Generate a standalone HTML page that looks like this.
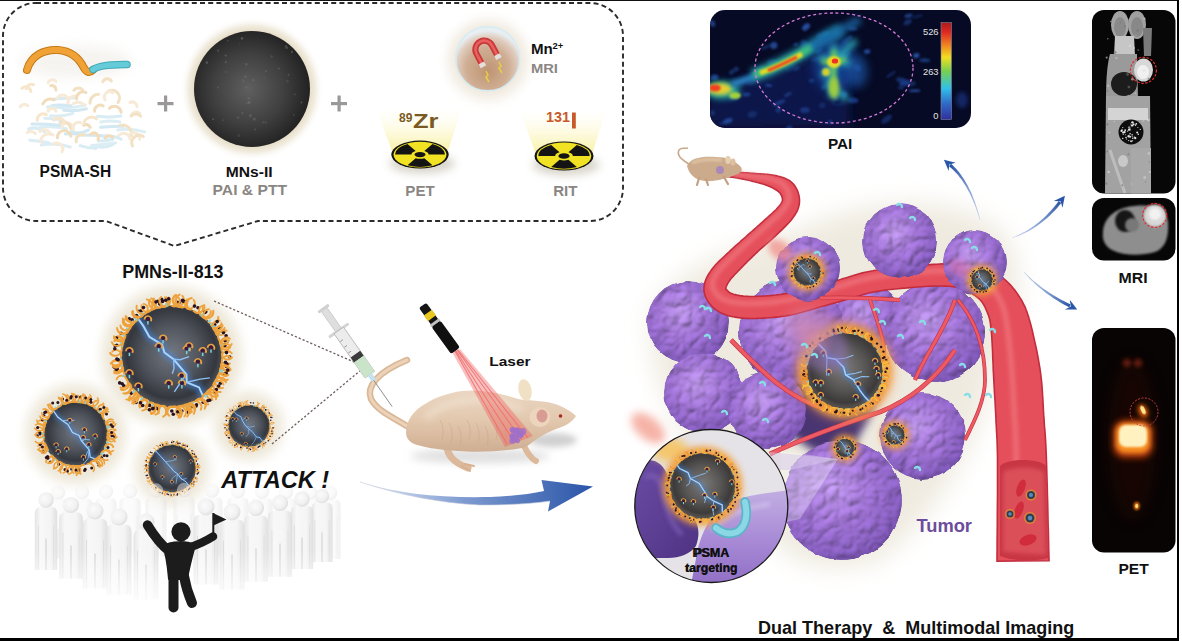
<!DOCTYPE html>
<html><head><meta charset="utf-8">
<style>
html,body{margin:0;padding:0;background:#fff;}
body{width:1182px;height:641px;overflow:hidden;position:relative;font-family:"Liberation Sans",sans-serif;}
svg{position:absolute;left:0;top:0;}
text{font-family:"Liberation Sans",sans-serif;font-weight:bold;}
</style></head>
<body>
<svg width="1182" height="641" viewBox="0 0 1182 641">
<defs>
  <filter id="b05" x="-50%" y="-50%" width="200%" height="200%"><feGaussianBlur stdDeviation="0.5"/></filter>
  <filter id="b1" x="-50%" y="-50%" width="200%" height="200%"><feGaussianBlur stdDeviation="1"/></filter>
  <filter id="b2" x="-50%" y="-50%" width="200%" height="200%"><feGaussianBlur stdDeviation="2"/></filter>
  <filter id="b3" x="-50%" y="-50%" width="200%" height="200%"><feGaussianBlur stdDeviation="3"/></filter>
  <filter id="b4" x="-50%" y="-50%" width="200%" height="200%"><feGaussianBlur stdDeviation="4"/></filter>
  <filter id="b6" x="-50%" y="-50%" width="200%" height="200%"><feGaussianBlur stdDeviation="6"/></filter>
  <filter id="b8" x="-50%" y="-50%" width="200%" height="200%"><feGaussianBlur stdDeviation="8"/></filter>
  <filter id="b12" x="-50%" y="-50%" width="200%" height="200%"><feGaussianBlur stdDeviation="12"/></filter>
  <radialGradient id="gSphere" cx="0.47" cy="0.5" r="0.55">
    <stop offset="0" stop-color="#5f5f5f"/><stop offset="0.55" stop-color="#404040"/><stop offset="1" stop-color="#1f1f1f"/>
  </radialGradient>
  <radialGradient id="gCore" cx="0.5" cy="0.47" r="0.5">
    <stop offset="0" stop-color="#747880"/><stop offset="0.55" stop-color="#50545c"/><stop offset="0.88" stop-color="#34373e"/><stop offset="1" stop-color="#4a4d54"/>
  </radialGradient>
  <radialGradient id="gCore2" cx="0.5" cy="0.47" r="0.5">
    <stop offset="0" stop-color="#7c7a78"/><stop offset="0.55" stop-color="#585654"/><stop offset="0.88" stop-color="#3c3a3a"/><stop offset="1" stop-color="#54504c"/>
  </radialGradient>
  <radialGradient id="gGlow" cx="0.5" cy="0.5" r="0.5">
    <stop offset="0.78" stop-color="#e2d8bf" stop-opacity="1"/><stop offset="0.88" stop-color="#ebe4d2" stop-opacity="0.7"/><stop offset="1" stop-color="#ffffff" stop-opacity="0"/>
  </radialGradient>
  <radialGradient id="gBubble" cx="0.5" cy="0.62" r="0.55" fx="0.5" fy="0.7">
    <stop offset="0" stop-color="#bf9472"/><stop offset="0.6" stop-color="#cfae94"/><stop offset="0.85" stop-color="#e0ccbe"/><stop offset="1" stop-color="#e8eef2"/>
  </radialGradient>
  <radialGradient id="gTum" cx="0.42" cy="0.38" r="0.68">
    <stop offset="0" stop-color="#b58ee2"/><stop offset="0.45" stop-color="#9a6ccf"/><stop offset="0.8" stop-color="#8358bc"/><stop offset="1" stop-color="#663e9e"/>
  </radialGradient>
  <linearGradient id="gBeam" x1="0" y1="1" x2="0" y2="0">
    <stop offset="0" stop-color="#f7ef9a" stop-opacity="1"/><stop offset="1" stop-color="#fffbe0" stop-opacity="0"/>
  </linearGradient>
  <linearGradient id="gArrow" x1="0" y1="0" x2="1" y2="0">
    <stop offset="0" stop-color="#e6ecf6"/><stop offset="0.45" stop-color="#7d9ad0"/><stop offset="1" stop-color="#2a55a8"/>
  </linearGradient>
  <linearGradient id="gCbar" x1="0" y1="0" x2="0" y2="1">
    <stop offset="0" stop-color="#a81c1c"/><stop offset="0.1" stop-color="#e02822"/><stop offset="0.25" stop-color="#f09020"/>
    <stop offset="0.36" stop-color="#f0e020"/><stop offset="0.5" stop-color="#78d050"/><stop offset="0.68" stop-color="#30c0e8"/>
    <stop offset="0.84" stop-color="#3068c8"/><stop offset="1" stop-color="#30309a"/>
  </linearGradient>
  <linearGradient id="gVes" x1="0" y1="0" x2="1" y2="0">
    <stop offset="0" stop-color="#d63848"/><stop offset="0.35" stop-color="#f0606a"/><stop offset="0.7" stop-color="#e8505c"/><stop offset="1" stop-color="#c82c3c"/>
  </linearGradient>
  <filter id="tumTex" x="-8%" y="-8%" width="116%" height="116%">
    <feTurbulence type="fractalNoise" baseFrequency="0.07" numOctaves="1" seed="2" result="dn"/>
    <feDisplacementMap in="SourceGraphic" in2="dn" scale="5" xChannelSelector="R" yChannelSelector="G" result="src"/>
    <feTurbulence type="turbulence" baseFrequency="0.075" numOctaves="2" seed="5" result="n0"/>
    <feGaussianBlur in="n0" stdDeviation="0.8" result="n"/>
    <feDiffuseLighting in="n" surfaceScale="2.6" diffuseConstant="1" lighting-color="#ffffff" result="l"><feDistantLight azimuth="235" elevation="48"/></feDiffuseLighting>
    <feComposite in="src" in2="l" operator="arithmetic" k1="1.18" k2="0.12" k3="0" k4="0.02" result="m"/>
    <feComposite in="m" in2="src" operator="in"/>
  </filter>
  <clipPath id="cPAI"><rect x="710" y="10" width="261" height="118" rx="15"/></clipPath>
  <clipPath id="cMRI1"><rect x="1092" y="10" width="83.5" height="183.5" rx="12"/></clipPath>
  <clipPath id="cMRI2"><rect x="1092" y="198" width="83.5" height="62.5" rx="12"/></clipPath>
  <clipPath id="cPET"><rect x="1092" y="328" width="83.5" height="224.5" rx="12"/></clipPath>
  <clipPath id="cCirc"><circle cx="711.3" cy="506" r="76.5"/></clipPath>
</defs>

<rect x="0" y="0" width="1177" height="1" fill="#111"/>
<rect x="1177" y="0" width="2" height="641" fill="#000"/>
<rect x="0" y="638" width="1179" height="3" fill="#000"/>
<path d="M36,3 H590 A33,33 0 0 1 623,36 V188 A33,33 0 0 1 590,221 H258 L174.5,246 L106,221 H36 A33,33 0 0 1 3,188 V36 A33,33 0 0 1 36,3 Z" fill="none" stroke="#2b2b2b" stroke-width="1.9" stroke-dasharray="5,3.2"/>
<ellipse cx="76" cy="62" rx="55" ry="16" fill="#efece6" filter="url(#b6)" opacity="0.6"/>
<path d="M80.0,135.1 Q93.4,135.3 106.8,136.0" stroke="#d2e8f2" stroke-width="3" stroke-linecap="round" fill="none"/>
<path d="M103.1,136.8 Q112.1,134.5 121.1,139.2" stroke="#d8ecf4" stroke-width="3" stroke-linecap="round" fill="none"/>
<path d="M63.7,110.3 Q75.1,111.7 86.4,108.8" stroke="#d2e8f2" stroke-width="3" stroke-linecap="round" fill="none"/>
<path d="M57.3,107.1 Q71.2,108.9 85.1,105.1" stroke="#dcedf4" stroke-width="3" stroke-linecap="round" fill="none"/>
<path d="M28.7,128.9 Q36.7,125.9 44.7,131.7" stroke="#d8ecf4" stroke-width="3" stroke-linecap="round" fill="none"/>
<path d="M96.0,146.0 Q104.3,148.8 112.7,144.7" stroke="#d8ecf4" stroke-width="3" stroke-linecap="round" fill="none"/>
<path d="M71.2,131.9 Q79.8,134.7 88.4,130.1" stroke="#d2e8f2" stroke-width="3" stroke-linecap="round" fill="none"/>
<path d="M54.6,99.1 Q64.9,98.1 75.3,97.7" stroke="#d8ecf4" stroke-width="3" stroke-linecap="round" fill="none"/>
<path d="M100.6,127.3 Q112.4,126.2 124.2,126.3" stroke="#d2e8f2" stroke-width="3" stroke-linecap="round" fill="none"/>
<path d="M100.8,122.0 Q110.3,120.1 119.8,121.9" stroke="#dcedf4" stroke-width="3" stroke-linecap="round" fill="none"/>
<path d="M41.2,145.0 Q55.7,142.1 70.3,147.0" stroke="#dcedf4" stroke-width="3" stroke-linecap="round" fill="none"/>
<path d="M97.5,116.3 Q109.1,117.6 120.8,116.0" stroke="#d8ecf4" stroke-width="3" stroke-linecap="round" fill="none"/>
<path d="M80.1,145.7 Q88.1,148.4 96.0,148.3" stroke="#d8ecf4" stroke-width="3" stroke-linecap="round" fill="none"/>
<path d="M50.5,115.7 Q61.7,117.2 72.9,113.4" stroke="#dcedf4" stroke-width="3" stroke-linecap="round" fill="none"/>
<path d="M98.5,141.0 Q105.8,141.1 113.1,139.2" stroke="#d8ecf4" stroke-width="3" stroke-linecap="round" fill="none"/>
<path d="M52.4,105.4 Q61.6,104.3 70.8,105.7" stroke="#d2e8f2" stroke-width="3" stroke-linecap="round" fill="none"/>
<path d="M47.6,106.9 Q55.2,105.7 62.8,108.2" stroke="#d8ecf4" stroke-width="3" stroke-linecap="round" fill="none"/>
<path d="M65.3,134.0 Q72.9,133.4 80.6,134.2" stroke="#d2e8f2" stroke-width="3" stroke-linecap="round" fill="none"/>
<path d="M39.2,127.7 Q52.8,125.6 66.4,128.6" stroke="#dcedf4" stroke-width="3" stroke-linecap="round" fill="none"/>
<path d="M117.8,129.9 Q131.2,127.7 144.6,131.9" stroke="#dcedf4" stroke-width="3" stroke-linecap="round" fill="none"/>
<path d="M91.6,145.5 Q103.6,145.1 115.6,143.1" stroke="#dcedf4" stroke-width="3" stroke-linecap="round" fill="none"/>
<path d="M29.8,140.2 Q39.2,141.0 48.5,142.8" stroke="#dcedf4" stroke-width="3" stroke-linecap="round" fill="none"/>
<path d="M31.9,124.1 Q46.6,124.0 61.3,125.5" stroke="#d2e8f2" stroke-width="3" stroke-linecap="round" fill="none"/>
<path d="M44.8,118.2 Q53.0,118.4 61.2,120.1" stroke="#dcedf4" stroke-width="3" stroke-linecap="round" fill="none"/>
<path d="M40.6,141.9 A8.3,8.3 0 0 1 53.0,134.9" stroke="#f7ead6" stroke-width="3" stroke-linecap="round" fill="none"/>
<path d="M27.3,132.5 A5.8,5.8 0 0 1 35.4,133.6" stroke="#f7ead6" stroke-width="3" stroke-linecap="round" fill="none"/>
<path d="M61.8,126.5 A5.4,5.4 0 0 1 71.9,126.3" stroke="#f7ead6" stroke-width="3" stroke-linecap="round" fill="none"/>
<path d="M130.0,102.4 A4.9,4.9 0 0 1 137.0,106.8" stroke="#f7ead6" stroke-width="3" stroke-linecap="round" fill="none"/>
<path d="M57.5,98.1 A5.4,5.4 0 0 1 67.3,98.1" stroke="#f7ead6" stroke-width="3" stroke-linecap="round" fill="none"/>
<path d="M60.0,122.5 A7.7,7.7 0 0 1 70.7,128.7" stroke="#f3e1c4" stroke-width="3" stroke-linecap="round" fill="none"/>
<path d="M120.0,125.4 A8.9,8.9 0 0 1 131.4,135.6" stroke="#f3e1c4" stroke-width="3" stroke-linecap="round" fill="none"/>
<path d="M42.8,103.9 A8.3,8.3 0 0 1 54.1,99.8" stroke="#f1dcbc" stroke-width="3" stroke-linecap="round" fill="none"/>
<path d="M39.8,131.5 A6.9,6.9 0 0 1 50.8,134.5" stroke="#f7ead6" stroke-width="3" stroke-linecap="round" fill="none"/>
<path d="M102.8,81.8 A4.8,4.8 0 0 1 111.4,81.0" stroke="#f3e1c4" stroke-width="3" stroke-linecap="round" fill="none"/>
<path d="M107.3,91.9 A7.6,7.6 0 0 1 118.0,102.5" stroke="#f3e1c4" stroke-width="3" stroke-linecap="round" fill="none"/>
<path d="M26.2,88.8 A5.6,5.6 0 0 1 33.6,84.7" stroke="#f6e6cc" stroke-width="3" stroke-linecap="round" fill="none"/>
<path d="M67.8,103.2 A7.3,7.3 0 0 1 76.4,96.1" stroke="#f7ead6" stroke-width="3" stroke-linecap="round" fill="none"/>
<path d="M20.1,106.8 A5.4,5.4 0 0 1 27.9,105.6" stroke="#f7ead6" stroke-width="3" stroke-linecap="round" fill="none"/>
<path d="M130.9,116.3 A5.5,5.5 0 0 1 139.8,113.3" stroke="#f7ead6" stroke-width="3" stroke-linecap="round" fill="none"/>
<path d="M130.2,134.0 A6.1,6.1 0 0 1 139.8,139.2" stroke="#f7ead6" stroke-width="3" stroke-linecap="round" fill="none"/>
<path d="M73.8,90.3 A5.9,5.9 0 0 1 82.7,90.0" stroke="#f3e1c4" stroke-width="3" stroke-linecap="round" fill="none"/>
<path d="M90.0,103.2 A8.5,8.5 0 0 1 98.6,94.3" stroke="#f3e1c4" stroke-width="3" stroke-linecap="round" fill="none"/>
<path d="M57.4,137.8 A6.8,6.8 0 0 1 70.9,136.3" stroke="#f1dcbc" stroke-width="3" stroke-linecap="round" fill="none"/>
<path d="M53.5,144.2 A5.9,5.9 0 0 1 62.0,151.9" stroke="#f7ead6" stroke-width="3" stroke-linecap="round" fill="none"/>
<path d="M105.2,99.9 A5.3,5.3 0 0 1 112.7,92.7" stroke="#f7ead6" stroke-width="3" stroke-linecap="round" fill="none"/>
<path d="M76.6,98.9 A6.4,6.4 0 0 1 85.9,92.5" stroke="#f1dcbc" stroke-width="3" stroke-linecap="round" fill="none"/>
<path d="M48.2,82.6 A4.7,4.7 0 0 1 56.0,81.3" stroke="#f7ead6" stroke-width="3" stroke-linecap="round" fill="none"/>
<path d="M48.0,111.3 A4.2,4.2 0 0 1 56.0,111.2" stroke="#f7ead6" stroke-width="3" stroke-linecap="round" fill="none"/>
<path d="M53.7,120.1 A6.4,6.4 0 0 1 64.6,122.7" stroke="#f6e6cc" stroke-width="3" stroke-linecap="round" fill="none"/>
<path d="M21.9,88.3 A5.4,5.4 0 0 1 30.9,91.4" stroke="#f6e6cc" stroke-width="3" stroke-linecap="round" fill="none"/>
<path d="M73.4,103.8 A7.7,7.7 0 0 1 84.3,105.4" stroke="#f7ead6" stroke-width="3" stroke-linecap="round" fill="none"/>
<path d="M83.6,125.3 A4.5,4.5 0 0 1 90.2,127.3" stroke="#f1dcbc" stroke-width="3" stroke-linecap="round" fill="none"/>
<path d="M109.5,108.2 A6.9,6.9 0 0 1 121.1,112.2" stroke="#f1dcbc" stroke-width="3" stroke-linecap="round" fill="none"/>
<path d="M118.7,135.5 A6.4,6.4 0 0 1 129.9,138.9" stroke="#f7ead6" stroke-width="3" stroke-linecap="round" fill="none"/>
<path d="M73.5,130.0 A5.5,5.5 0 0 1 80.7,122.7" stroke="#f7ead6" stroke-width="3" stroke-linecap="round" fill="none"/>
<path d="M94.6,111.2 A5.6,5.6 0 0 1 103.2,106.0" stroke="#f1dcbc" stroke-width="3" stroke-linecap="round" fill="none"/>
<path d="M131.9,115.5 A6.1,6.1 0 0 1 140.6,116.1" stroke="#f3e1c4" stroke-width="3" stroke-linecap="round" fill="none"/>
<path d="M50.7,85.6 A4.3,4.3 0 0 1 56.0,90.1" stroke="#f1dcbc" stroke-width="3" stroke-linecap="round" fill="none"/>
<path d="M132.5,145.9 A7.5,7.5 0 0 1 143.3,136.4" stroke="#f3e1c4" stroke-width="3" stroke-linecap="round" fill="none"/>
<path d="M90.7,134.4 A4.6,4.6 0 0 1 98.0,139.8" stroke="#f1dcbc" stroke-width="3" stroke-linecap="round" fill="none"/>
<path d="M37.2,120.3 A6.1,6.1 0 0 1 46.4,114.7" stroke="#f6e6cc" stroke-width="3" stroke-linecap="round" fill="none"/>
<path d="M83.9,123.6 A7.7,7.7 0 0 1 96.5,118.9" stroke="#f6e6cc" stroke-width="3" stroke-linecap="round" fill="none"/>
<path d="M105.4,138.0 A4.7,4.7 0 0 1 112.7,137.2" stroke="#f1dcbc" stroke-width="3" stroke-linecap="round" fill="none"/>
<path d="M76.3,141.9 A5.9,5.9 0 0 1 84.4,135.0" stroke="#f3e1c4" stroke-width="3" stroke-linecap="round" fill="none"/>
<path d="M27,70 C31,55 45,49 58,50 C72,51 80,60 84,68 C87,73 90,73 93,70" stroke="#c47a18" stroke-width="8" stroke-linecap="round" fill="none"/>
<path d="M27,70 C31,55 45,49 58,50 C72,51 80,60 84,68 C87,73 90,73 93,70" stroke="#f0a236" stroke-width="6" stroke-linecap="round" fill="none"/>
<path d="M93,69.5 C100,65 110,65 127,64.5" stroke="#3fa8b8" stroke-width="7.5" stroke-linecap="round" fill="none"/>
<path d="M93,69.5 C100,65 110,65 127,64.5" stroke="#66cbd8" stroke-width="5.5" stroke-linecap="round" fill="none"/>
<circle cx="252" cy="89" r="72" fill="url(#gGlow)"/>
<circle cx="252" cy="89" r="58" fill="url(#gSphere)"/>
<circle cx="255.1" cy="129.5" r="1.0" fill="#7a7a7a" opacity="0.38"/>
<circle cx="242.1" cy="79.0" r="0.6" fill="#7a7a7a" opacity="0.45"/>
<circle cx="250.4" cy="115.6" r="1.6" fill="#7a7a7a" opacity="0.34"/>
<circle cx="271.6" cy="56.5" r="1.2" fill="#7a7a7a" opacity="0.25"/>
<circle cx="218.1" cy="50.6" r="1.1" fill="#7a7a7a" opacity="0.42"/>
<circle cx="245.4" cy="76.7" r="1.4" fill="#7a7a7a" opacity="0.38"/>
<circle cx="248.9" cy="98.2" r="1.5" fill="#7a7a7a" opacity="0.34"/>
<circle cx="242.0" cy="38.4" r="1.3" fill="#7a7a7a" opacity="0.48"/>
<circle cx="213.1" cy="119.2" r="1.0" fill="#7a7a7a" opacity="0.48"/>
<circle cx="264.4" cy="77.2" r="0.7" fill="#7a7a7a" opacity="0.27"/>
<circle cx="287.5" cy="81.2" r="1.2" fill="#7a7a7a" opacity="0.29"/>
<circle cx="217.9" cy="87.4" r="1.0" fill="#7a7a7a" opacity="0.38"/>
<circle cx="206.9" cy="62.6" r="1.3" fill="#7a7a7a" opacity="0.48"/>
<circle cx="285.9" cy="46.0" r="1.3" fill="#7a7a7a" opacity="0.25"/>
<circle cx="286.6" cy="47.5" r="1.5" fill="#7a7a7a" opacity="0.37"/>
<circle cx="246.3" cy="64.4" r="1.4" fill="#7a7a7a" opacity="0.37"/>
<circle cx="249.0" cy="102.5" r="1.5" fill="#7a7a7a" opacity="0.50"/>
<circle cx="293.8" cy="115.0" r="1.0" fill="#7a7a7a" opacity="0.25"/>
<circle cx="238.9" cy="135.4" r="1.5" fill="#7a7a7a" opacity="0.21"/>
<circle cx="243.2" cy="81.3" r="1.3" fill="#7a7a7a" opacity="0.30"/>
<circle cx="291.9" cy="51.9" r="1.1" fill="#7a7a7a" opacity="0.50"/>
<circle cx="246.4" cy="103.2" r="1.2" fill="#7a7a7a" opacity="0.21"/>
<circle cx="263.4" cy="122.2" r="1.2" fill="#7a7a7a" opacity="0.25"/>
<circle cx="301.4" cy="102.5" r="0.9" fill="#7a7a7a" opacity="0.49"/>
<circle cx="278.9" cy="68.6" r="1.1" fill="#7a7a7a" opacity="0.36"/>
<circle cx="225.7" cy="55.6" r="1.2" fill="#7a7a7a" opacity="0.39"/>
<circle cx="288.5" cy="74.7" r="1.0" fill="#7a7a7a" opacity="0.42"/>
<circle cx="254.3" cy="119.1" r="1.6" fill="#7a7a7a" opacity="0.36"/>
<circle cx="246.4" cy="87.2" r="1.0" fill="#7a7a7a" opacity="0.37"/>
<circle cx="294.8" cy="94.4" r="1.2" fill="#7a7a7a" opacity="0.22"/>
<circle cx="225.8" cy="62.1" r="1.3" fill="#7a7a7a" opacity="0.31"/>
<circle cx="239.4" cy="43.5" r="0.6" fill="#7a7a7a" opacity="0.22"/>
<circle cx="227.8" cy="40.7" r="0.9" fill="#7a7a7a" opacity="0.34"/>
<circle cx="226.0" cy="71.9" r="1.0" fill="#7a7a7a" opacity="0.29"/>
<circle cx="223.1" cy="120.1" r="0.9" fill="#7a7a7a" opacity="0.31"/>
<circle cx="253.3" cy="80.1" r="1.2" fill="#7a7a7a" opacity="0.42"/>
<circle cx="242.4" cy="113.1" r="1.4" fill="#7a7a7a" opacity="0.27"/>
<circle cx="265.9" cy="122.5" r="1.3" fill="#7a7a7a" opacity="0.23"/>
<circle cx="238.1" cy="117.6" r="1.4" fill="#7a7a7a" opacity="0.33"/>
<circle cx="265.9" cy="71.2" r="0.9" fill="#7a7a7a" opacity="0.40"/>
<g fill="#9a9898"><rect x="157.5" y="102" width="16" height="3.2"/><rect x="164" y="95.5" width="3.2" height="16"/><rect x="331" y="102" width="16" height="3.2"/><rect x="337.5" y="95.5" width="3.2" height="16"/></g>
<circle cx="488" cy="60" r="40" fill="#ece4d6" filter="url(#b6)" opacity="0.8"/>
<circle cx="487.7" cy="58.8" r="32.5" fill="url(#gBubble)"/>
<circle cx="487.7" cy="58.8" r="32" fill="none" stroke="#d4ecf4" stroke-width="1.5"/>
<g transform="translate(485,51) rotate(-28) scale(0.88)"><path d="M-10,12 V-2 A10,10 0 0 1 10,-2 V12" fill="none" stroke="#c83838" stroke-width="7"/><path d="M-10,12 V-2 A10,10 0 0 1 10,-2 V12" fill="none" stroke="#e86060" stroke-width="3"/><rect x="-13.5" y="10" width="7" height="5" fill="#e4e0dc"/><rect x="6.5" y="10" width="7" height="5" fill="#e4e0dc"/></g>
<path d="M486,71 l2,4 l-2,2 l3,5" stroke="#e8d040" stroke-width="1.5" fill="none"/>
<path d="M499,62 l2,4 l-2,2 l3,5" stroke="#e8d040" stroke-width="1.5" fill="none"/>
<polygon points="376,108.6 462,108.6 446.7,154.6 393.3,154.6" fill="url(#gBeam)"/><ellipse cx="422" cy="163.6" rx="32.7" ry="9.799999999999999" fill="#c8c2b4" filter="url(#b4)" opacity="0.7"/><g transform="translate(420,154.6) scale(1,0.4878)"><circle r="28.7" fill="#141414"/><circle r="26.5" fill="#f2e224"/><path d="M-8.61,0.00 L-24.97,0.00 A24.968999999999998,24.968999999999998 0 0 1 -12.48,-21.62 L-4.31,-7.46 A8.61,8.61 0 0 0 -8.61,0.00Z" fill="#141414"/><path d="M4.31,-7.46 L12.48,-21.62 A24.968999999999998,24.968999999999998 0 0 1 24.97,-0.00 L8.61,-0.00 A8.61,8.61 0 0 0 4.31,-7.46Z" fill="#141414"/><path d="M4.31,7.46 L12.48,21.62 A24.968999999999998,24.968999999999998 0 0 1 -12.48,21.62 L-4.30,7.46 A8.61,8.61 0 0 0 4.31,7.46Z" fill="#141414"/><circle r="6.60" fill="#f2e224"/><circle r="5.45" fill="#141414"/></g>
<polygon points="520,110 606,110 591.5,156 536.5,156" fill="url(#gBeam)"/><ellipse cx="566" cy="165" rx="33.5" ry="10.149999999999999" fill="#c8c2b4" filter="url(#b4)" opacity="0.7"/><g transform="translate(564,156) scale(1,0.4915)"><circle r="29.5" fill="#141414"/><circle r="27.3" fill="#f2e224"/><path d="M-8.85,0.00 L-25.66,0.00 A25.665,25.665 0 0 1 -12.83,-22.23 L-4.43,-7.66 A8.85,8.85 0 0 0 -8.85,0.00Z" fill="#141414"/><path d="M4.43,-7.66 L12.83,-22.23 A25.665,25.665 0 0 1 25.66,-0.00 L8.85,-0.00 A8.85,8.85 0 0 0 4.43,-7.66Z" fill="#141414"/><path d="M4.43,7.66 L12.83,22.23 A25.665,25.665 0 0 1 -12.83,22.23 L-4.42,7.66 A8.85,8.85 0 0 0 4.43,7.66Z" fill="#141414"/><circle r="6.79" fill="#f2e224"/><circle r="5.61" fill="#141414"/></g>
<rect x="710" y="10" width="261" height="118" rx="15" fill="#070a24"/>
<g clip-path="url(#cPAI)">
<path d="M708,86 L760,76 L800,62 L830,48 L848,70 L850,128 L708,130Z" fill="#0b184a" filter="url(#b6)"/>
<ellipse cx="822.2" cy="105.6" rx="3.4" ry="3.0" fill="#163070" opacity="0.75" transform="rotate(-7 822.2 105.6)" filter="url(#b1)"/>
<ellipse cx="778.2" cy="110.2" rx="2.7" ry="2.5" fill="#2a58b0" opacity="0.47" transform="rotate(-0 778.2 110.2)" filter="url(#b1)"/>
<ellipse cx="752.3" cy="114.4" rx="4.8" ry="3.4" fill="#1c4488" opacity="0.51" transform="rotate(-13 752.3 114.4)" filter="url(#b1)"/>
<ellipse cx="727.6" cy="121.0" rx="5.2" ry="2.6" fill="#2a58b0" opacity="0.74" transform="rotate(-20 727.6 121.0)" filter="url(#b1)"/>
<ellipse cx="818.8" cy="51.0" rx="3.9" ry="1.3" fill="#2a58b0" opacity="0.78" transform="rotate(-22 818.8 51.0)" filter="url(#b1)"/>
<ellipse cx="916.3" cy="55.5" rx="3.2" ry="2.5" fill="#2a58b0" opacity="0.88" transform="rotate(-14 916.3 55.5)" filter="url(#b1)"/>
<ellipse cx="751.4" cy="82.1" rx="4.7" ry="3.3" fill="#1c4488" opacity="0.53" transform="rotate(-25 751.4 82.1)" filter="url(#b1)"/>
<ellipse cx="833.6" cy="102.8" rx="2.0" ry="2.9" fill="#163070" opacity="0.57" transform="rotate(-17 833.6 102.8)" filter="url(#b1)"/>
<ellipse cx="768.6" cy="85.4" rx="3.5" ry="1.4" fill="#21489c" opacity="0.89" transform="rotate(6 768.6 85.4)" filter="url(#b1)"/>
<ellipse cx="714.4" cy="77.4" rx="4.0" ry="2.9" fill="#21489c" opacity="0.88" transform="rotate(-10 714.4 77.4)" filter="url(#b1)"/>
<ellipse cx="891.0" cy="74.3" rx="6.1" ry="1.3" fill="#163070" opacity="0.86" transform="rotate(-35 891.0 74.3)" filter="url(#b1)"/>
<ellipse cx="846.8" cy="40.0" rx="6.8" ry="2.5" fill="#1c4488" opacity="0.80" transform="rotate(-38 846.8 40.0)" filter="url(#b1)"/>
<ellipse cx="900.9" cy="80.0" rx="4.8" ry="2.4" fill="#21489c" opacity="0.62" transform="rotate(8 900.9 80.0)" filter="url(#b1)"/>
<ellipse cx="789.1" cy="127.8" rx="3.5" ry="2.0" fill="#21489c" opacity="0.70" transform="rotate(-14 789.1 127.8)" filter="url(#b1)"/>
<ellipse cx="822.5" cy="34.3" rx="6.5" ry="2.5" fill="#1c4488" opacity="0.49" transform="rotate(-17 822.5 34.3)" filter="url(#b1)"/>
<ellipse cx="807.4" cy="46.1" rx="6.9" ry="3.1" fill="#21489c" opacity="0.63" transform="rotate(-2 807.4 46.1)" filter="url(#b1)"/>
<ellipse cx="904.8" cy="83.0" rx="5.9" ry="3.1" fill="#1a3c8c" opacity="0.89" transform="rotate(-17 904.8 83.0)" filter="url(#b1)"/>
<ellipse cx="886.6" cy="119.2" rx="6.3" ry="3.0" fill="#1a3c8c" opacity="0.61" transform="rotate(-37 886.6 119.2)" filter="url(#b1)"/>
<ellipse cx="825.9" cy="33.8" rx="3.3" ry="2.0" fill="#1c4488" opacity="0.87" transform="rotate(-11 825.9 33.8)" filter="url(#b1)"/>
<ellipse cx="924.7" cy="60.3" rx="5.8" ry="2.0" fill="#1c4488" opacity="0.78" transform="rotate(2 924.7 60.3)" filter="url(#b1)"/>
<ellipse cx="717.2" cy="96.8" rx="3.6" ry="1.5" fill="#163070" opacity="0.46" transform="rotate(2 717.2 96.8)" filter="url(#b1)"/>
<ellipse cx="857.2" cy="68.0" rx="3.1" ry="3.5" fill="#21489c" opacity="0.79" transform="rotate(-32 857.2 68.0)" filter="url(#b1)"/>
<ellipse cx="773.2" cy="62.6" rx="6.5" ry="3.0" fill="#1c4488" opacity="0.70" transform="rotate(5 773.2 62.6)" filter="url(#b1)"/>
<ellipse cx="852.6" cy="28.5" rx="4.7" ry="1.9" fill="#1c4488" opacity="0.80" transform="rotate(4 852.6 28.5)" filter="url(#b1)"/>
<ellipse cx="746.3" cy="94.5" rx="4.1" ry="1.9" fill="#21489c" opacity="0.78" transform="rotate(-2 746.3 94.5)" filter="url(#b1)"/>
<ellipse cx="736.3" cy="69.2" rx="2.4" ry="2.4" fill="#2a58b0" opacity="0.52" transform="rotate(-36 736.3 69.2)" filter="url(#b1)"/>
<ellipse cx="773.8" cy="45.5" rx="3.6" ry="3.4" fill="#2a58b0" opacity="0.77" transform="rotate(-25 773.8 45.5)" filter="url(#b1)"/>
<ellipse cx="900.9" cy="87.8" rx="3.2" ry="1.7" fill="#163070" opacity="0.83" transform="rotate(2 900.9 87.8)" filter="url(#b1)"/>
<ellipse cx="803.8" cy="43.3" rx="3.5" ry="3.4" fill="#1a3c8c" opacity="0.72" transform="rotate(4 803.8 43.3)" filter="url(#b1)"/>
<ellipse cx="712.6" cy="112.8" rx="2.3" ry="2.8" fill="#1c4488" opacity="0.65" transform="rotate(-19 712.6 112.8)" filter="url(#b1)"/>
<ellipse cx="765.8" cy="47.1" rx="5.8" ry="1.7" fill="#21489c" opacity="0.50" transform="rotate(-22 765.8 47.1)" filter="url(#b1)"/>
<ellipse cx="846.2" cy="56.0" rx="5.3" ry="2.0" fill="#2a58b0" opacity="0.65" transform="rotate(-34 846.2 56.0)" filter="url(#b1)"/>
<ellipse cx="835.6" cy="97.6" rx="2.7" ry="3.2" fill="#1a3c8c" opacity="0.78" transform="rotate(-29 835.6 97.6)" filter="url(#b1)"/>
<ellipse cx="796.4" cy="68.4" rx="3.6" ry="2.1" fill="#21489c" opacity="0.51" transform="rotate(-31 796.4 68.4)" filter="url(#b1)"/>
<ellipse cx="712.5" cy="23.4" rx="2.5" ry="3.5" fill="#2a58b0" opacity="0.65" transform="rotate(-27 712.5 23.4)" filter="url(#b1)"/>
<ellipse cx="824.2" cy="87.1" rx="3.3" ry="2.5" fill="#1c4488" opacity="0.79" transform="rotate(-38 824.2 87.1)" filter="url(#b1)"/>
<ellipse cx="825.3" cy="74.0" rx="5.5" ry="1.8" fill="#1a3c8c" opacity="0.71" transform="rotate(5 825.3 74.0)" filter="url(#b1)"/>
<ellipse cx="790.0" cy="67.5" rx="6.0" ry="3.5" fill="#163070" opacity="0.58" transform="rotate(-29 790.0 67.5)" filter="url(#b1)"/>
<ellipse cx="839.2" cy="104.3" rx="4.6" ry="1.5" fill="#163070" opacity="0.59" transform="rotate(-9 839.2 104.3)" filter="url(#b1)"/>
<ellipse cx="733.5" cy="98.2" rx="5.2" ry="2.5" fill="#21489c" opacity="0.62" transform="rotate(-6 733.5 98.2)" filter="url(#b1)"/>
<ellipse cx="828.8" cy="62.7" rx="2.0" ry="2.3" fill="#2a58b0" opacity="0.84" transform="rotate(-13 828.8 62.7)" filter="url(#b1)"/>
<ellipse cx="779.5" cy="65.3" rx="6.4" ry="1.4" fill="#1a3c8c" opacity="0.72" transform="rotate(-25 779.5 65.3)" filter="url(#b1)"/>
<ellipse cx="853.2" cy="100.4" rx="5.4" ry="2.8" fill="#1a3c8c" opacity="0.83" transform="rotate(2 853.2 100.4)" filter="url(#b1)"/>
<ellipse cx="914.8" cy="90.7" rx="6.0" ry="1.4" fill="#2a58b0" opacity="0.78" transform="rotate(0 914.8 90.7)" filter="url(#b1)"/>
<ellipse cx="815.2" cy="59.6" rx="4.9" ry="2.5" fill="#163070" opacity="0.77" transform="rotate(-10 815.2 59.6)" filter="url(#b1)"/>
<ellipse cx="911.6" cy="84.0" rx="4.3" ry="2.2" fill="#1c4488" opacity="0.58" transform="rotate(-18 911.6 84.0)" filter="url(#b1)"/>
<ellipse cx="721.3" cy="123.4" rx="2.0" ry="1.3" fill="#21489c" opacity="0.53" transform="rotate(-4 721.3 123.4)" filter="url(#b1)"/>
<ellipse cx="830.3" cy="122.0" rx="2.1" ry="2.4" fill="#1a3c8c" opacity="0.78" transform="rotate(-5 830.3 122.0)" filter="url(#b1)"/>
<ellipse cx="779.1" cy="102.8" rx="6.9" ry="2.0" fill="#21489c" opacity="0.70" transform="rotate(-24 779.1 102.8)" filter="url(#b1)"/>
<ellipse cx="806.0" cy="26.9" rx="4.5" ry="2.9" fill="#2a58b0" opacity="0.86" transform="rotate(-40 806.0 26.9)" filter="url(#b1)"/>
<ellipse cx="795.8" cy="44.5" rx="2.7" ry="1.2" fill="#21489c" opacity="0.87" transform="rotate(-17 795.8 44.5)" filter="url(#b1)"/>
<ellipse cx="787.8" cy="94.5" rx="4.3" ry="1.6" fill="#2a58b0" opacity="0.52" transform="rotate(-28 787.8 94.5)" filter="url(#b1)"/>
<ellipse cx="732.0" cy="72.0" rx="3.3" ry="2.2" fill="#1c4488" opacity="0.65" transform="rotate(-40 732.0 72.0)" filter="url(#b1)"/>
<ellipse cx="820.6" cy="36.7" rx="3.8" ry="2.8" fill="#1a3c8c" opacity="0.49" transform="rotate(-2 820.6 36.7)" filter="url(#b1)"/>
<ellipse cx="758.9" cy="70.7" rx="6.2" ry="2.5" fill="#21489c" opacity="0.70" transform="rotate(-40 758.9 70.7)" filter="url(#b1)"/>
<ellipse cx="908.5" cy="15.8" rx="4.1" ry="2.0" fill="#2a58b0" opacity="0.67" transform="rotate(-11 908.5 15.8)" filter="url(#b1)"/>
<ellipse cx="844.3" cy="45.0" rx="6.0" ry="2.7" fill="#1c4488" opacity="0.48" transform="rotate(-26 844.3 45.0)" filter="url(#b1)"/>
<ellipse cx="867.1" cy="51.5" rx="3.2" ry="2.3" fill="#2a58b0" opacity="0.81" transform="rotate(-8 867.1 51.5)" filter="url(#b1)"/>
<ellipse cx="844.4" cy="93.9" rx="2.8" ry="2.6" fill="#21489c" opacity="0.85" transform="rotate(7 844.4 93.9)" filter="url(#b1)"/>
<ellipse cx="809.9" cy="48.0" rx="5.5" ry="3.0" fill="#1a3c8c" opacity="0.77" transform="rotate(-33 809.9 48.0)" filter="url(#b1)"/>
<ellipse cx="917.6" cy="16.3" rx="5.9" ry="1.4" fill="#163070" opacity="0.69" transform="rotate(-15 917.6 16.3)" filter="url(#b1)"/>
<ellipse cx="907.7" cy="22.1" rx="4.5" ry="2.6" fill="#21489c" opacity="0.56" transform="rotate(-33 907.7 22.1)" filter="url(#b1)"/>
<ellipse cx="804.9" cy="110.1" rx="5.0" ry="3.0" fill="#21489c" opacity="0.61" transform="rotate(-1 804.9 110.1)" filter="url(#b1)"/>
<ellipse cx="811.6" cy="80.6" rx="2.9" ry="2.2" fill="#1c4488" opacity="0.73" transform="rotate(8 811.6 80.6)" filter="url(#b1)"/>
<ellipse cx="722" cy="90" rx="18" ry="9" fill="#20a8a0" filter="url(#b3)"/>
<ellipse cx="720" cy="89" rx="12" ry="6" fill="#e0d030" filter="url(#b2)"/>
<ellipse cx="715" cy="88" rx="6" ry="3.5" fill="#f04020" filter="url(#b1)"/>
<ellipse cx="735" cy="95.5" rx="6" ry="3.5" fill="#a0d040" filter="url(#b1)"/>
<path d="M732,84 C740,82 748,79 756,76" stroke="#2a80c0" stroke-width="7" fill="none" filter="url(#b2)"/>
<path d="M752,76 C770,70 790,60 812,47 C822,40 832,34 842,30" stroke="#2090b0" stroke-width="14" fill="none" opacity="0.8" filter="url(#b3)"/>
<path d="M754,75 C770,70 788,62 812,47" stroke="#40c080" stroke-width="8" fill="none" filter="url(#b2)"/>
<path d="M760,73 C772,69 786,63 802,54" stroke="#e0d828" stroke-width="5" fill="none" filter="url(#b1)"/>
<path d="M768,70.5 C777,67 787,62 797,57" stroke="#ee3820" stroke-width="3" fill="none" filter="url(#b1)"/>
<path d="M812,47 C825,38 840,30 860,20" stroke="#1a70b0" stroke-width="8" fill="none" opacity="0.8" filter="url(#b3)"/>
<ellipse cx="836" cy="66" rx="22" ry="26" fill="#1848a0" opacity="0.75" filter="url(#b6)"/>
<path d="M834,44 L832,98 M818,58 L852,64 M822,76 L846,54 M826,82 L848,100 M836,60 L856,40" stroke="#2aa8b8" stroke-width="6" fill="none" filter="url(#b3)"/>
<path d="M834,50 L833,92 M822,62 L846,60" stroke="#70c850" stroke-width="4.5" fill="none" filter="url(#b2)"/>
<ellipse cx="834" cy="62" rx="7" ry="6" fill="#e8d828" filter="url(#b1)"/>
<ellipse cx="835" cy="61" rx="3.2" ry="2.6" fill="#f03020" filter="url(#b05)"/>
<ellipse cx="834" cy="88" rx="5" ry="11" fill="#a0cc40" filter="url(#b2)"/>
<ellipse cx="826" cy="72" rx="4" ry="4" fill="#d0d030" filter="url(#b1)"/>
<ellipse cx="858" cy="72" rx="10" ry="16" fill="#1a58a8" opacity="0.6" filter="url(#b4)"/>
<ellipse cx="962" cy="100" rx="6" ry="8" fill="#1a3a90" opacity="0.6" filter="url(#b2)"/>
</g>
<ellipse cx="834" cy="68" rx="79" ry="55" fill="none" stroke="#d27ad8" stroke-width="1.3" stroke-dasharray="3,2.6"/>
<rect x="941" y="22.5" width="10.5" height="97" fill="url(#gCbar)" stroke="#8080a0" stroke-width="0.6"/>
<g font-size="9.3" fill="#e4e4e4" font-weight="normal" text-anchor="end" style="font-weight:normal"><text x="938.5" y="34.5" style="font-weight:normal">526</text><text x="938.5" y="74.6" style="font-weight:normal">263</text><text x="938.5" y="119.3" style="font-weight:normal">0</text></g>
<rect x="1092" y="10" width="83.5" height="183.5" rx="12" fill="#070707"/>
<g clip-path="url(#cMRI1)">
<g filter="url(#b05)">
<ellipse cx="1120" cy="25" rx="9" ry="14" fill="#a4a4a4"/><ellipse cx="1137" cy="25" rx="9" ry="14" fill="#a0a0a0"/>
<ellipse cx="1120" cy="27" rx="6" ry="10" fill="#8a8a8a"/><ellipse cx="1137" cy="27" rx="6" ry="10" fill="#888"/>
<path d="M1115,36 L1134,36 L1135,56 L1114,56Z" fill="#c6c6c6"/>
<path d="M1110,54 L1137,54 L1138,100 L1106,100 C1106,80 1107,65 1110,54Z" fill="#9a9a9a"/>
<ellipse cx="1124" cy="84" rx="13" ry="12" fill="#1c1c1c"/>
<path d="M1143,28 L1152,28 L1151,56 L1144,56Z" fill="#7a7a7a"/>
<ellipse cx="1143.5" cy="70" rx="9.5" ry="11.5" fill="#d8d8d8"/>
<ellipse cx="1143" cy="72" rx="6" ry="7" fill="#f0f0f0"/>
<path d="M1106,96 L1150,96 L1151,193 L1105,193 Z" fill="#a2a2a2"/>
<rect x="1108" y="108" width="40" height="12" fill="#d4d4d4"/>
<ellipse cx="1131" cy="132" rx="12.5" ry="12.5" fill="#0e0e0e"/>
<rect x="1131" y="148" width="20" height="46" fill="#a8a8a8"/>
<ellipse cx="1123" cy="161" rx="5" ry="6" fill="#c8c8c8"/>
<path d="M1110,150 C1115,165 1120,180 1125,193" stroke="#bdbdbd" stroke-width="3" fill="none"/>
</g>
<circle cx="1130.3" cy="129.8" r="0.6" fill="#e4e4e4"/>
<circle cx="1131.1" cy="140.9" r="0.6" fill="#e4e4e4"/>
<circle cx="1132.1" cy="134.9" r="0.5" fill="#e4e4e4"/>
<circle cx="1128.6" cy="136.8" r="0.8" fill="#e4e4e4"/>
<circle cx="1135.5" cy="125.3" r="0.7" fill="#e4e4e4"/>
<circle cx="1123.2" cy="132.6" r="1.1" fill="#e4e4e4"/>
<circle cx="1132.8" cy="138.3" r="0.8" fill="#e4e4e4"/>
<circle cx="1135.9" cy="124.1" r="0.7" fill="#e4e4e4"/>
<circle cx="1134.5" cy="137.2" r="0.8" fill="#e4e4e4"/>
<circle cx="1122.8" cy="127.6" r="0.6" fill="#e4e4e4"/>
<circle cx="1126.6" cy="139.0" r="0.6" fill="#e4e4e4"/>
<circle cx="1122.1" cy="130.0" r="0.8" fill="#e4e4e4"/>
<circle cx="1121.5" cy="130.9" r="1.1" fill="#e4e4e4"/>
<circle cx="1123.2" cy="134.5" r="0.6" fill="#e4e4e4"/>
<circle cx="1132.6" cy="140.8" r="0.6" fill="#e4e4e4"/>
<circle cx="1131.8" cy="122.4" r="0.6" fill="#e4e4e4"/>
<circle cx="1130.9" cy="141.3" r="0.8" fill="#e4e4e4"/>
<circle cx="1129.0" cy="135.4" r="0.6" fill="#e4e4e4"/>
<circle cx="1132.6" cy="125.6" r="0.9" fill="#e4e4e4"/>
<circle cx="1132.1" cy="134.7" r="0.6" fill="#e4e4e4"/>
<circle cx="1125.7" cy="134.8" r="0.5" fill="#e4e4e4"/>
<circle cx="1128.3" cy="136.2" r="0.9" fill="#e4e4e4"/>
<circle cx="1136.5" cy="123.8" r="0.7" fill="#e4e4e4"/>
<circle cx="1138.3" cy="134.3" r="0.8" fill="#e4e4e4"/>
<circle cx="1132.5" cy="122.4" r="1.1" fill="#e4e4e4"/>
<circle cx="1127.6" cy="131.1" r="0.6" fill="#e4e4e4"/>
<circle cx="1129.9" cy="128.8" r="0.6" fill="#e4e4e4"/>
<circle cx="1133.6" cy="124.2" r="1.0" fill="#e4e4e4"/>
<circle cx="1137.2" cy="132.4" r="1.0" fill="#e4e4e4"/>
<circle cx="1126.0" cy="137.5" r="0.8" fill="#e4e4e4"/>
<circle cx="1129.0" cy="129.8" r="1.1" fill="#e4e4e4"/>
<circle cx="1128.4" cy="136.0" r="0.6" fill="#e4e4e4"/>
<circle cx="1137.9" cy="127.4" r="0.5" fill="#e4e4e4"/>
<circle cx="1133.1" cy="122.2" r="0.5" fill="#e4e4e4"/>
<circle cx="1125.2" cy="130.2" r="0.9" fill="#e4e4e4"/>
<circle cx="1140.3" cy="129.4" r="0.6" fill="#e4e4e4"/>
<circle cx="1132.2" cy="124.9" r="0.6" fill="#e4e4e4"/>
<circle cx="1132.1" cy="136.6" r="0.5" fill="#e4e4e4"/>
<circle cx="1130.0" cy="136.8" r="1.0" fill="#e4e4e4"/>
<circle cx="1128.7" cy="140.6" r="0.6" fill="#e4e4e4"/>
<circle cx="1135.3" cy="138.2" r="1.1" fill="#e4e4e4"/>
<circle cx="1130.9" cy="124.1" r="0.5" fill="#e4e4e4"/>
<circle cx="1131.6" cy="125.6" r="0.9" fill="#e4e4e4"/>
<circle cx="1122.7" cy="138.4" r="0.7" fill="#e4e4e4"/>
<circle cx="1130.1" cy="133.7" r="0.8" fill="#e4e4e4"/>
<circle cx="1124.5" cy="132.1" r="1.2" fill="#e4e4e4"/>
<circle cx="1131.7" cy="141.8" r="0.5" fill="#e4e4e4"/>
<circle cx="1149.7" cy="172.0" r="1.1" fill="#e0e0e0" opacity="0.6"/>
<circle cx="1129.2" cy="127.5" r="1.3" fill="#e0e0e0" opacity="0.6"/>
<circle cx="1131.3" cy="184.0" r="0.7" fill="#d0d0d0" opacity="0.6"/>
<circle cx="1137.7" cy="30.6" r="1.2" fill="#707070" opacity="0.6"/>
<circle cx="1108.7" cy="172.0" r="1.3" fill="#e0e0e0" opacity="0.6"/>
<circle cx="1132.5" cy="79.2" r="1.4" fill="#d0d0d0" opacity="0.6"/>
<circle cx="1122.3" cy="185.3" r="1.1" fill="#707070" opacity="0.6"/>
<circle cx="1144.5" cy="18.5" r="1.1" fill="#e0e0e0" opacity="0.6"/>
<circle cx="1108.1" cy="85.8" r="1.1" fill="#d0d0d0" opacity="0.6"/>
<circle cx="1114.3" cy="121.5" r="0.8" fill="#d0d0d0" opacity="0.6"/>
<circle cx="1107.3" cy="124.4" r="1.1" fill="#707070" opacity="0.6"/>
<circle cx="1107.1" cy="151.6" r="0.9" fill="#707070" opacity="0.6"/>
<circle cx="1106.4" cy="183.7" r="1.1" fill="#707070" opacity="0.6"/>
<circle cx="1149.4" cy="161.9" r="0.7" fill="#707070" opacity="0.6"/>
<circle cx="1135.5" cy="93.3" r="0.7" fill="#d0d0d0" opacity="0.6"/>
<circle cx="1110.8" cy="21.5" r="0.7" fill="#e0e0e0" opacity="0.6"/>
<circle cx="1149.0" cy="79.0" r="1.3" fill="#707070" opacity="0.6"/>
<circle cx="1133.6" cy="48.1" r="1.4" fill="#d0d0d0" opacity="0.6"/>
<circle cx="1116.4" cy="58.1" r="1.1" fill="#d0d0d0" opacity="0.6"/>
<circle cx="1106.7" cy="57.6" r="1.1" fill="#d0d0d0" opacity="0.6"/>
<circle cx="1128.9" cy="87.1" r="1.4" fill="#707070" opacity="0.6"/>
<circle cx="1143.5" cy="120.9" r="0.8" fill="#d0d0d0" opacity="0.6"/>
<circle cx="1136.0" cy="35.8" r="0.6" fill="#d0d0d0" opacity="0.6"/>
<circle cx="1148.9" cy="153.5" r="1.4" fill="#d0d0d0" opacity="0.6"/>
<circle cx="1144.6" cy="177.6" r="1.5" fill="#d0d0d0" opacity="0.6"/>
<circle cx="1107.3" cy="91.1" r="1.0" fill="#707070" opacity="0.6"/>
<circle cx="1127.6" cy="74.4" r="1.4" fill="#707070" opacity="0.6"/>
<circle cx="1124.9" cy="26.1" r="0.9" fill="#707070" opacity="0.6"/>
<circle cx="1132.9" cy="114.3" r="1.0" fill="#d0d0d0" opacity="0.6"/>
<circle cx="1120.5" cy="22.6" r="0.7" fill="#707070" opacity="0.6"/>
<circle cx="1129.9" cy="45.9" r="1.2" fill="#e0e0e0" opacity="0.6"/>
<circle cx="1145.5" cy="181.9" r="0.7" fill="#707070" opacity="0.6"/>
<circle cx="1148.3" cy="119.9" r="1.4" fill="#e0e0e0" opacity="0.6"/>
<circle cx="1138.3" cy="50.0" r="1.1" fill="#707070" opacity="0.6"/>
<circle cx="1109.3" cy="132.6" r="1.0" fill="#d0d0d0" opacity="0.6"/>
<circle cx="1144.1" cy="70.3" r="1.4" fill="#e0e0e0" opacity="0.6"/>
<circle cx="1128.1" cy="95.4" r="0.6" fill="#e0e0e0" opacity="0.6"/>
<circle cx="1115.0" cy="52.3" r="1.5" fill="#707070" opacity="0.6"/>
<circle cx="1107.8" cy="38.8" r="0.7" fill="#d0d0d0" opacity="0.6"/>
<circle cx="1128.4" cy="154.2" r="1.0" fill="#707070" opacity="0.6"/>
</g>
<circle cx="1143.4" cy="70.3" r="13" fill="none" stroke="#e03030" stroke-width="1.2" stroke-dasharray="2.5,1.5"/>
<rect x="1092" y="198" width="83.5" height="62.5" rx="12" fill="#070707"/>
<g clip-path="url(#cMRI2)">
<path d="M1103,232 C1104,216 1118,207 1135,206 C1150,204 1166,208 1168,222 C1169,236 1166,248 1155,252 C1140,256 1125,256 1112,250 C1105,246 1102,240 1103,232Z" fill="#8e8e8e" filter="url(#b1)"/>
<ellipse cx="1125" cy="221" rx="10" ry="11" fill="#181818" filter="url(#b1)"/>
<ellipse cx="1132" cy="225" rx="7" ry="7" fill="#787878" filter="url(#b1)"/>
<circle cx="1155" cy="215.5" r="11" fill="#d8d8d8" filter="url(#b1)"/>
<circle cx="1155" cy="214" r="6" fill="#f2f2f2" filter="url(#b1)"/>
</g>
<circle cx="1154.7" cy="215.5" r="12" fill="none" stroke="#e03030" stroke-width="1.2" stroke-dasharray="2.5,1.5"/>
<rect x="1092" y="328" width="83.5" height="224.5" rx="12" fill="#080404"/>
<g clip-path="url(#cPET)">
<ellipse cx="1132" cy="440" rx="24" ry="80" fill="#3a0c04" opacity="0.3" filter="url(#b8)"/>
<ellipse cx="1127" cy="363" rx="4" ry="4" fill="#6a1c0c" filter="url(#b2)"/>
<ellipse cx="1138" cy="363" rx="4" ry="4" fill="#6a1c0c" filter="url(#b2)"/>
<rect x="1113" y="420" width="40" height="38" rx="12" fill="#b03808" filter="url(#b3)"/>
<rect x="1116" y="423" width="34" height="30" rx="9" fill="#f89020" filter="url(#b2)"/>
<rect x="1119" y="425" width="28" height="22" rx="7" fill="#fff2c0" filter="url(#b1)"/>
<ellipse cx="1143" cy="411" rx="4.5" ry="7" fill="#e06010" filter="url(#b2)" transform="rotate(-25 1143 411)"/>
<ellipse cx="1143" cy="410" rx="2" ry="4.5" fill="#ffe890" filter="url(#b05)" transform="rotate(-25 1143 410)"/>
<ellipse cx="1136.7" cy="506" rx="3" ry="4" fill="#e07010" filter="url(#b1)"/>
<ellipse cx="1136.7" cy="506" rx="1.5" ry="2" fill="#ffe080"/>
</g>
<circle cx="1144" cy="412" r="14" fill="none" stroke="#c84040" stroke-width="1" stroke-dasharray="2,1.5"/>
<clipPath id="pc1"><circle cx="75.7" cy="434" r="32.5"/></clipPath><circle cx="75.7" cy="434" r="50" fill="#ece6d6" filter="url(#b6)" opacity="0.95"/><circle cx="75.7" cy="434" r="32.5" fill="url(#gCore)"/><g clip-path="url(#pc1)"><path d="M52.3,409.1 L57.7,417.0 L62.2,420.5 L67.9,424.5 L72.5,432.5 L79.0,435.4 L81.5,441.0 L89.2,449.8 L90.2,457.0 L100.1,460.9" stroke="#3f86e0" stroke-width="5.2" fill="none" opacity="0.5" filter="url(#b2)"/><path d="M52.3,409.1 L57.7,417.0 L62.2,420.5 L67.9,424.5 L72.5,432.5 L79.0,435.4 L81.5,441.0 L89.2,449.8 L90.2,457.0 L100.1,460.9" stroke="#a8d4ff" stroke-width="1.3" fill="none"/><path d="M81.5,441.0 L84.5,439.4 L90.0,439.9" stroke="#8cc0f4" stroke-width="0.9" fill="none"/><path d="M62.2,420.5 L69.0,420.4 L74.6,420.3" stroke="#8cc0f4" stroke-width="0.9" fill="none"/><path d="M89.2,449.8 L88.0,458.7 L82.9,464.8" stroke="#8cc0f4" stroke-width="0.9" fill="none"/><path d="M89.2,449.8 L87.5,451.9 L85.3,457.2" stroke="#8cc0f4" stroke-width="0.9" fill="none"/></g><path d="M86.6,445.0 a2.2,2.2 0 1 1 4.1,1.1" stroke="#e8a040" stroke-width="1.2" fill="none"/><circle cx="88.8" cy="444.5" r="1.4" fill="#3c1a40"/><path d="M88.8,445.9 v2.2" stroke="#7cd4e0" stroke-width="0.9"/><path d="M81.0,437.7 a2.2,2.2 0 1 1 4.1,1.1" stroke="#e8a040" stroke-width="1.2" fill="none"/><circle cx="83.1" cy="437.3" r="1.4" fill="#3c1a40"/><path d="M83.1,438.7 v2.2" stroke="#7cd4e0" stroke-width="0.9"/><path d="M67.6,420.7 a2.2,2.2 0 1 1 4.1,1.1" stroke="#e8a040" stroke-width="1.2" fill="none"/><circle cx="69.8" cy="420.3" r="1.4" fill="#3c1a40"/><path d="M69.8,421.7 v2.2" stroke="#7cd4e0" stroke-width="0.9"/><path d="M82.2,430.1 a2.2,2.2 0 1 1 4.1,1.1" stroke="#e8a040" stroke-width="1.2" fill="none"/><circle cx="84.4" cy="429.7" r="1.4" fill="#3c1a40"/><path d="M84.4,431.1 v2.2" stroke="#7cd4e0" stroke-width="0.9"/><path d="M56.0,451.9 a2.2,2.2 0 1 1 4.1,1.1" stroke="#e8a040" stroke-width="1.2" fill="none"/><circle cx="58.1" cy="451.5" r="1.4" fill="#3c1a40"/><path d="M58.1,452.8 v2.2" stroke="#7cd4e0" stroke-width="0.9"/><path d="M53.9,445.2 a2.2,2.2 0 1 1 4.1,1.1" stroke="#e8a040" stroke-width="1.2" fill="none"/><circle cx="56.1" cy="444.8" r="1.4" fill="#3c1a40"/><path d="M56.1,446.2 v2.2" stroke="#7cd4e0" stroke-width="0.9"/><path d="M81.2,457.4 a2.2,2.2 0 1 1 4.1,1.1" stroke="#e8a040" stroke-width="1.2" fill="none"/><circle cx="83.4" cy="457.0" r="1.4" fill="#3c1a40"/><path d="M83.4,458.3 v2.2" stroke="#7cd4e0" stroke-width="0.9"/><path d="M64.5,449.2 a2.2,2.2 0 1 1 4.1,1.1" stroke="#e8a040" stroke-width="1.2" fill="none"/><circle cx="66.7" cy="448.8" r="1.4" fill="#3c1a40"/><path d="M66.7,450.1 v2.2" stroke="#7cd4e0" stroke-width="0.9"/><path d="M92.9,436.3 a2.2,2.2 0 1 1 4.1,1.1" stroke="#e8a040" stroke-width="1.2" fill="none"/><circle cx="95.0" cy="435.8" r="1.4" fill="#3c1a40"/><path d="M95.0,437.2 v2.2" stroke="#7cd4e0" stroke-width="0.9"/><path d="M107.7,436.7 A4.1,4.1 0 0 1 115.3,434.5" stroke="#eea23c" stroke-width="1.6" fill="none" stroke-linecap="round"/><circle cx="113.7" cy="435.7" r="1.5" fill="#2a1220"/><path d="M107.7,436.0 A5.2,5.2 0 0 1 115.8,430.2" stroke="#eea23c" stroke-width="1.6" fill="none" stroke-linecap="round"/><circle cx="111.9" cy="435.8" r="1.5" fill="#2a1220"/><path d="M107.7,435.5 A4.0,4.0 0 0 0 113.4,440.8" stroke="#eea23c" stroke-width="1.6" fill="none" stroke-linecap="round"/><circle cx="114.5" cy="436.3" r="1.5" fill="#2a1220"/><path d="M107.5,438.2 A4.4,4.4 0 0 1 115.7,436.3" stroke="#eea23c" stroke-width="1.6" fill="none" stroke-linecap="round"/><path d="M106.7,442.1 A4.3,4.3 0 0 1 115.0,441.8" stroke="#eea23c" stroke-width="1.6" fill="none" stroke-linecap="round"/><path d="M106.2,441.9 l2.9,0.8" stroke="#7cd4e0" stroke-width="1.3"/><path d="M105.9,444.8 A4.9,4.9 0 0 0 113.3,450.6" stroke="#eea23c" stroke-width="1.6" fill="none" stroke-linecap="round"/><path d="M105.4,444.6 l2.8,1.0" stroke="#7cd4e0" stroke-width="1.3"/><path d="M105.0,447.1 A4.3,4.3 0 0 1 113.3,447.3" stroke="#eea23c" stroke-width="1.6" fill="none" stroke-linecap="round"/><path d="M104.6,447.9 A4.6,4.6 0 0 1 113.3,446.9" stroke="#eea23c" stroke-width="1.6" fill="none" stroke-linecap="round"/><circle cx="108.0" cy="447.4" r="1.5" fill="#2a1220"/><path d="M104.1,447.7 l2.7,1.3" stroke="#7cd4e0" stroke-width="1.3"/><path d="M102.3,451.9 A5.1,5.1 0 0 0 107.9,459.9" stroke="#eea23c" stroke-width="1.6" fill="none" stroke-linecap="round"/><circle cx="107.0" cy="455.7" r="1.5" fill="#2a1220"/><path d="M101.8,451.6 l2.5,1.7" stroke="#7cd4e0" stroke-width="1.3"/><path d="M102.2,452.1 A4.7,4.7 0 0 1 110.9,454.7" stroke="#eea23c" stroke-width="1.6" fill="none" stroke-linecap="round"/><path d="M101.2,453.5 A4.3,4.3 0 0 1 109.4,453.4" stroke="#eea23c" stroke-width="1.6" fill="none" stroke-linecap="round"/><circle cx="104.2" cy="455.6" r="1.5" fill="#2a1220"/><path d="M100.7,453.2 l2.4,1.8" stroke="#7cd4e0" stroke-width="1.3"/><path d="M99.2,455.8 A5.5,5.5 0 0 0 102.6,465.8" stroke="#eea23c" stroke-width="1.6" fill="none" stroke-linecap="round"/><circle cx="101.6" cy="457.8" r="1.5" fill="#2a1220"/><path d="M94.8,459.8 A5.4,5.4 0 0 1 104.3,464.0" stroke="#eea23c" stroke-width="1.6" fill="none" stroke-linecap="round"/><circle cx="97.9" cy="462.6" r="1.5" fill="#2a1220"/><path d="M94.4,459.3 l1.8,2.4" stroke="#7cd4e0" stroke-width="1.3"/><path d="M93.5,460.6 A5.1,5.1 0 0 1 102.1,465.4" stroke="#eea23c" stroke-width="1.6" fill="none" stroke-linecap="round"/><circle cx="98.9" cy="465.2" r="1.5" fill="#2a1220"/><path d="M90.8,462.3 A5.4,5.4 0 0 1 100.0,467.1" stroke="#eea23c" stroke-width="1.6" fill="none" stroke-linecap="round"/><circle cx="91.7" cy="468.0" r="1.5" fill="#2a1220"/><path d="M90.5,462.5 A4.9,4.9 0 0 1 98.9,466.6" stroke="#eea23c" stroke-width="1.6" fill="none" stroke-linecap="round"/><path d="M87.3,463.9 A5.0,5.0 0 0 1 93.3,471.4" stroke="#eea23c" stroke-width="1.6" fill="none" stroke-linecap="round"/><path d="M84.2,464.9 A5.1,5.1 0 0 0 80.4,473.9" stroke="#eea23c" stroke-width="1.6" fill="none" stroke-linecap="round"/><circle cx="85.2" cy="469.3" r="1.5" fill="#2a1220"/><path d="M83.2,465.2 A4.7,4.7 0 0 0 80.7,473.9" stroke="#eea23c" stroke-width="1.6" fill="none" stroke-linecap="round"/><circle cx="84.6" cy="470.5" r="1.5" fill="#2a1220"/><path d="M78.3,466.0 A4.5,4.5 0 0 0 73.6,473.3" stroke="#eea23c" stroke-width="1.6" fill="none" stroke-linecap="round"/><circle cx="78.7" cy="471.1" r="1.5" fill="#2a1220"/><path d="M79.7,465.8 A4.4,4.4 0 0 0 76.8,473.7" stroke="#eea23c" stroke-width="1.6" fill="none" stroke-linecap="round"/><circle cx="79.5" cy="469.5" r="1.5" fill="#2a1220"/><path d="M74.7,466.1 A4.6,4.6 0 0 1 79.7,473.2" stroke="#eea23c" stroke-width="1.6" fill="none" stroke-linecap="round"/><circle cx="76.1" cy="470.0" r="1.5" fill="#2a1220"/><path d="M71.8,465.8 A5.4,5.4 0 0 1 76.3,475.3" stroke="#eea23c" stroke-width="1.6" fill="none" stroke-linecap="round"/><circle cx="71.6" cy="469.1" r="1.5" fill="#2a1220"/><path d="M71.8,465.3 l-0.4,3.0" stroke="#7cd4e0" stroke-width="1.3"/><path d="M73.4,466.0 A4.8,4.8 0 0 0 69.0,474.1" stroke="#eea23c" stroke-width="1.6" fill="none" stroke-linecap="round"/><path d="M67.1,464.9 A5.3,5.3 0 0 0 60.8,472.8" stroke="#eea23c" stroke-width="1.6" fill="none" stroke-linecap="round"/><circle cx="65.0" cy="469.6" r="1.5" fill="#2a1220"/><path d="M67.2,464.3 l-0.8,2.9" stroke="#7cd4e0" stroke-width="1.3"/><path d="M67.8,465.1 A4.6,4.6 0 0 1 70.4,473.6" stroke="#eea23c" stroke-width="1.6" fill="none" stroke-linecap="round"/><circle cx="67.4" cy="471.0" r="1.5" fill="#2a1220"/><path d="M62.9,463.4 A5.0,5.0 0 0 1 63.3,472.9" stroke="#eea23c" stroke-width="1.6" fill="none" stroke-linecap="round"/><path d="M59.9,461.9 A4.7,4.7 0 0 1 58.3,470.8" stroke="#eea23c" stroke-width="1.6" fill="none" stroke-linecap="round"/><circle cx="58.7" cy="464.2" r="1.5" fill="#2a1220"/><path d="M62.2,463.1 A4.8,4.8 0 0 0 54.2,467.8" stroke="#eea23c" stroke-width="1.6" fill="none" stroke-linecap="round"/><path d="M55.7,459.1 A5.2,5.2 0 0 1 53.4,468.8" stroke="#eea23c" stroke-width="1.6" fill="none" stroke-linecap="round"/><path d="M56.1,458.6 l-1.9,2.3" stroke="#7cd4e0" stroke-width="1.3"/><path d="M54.2,457.8 A4.7,4.7 0 0 0 46.4,462.3" stroke="#eea23c" stroke-width="1.6" fill="none" stroke-linecap="round"/><path d="M55.1,458.6 A5.0,5.0 0 0 0 46.3,462.4" stroke="#eea23c" stroke-width="1.6" fill="none" stroke-linecap="round"/><circle cx="50.4" cy="462.0" r="1.5" fill="#2a1220"/><path d="M51.9,455.5 A4.6,4.6 0 0 1 47.9,463.3" stroke="#eea23c" stroke-width="1.6" fill="none" stroke-linecap="round"/><circle cx="47.6" cy="456.5" r="1.5" fill="#2a1220"/><path d="M52.2,455.9 A4.1,4.1 0 0 1 49.1,463.1" stroke="#eea23c" stroke-width="1.6" fill="none" stroke-linecap="round"/><circle cx="47.9" cy="458.3" r="1.5" fill="#2a1220"/><path d="M51.6,455.2 A4.0,4.0 0 0 1 48.6,462.4" stroke="#eea23c" stroke-width="1.6" fill="none" stroke-linecap="round"/><circle cx="46.3" cy="457.4" r="1.5" fill="#2a1220"/><path d="M46.9,448.1 A4.7,4.7 0 0 0 38.0,446.1" stroke="#eea23c" stroke-width="1.6" fill="none" stroke-linecap="round"/><path d="M47.4,447.8 l-2.7,1.3" stroke="#7cd4e0" stroke-width="1.3"/><path d="M48.1,450.4 A4.8,4.8 0 0 0 38.8,449.6" stroke="#eea23c" stroke-width="1.6" fill="none" stroke-linecap="round"/><circle cx="43.2" cy="451.2" r="1.5" fill="#2a1220"/><path d="M48.6,450.1 l-2.6,1.5" stroke="#7cd4e0" stroke-width="1.3"/><path d="M45.8,445.7 A4.2,4.2 0 0 1 40.0,451.3" stroke="#eea23c" stroke-width="1.6" fill="none" stroke-linecap="round"/><circle cx="42.4" cy="447.0" r="1.5" fill="#2a1220"/><path d="M46.3,446.8 A4.0,4.0 0 0 1 41.7,453.0" stroke="#eea23c" stroke-width="1.6" fill="none" stroke-linecap="round"/><path d="M44.9,442.8 A5.0,5.0 0 0 1 37.8,449.5" stroke="#eea23c" stroke-width="1.6" fill="none" stroke-linecap="round"/><circle cx="40.3" cy="444.5" r="1.5" fill="#2a1220"/><path d="M43.8,437.2 A4.7,4.7 0 0 0 35.0,434.8" stroke="#eea23c" stroke-width="1.6" fill="none" stroke-linecap="round"/><circle cx="37.3" cy="435.8" r="1.5" fill="#2a1220"/><path d="M43.8,437.4 A4.9,4.9 0 0 1 35.3,441.5" stroke="#eea23c" stroke-width="1.6" fill="none" stroke-linecap="round"/><path d="M44.4,437.3 l-3.0,0.3" stroke="#7cd4e0" stroke-width="1.3"/><path d="M43.6,433.4 A4.2,4.2 0 0 1 35.8,435.5" stroke="#eea23c" stroke-width="1.6" fill="none" stroke-linecap="round"/><circle cx="39.9" cy="432.4" r="1.5" fill="#2a1220"/><path d="M44.2,433.4 l-3.0,-0.1" stroke="#7cd4e0" stroke-width="1.3"/><path d="M43.6,432.8 A4.2,4.2 0 0 0 37.1,428.2" stroke="#eea23c" stroke-width="1.6" fill="none" stroke-linecap="round"/><circle cx="40.0" cy="434.0" r="1.5" fill="#2a1220"/><path d="M43.8,430.9 A5.3,5.3 0 0 0 35.7,424.9" stroke="#eea23c" stroke-width="1.6" fill="none" stroke-linecap="round"/><path d="M44.7,425.8 A5.3,5.3 0 0 1 34.8,428.2" stroke="#eea23c" stroke-width="1.6" fill="none" stroke-linecap="round"/><path d="M44.3,427.5 A4.5,4.5 0 0 0 38.7,420.9" stroke="#eea23c" stroke-width="1.6" fill="none" stroke-linecap="round"/><circle cx="37.7" cy="427.4" r="1.5" fill="#2a1220"/><path d="M46.3,421.2 A4.2,4.2 0 0 1 38.5,423.1" stroke="#eea23c" stroke-width="1.6" fill="none" stroke-linecap="round"/><circle cx="42.3" cy="419.8" r="1.5" fill="#2a1220"/><path d="M46.4,421.1 A4.9,4.9 0 0 1 36.9,420.4" stroke="#eea23c" stroke-width="1.6" fill="none" stroke-linecap="round"/><path d="M46.9,421.3 l-2.7,-1.2" stroke="#7cd4e0" stroke-width="1.3"/><path d="M47.5,418.8 A5.5,5.5 0 0 0 43.2,409.1" stroke="#eea23c" stroke-width="1.6" fill="none" stroke-linecap="round"/><circle cx="43.9" cy="415.6" r="1.5" fill="#2a1220"/><path d="M49.1,416.1 A4.7,4.7 0 0 1 40.0,416.3" stroke="#eea23c" stroke-width="1.6" fill="none" stroke-linecap="round"/><circle cx="44.6" cy="412.5" r="1.5" fill="#2a1220"/><path d="M49.7,415.2 A4.3,4.3 0 0 1 41.8,412.9" stroke="#eea23c" stroke-width="1.6" fill="none" stroke-linecap="round"/><path d="M53.1,411.3 A4.2,4.2 0 0 1 45.3,409.1" stroke="#eea23c" stroke-width="1.6" fill="none" stroke-linecap="round"/><path d="M53.5,411.7 l-2.1,-2.1" stroke="#7cd4e0" stroke-width="1.3"/><path d="M51.1,413.4 A4.8,4.8 0 0 0 47.4,405.0" stroke="#eea23c" stroke-width="1.6" fill="none" stroke-linecap="round"/><circle cx="45.8" cy="411.9" r="1.5" fill="#2a1220"/><path d="M56.2,408.5 A4.5,4.5 0 0 1 48.5,404.5" stroke="#eea23c" stroke-width="1.6" fill="none" stroke-linecap="round"/><circle cx="52.7" cy="403.1" r="1.5" fill="#2a1220"/><path d="M56.6,409.0 l-1.8,-2.4" stroke="#7cd4e0" stroke-width="1.3"/><path d="M57.9,407.3 A5.2,5.2 0 0 0 58.5,397.3" stroke="#eea23c" stroke-width="1.6" fill="none" stroke-linecap="round"/><path d="M59.0,406.6 A4.3,4.3 0 0 0 58.7,398.4" stroke="#eea23c" stroke-width="1.6" fill="none" stroke-linecap="round"/><circle cx="57.9" cy="402.6" r="1.5" fill="#2a1220"/><path d="M59.3,407.1 l-1.5,-2.5" stroke="#7cd4e0" stroke-width="1.3"/><path d="M58.2,407.1 A4.6,4.6 0 0 1 50.0,403.8" stroke="#eea23c" stroke-width="1.6" fill="none" stroke-linecap="round"/><path d="M63.6,404.3 A4.6,4.6 0 0 0 65.5,395.6" stroke="#eea23c" stroke-width="1.6" fill="none" stroke-linecap="round"/><path d="M63.8,404.8 l-1.1,-2.8" stroke="#7cd4e0" stroke-width="1.3"/><path d="M63.7,404.2 A5.4,5.4 0 0 0 62.9,394.0" stroke="#eea23c" stroke-width="1.6" fill="none" stroke-linecap="round"/><path d="M64.2,404.1 A5.0,5.0 0 0 0 67.1,394.9" stroke="#eea23c" stroke-width="1.6" fill="none" stroke-linecap="round"/><circle cx="62.6" cy="399.0" r="1.5" fill="#2a1220"/><path d="M68.5,402.7 A5.1,5.1 0 0 0 71.6,393.5" stroke="#eea23c" stroke-width="1.6" fill="none" stroke-linecap="round"/><path d="M68.6,402.7 A4.4,4.4 0 0 1 62.5,396.9" stroke="#eea23c" stroke-width="1.6" fill="none" stroke-linecap="round"/><circle cx="66.7" cy="400.3" r="1.5" fill="#2a1220"/><path d="M71.4,402.2 A4.5,4.5 0 0 0 73.5,393.8" stroke="#eea23c" stroke-width="1.6" fill="none" stroke-linecap="round"/><circle cx="70.9" cy="397.9" r="1.5" fill="#2a1220"/><path d="M73.7,402.0 A4.1,4.1 0 0 0 77.9,395.3" stroke="#eea23c" stroke-width="1.6" fill="none" stroke-linecap="round"/><circle cx="71.3" cy="396.4" r="1.5" fill="#2a1220"/><path d="M76.5,401.9 A5.3,5.3 0 0 0 83.1,394.2" stroke="#eea23c" stroke-width="1.6" fill="none" stroke-linecap="round"/><circle cx="76.3" cy="396.8" r="1.5" fill="#2a1220"/><path d="M79.6,402.2 A4.5,4.5 0 0 0 84.9,395.2" stroke="#eea23c" stroke-width="1.6" fill="none" stroke-linecap="round"/><circle cx="80.6" cy="396.9" r="1.5" fill="#2a1220"/><path d="M79.6,402.7 l0.4,-3.0" stroke="#7cd4e0" stroke-width="1.3"/><path d="M84.7,403.2 A5.2,5.2 0 0 0 89.9,394.8" stroke="#eea23c" stroke-width="1.6" fill="none" stroke-linecap="round"/><circle cx="85.7" cy="398.1" r="1.5" fill="#2a1220"/><path d="M82.8,402.7 A4.1,4.1 0 0 0 88.5,397.4" stroke="#eea23c" stroke-width="1.6" fill="none" stroke-linecap="round"/><path d="M85.3,403.4 A4.7,4.7 0 0 1 83.9,394.4" stroke="#eea23c" stroke-width="1.6" fill="none" stroke-linecap="round"/><path d="M85.1,403.9 l0.9,-2.8" stroke="#7cd4e0" stroke-width="1.3"/><path d="M90.1,405.4 A5.5,5.5 0 0 0 97.6,398.0" stroke="#eea23c" stroke-width="1.6" fill="none" stroke-linecap="round"/><circle cx="90.8" cy="399.5" r="1.5" fill="#2a1220"/><path d="M89.9,405.3 A4.2,4.2 0 0 1 90.3,397.1" stroke="#eea23c" stroke-width="1.6" fill="none" stroke-linecap="round"/><circle cx="91.0" cy="402.3" r="1.5" fill="#2a1220"/><path d="M94.8,408.2 A5.1,5.1 0 0 0 103.4,403.4" stroke="#eea23c" stroke-width="1.6" fill="none" stroke-linecap="round"/><path d="M94.5,408.7 l1.8,-2.4" stroke="#7cd4e0" stroke-width="1.3"/><path d="M94.9,408.3 A4.2,4.2 0 0 1 97.1,400.6" stroke="#eea23c" stroke-width="1.6" fill="none" stroke-linecap="round"/><path d="M98.3,411.3 A4.9,4.9 0 0 0 107.0,407.5" stroke="#eea23c" stroke-width="1.6" fill="none" stroke-linecap="round"/><path d="M98.0,411.0 A4.3,4.3 0 0 0 106.1,409.2" stroke="#eea23c" stroke-width="1.6" fill="none" stroke-linecap="round"/><circle cx="104.0" cy="407.5" r="1.5" fill="#2a1220"/><path d="M99.0,412.0 A4.4,4.4 0 0 1 103.4,404.8" stroke="#eea23c" stroke-width="1.6" fill="none" stroke-linecap="round"/><circle cx="100.2" cy="409.3" r="1.5" fill="#2a1220"/><path d="M98.6,412.4 l2.2,-2.0" stroke="#7cd4e0" stroke-width="1.3"/><path d="M103.2,417.5 A5.0,5.0 0 0 1 108.0,409.3" stroke="#eea23c" stroke-width="1.6" fill="none" stroke-linecap="round"/><circle cx="106.5" cy="414.1" r="1.5" fill="#2a1220"/><path d="M104.3,419.5 A4.7,4.7 0 0 1 108.5,411.6" stroke="#eea23c" stroke-width="1.6" fill="none" stroke-linecap="round"/><path d="M105.4,421.8 A4.4,4.4 0 0 0 113.8,422.3" stroke="#eea23c" stroke-width="1.6" fill="none" stroke-linecap="round"/><path d="M106.0,423.3 A5.2,5.2 0 0 0 115.8,423.8" stroke="#eea23c" stroke-width="1.6" fill="none" stroke-linecap="round"/><path d="M105.4,423.5 l2.8,-1.0" stroke="#7cd4e0" stroke-width="1.3"/><path d="M106.7,425.6 A4.5,4.5 0 0 1 113.1,419.9" stroke="#eea23c" stroke-width="1.6" fill="none" stroke-linecap="round"/><circle cx="111.0" cy="424.7" r="1.5" fill="#2a1220"/><path d="M106.9,426.7 A4.3,4.3 0 0 1 114.1,422.6" stroke="#eea23c" stroke-width="1.6" fill="none" stroke-linecap="round"/><path d="M106.4,426.8 l2.9,-0.7" stroke="#7cd4e0" stroke-width="1.3"/><path d="M107.2,428.0 A4.2,4.2 0 0 0 115.1,429.6" stroke="#eea23c" stroke-width="1.6" fill="none" stroke-linecap="round"/><circle cx="112.6" cy="426.4" r="1.5" fill="#2a1220"/><path d="M106.7,428.1 l2.9,-0.6" stroke="#7cd4e0" stroke-width="1.3"/><path d="M107.8,433.0 A5.2,5.2 0 0 0 116.9,437.1" stroke="#eea23c" stroke-width="1.6" fill="none" stroke-linecap="round"/><circle cx="111.6" cy="432.4" r="1.5" fill="#2a1220"/>
<clipPath id="pc2"><circle cx="172" cy="468.5" r="24"/></clipPath><circle cx="172" cy="468.5" r="37" fill="#ece6d6" filter="url(#b6)" opacity="0.95"/><circle cx="172" cy="468.5" r="24" fill="url(#gCore)"/><g clip-path="url(#pc2)"><path d="M154.9,450.0 L159.2,454.9 L160.9,456.5 L165.5,461.8 L170.9,467.6 L173.8,471.2 L177.7,473.9 L180.6,478.1 L186.1,481.9 L189.4,486.2" stroke="#3f86e0" stroke-width="3.8" fill="none" opacity="0.5" filter="url(#b2)"/><path d="M154.9,450.0 L159.2,454.9 L160.9,456.5 L165.5,461.8 L170.9,467.6 L173.8,471.2 L177.7,473.9 L180.6,478.1 L186.1,481.9 L189.4,486.2" stroke="#a8d4ff" stroke-width="1.0" fill="none"/><path d="M180.6,478.1 L181.9,479.8 L186.7,478.2" stroke="#8cc0f4" stroke-width="0.7" fill="none"/><path d="M177.7,473.9 L172.4,478.1 L170.3,482.9" stroke="#8cc0f4" stroke-width="0.7" fill="none"/><path d="M165.5,461.8 L172.8,460.6 L177.0,459.1" stroke="#8cc0f4" stroke-width="0.7" fill="none"/><path d="M177.7,473.9 L176.7,479.2 L176.0,483.7" stroke="#8cc0f4" stroke-width="0.7" fill="none"/></g><path d="M153.5,464.3 a1.6,1.6 0 1 1 3.0,0.8" stroke="#e8a040" stroke-width="0.9" fill="none"/><circle cx="155.1" cy="464.0" r="1.0" fill="#3c1a40"/><path d="M155.1,465.0 v1.6" stroke="#7cd4e0" stroke-width="0.7"/><path d="M179.6,474.0 a1.6,1.6 0 1 1 3.0,0.8" stroke="#e8a040" stroke-width="0.9" fill="none"/><circle cx="181.2" cy="473.7" r="1.0" fill="#3c1a40"/><path d="M181.2,474.7 v1.6" stroke="#7cd4e0" stroke-width="0.7"/><path d="M173.2,457.2 a1.6,1.6 0 1 1 3.0,0.8" stroke="#e8a040" stroke-width="0.9" fill="none"/><circle cx="174.8" cy="456.9" r="1.0" fill="#3c1a40"/><path d="M174.8,457.9 v1.6" stroke="#7cd4e0" stroke-width="0.7"/><path d="M189.1,461.5 a1.6,1.6 0 1 1 3.0,0.8" stroke="#e8a040" stroke-width="0.9" fill="none"/><circle cx="190.7" cy="461.2" r="1.0" fill="#3c1a40"/><path d="M190.7,462.2 v1.6" stroke="#7cd4e0" stroke-width="0.7"/><path d="M160.8,477.2 a1.6,1.6 0 1 1 3.0,0.8" stroke="#e8a040" stroke-width="0.9" fill="none"/><circle cx="162.4" cy="476.9" r="1.0" fill="#3c1a40"/><path d="M162.4,477.9 v1.6" stroke="#7cd4e0" stroke-width="0.7"/><path d="M170.2,482.0 a1.6,1.6 0 1 1 3.0,0.8" stroke="#e8a040" stroke-width="0.9" fill="none"/><circle cx="171.8" cy="481.7" r="1.0" fill="#3c1a40"/><path d="M171.8,482.7 v1.6" stroke="#7cd4e0" stroke-width="0.7"/><path d="M195.8,467.9 A2.5,2.5 0 0 1 200.3,466.5" stroke="#eea23c" stroke-width="0.9" fill="none" stroke-linecap="round"/><circle cx="198.0" cy="467.0" r="0.8" fill="#2a1220"/><path d="M195.8,470.0 A2.0,2.0 0 0 1 199.1,468.0" stroke="#eea23c" stroke-width="0.9" fill="none" stroke-linecap="round"/><circle cx="197.5" cy="469.9" r="0.8" fill="#2a1220"/><path d="M195.4,472.9 A2.1,2.1 0 0 1 199.3,471.7" stroke="#eea23c" stroke-width="0.9" fill="none" stroke-linecap="round"/><circle cx="197.3" cy="473.9" r="0.8" fill="#2a1220"/><path d="M195.3,473.2 A2.3,2.3 0 0 1 199.5,472.1" stroke="#eea23c" stroke-width="0.9" fill="none" stroke-linecap="round"/><circle cx="198.2" cy="472.9" r="0.8" fill="#2a1220"/><path d="M193.7,478.3 A2.5,2.5 0 0 0 197.1,481.6" stroke="#eea23c" stroke-width="0.9" fill="none" stroke-linecap="round"/><circle cx="195.7" cy="477.9" r="0.8" fill="#2a1220"/><path d="M193.7,478.4 A2.1,2.1 0 0 1 197.7,479.0" stroke="#eea23c" stroke-width="0.9" fill="none" stroke-linecap="round"/><path d="M192.5,480.5 A2.2,2.2 0 0 1 196.8,480.2" stroke="#eea23c" stroke-width="0.9" fill="none" stroke-linecap="round"/><circle cx="193.9" cy="482.0" r="0.8" fill="#2a1220"/><path d="M191.2,482.6 A2.5,2.5 0 0 0 193.7,486.7" stroke="#eea23c" stroke-width="0.9" fill="none" stroke-linecap="round"/><circle cx="193.6" cy="484.5" r="0.8" fill="#2a1220"/><path d="M190.0,484.0 A2.3,2.3 0 0 1 194.3,484.6" stroke="#eea23c" stroke-width="0.9" fill="none" stroke-linecap="round"/><circle cx="191.8" cy="483.7" r="0.8" fill="#2a1220"/><path d="M190.1,484.0 A2.2,2.2 0 0 1 194.1,485.4" stroke="#eea23c" stroke-width="0.9" fill="none" stroke-linecap="round"/><path d="M187.5,486.6 A2.2,2.2 0 0 0 188.0,490.7" stroke="#eea23c" stroke-width="0.9" fill="none" stroke-linecap="round"/><circle cx="188.7" cy="489.5" r="0.8" fill="#2a1220"/><path d="M187.0,487.0 A2.2,2.2 0 0 0 187.5,491.1" stroke="#eea23c" stroke-width="0.9" fill="none" stroke-linecap="round"/><circle cx="189.4" cy="488.3" r="0.8" fill="#2a1220"/><path d="M186.5,486.4 l0.9,1.1" stroke="#7cd4e0" stroke-width="0.7"/><path d="M186.6,487.3 A2.3,2.3 0 0 1 190.8,488.4" stroke="#eea23c" stroke-width="0.9" fill="none" stroke-linecap="round"/><path d="M184.7,488.6 A2.1,2.1 0 0 0 185.5,492.5" stroke="#eea23c" stroke-width="0.9" fill="none" stroke-linecap="round"/><path d="M181.3,490.4 A2.3,2.3 0 0 1 184.3,493.7" stroke="#eea23c" stroke-width="0.9" fill="none" stroke-linecap="round"/><path d="M181.3,490.4 A2.4,2.4 0 0 0 181.2,495.0" stroke="#eea23c" stroke-width="0.9" fill="none" stroke-linecap="round"/><circle cx="182.3" cy="491.5" r="0.8" fill="#2a1220"/><path d="M176.2,491.9 A1.9,1.9 0 0 0 175.3,495.5" stroke="#eea23c" stroke-width="0.9" fill="none" stroke-linecap="round"/><circle cx="177.6" cy="493.8" r="0.8" fill="#2a1220"/><path d="M176.2,491.9 A1.9,1.9 0 0 1 179.0,494.5" stroke="#eea23c" stroke-width="0.9" fill="none" stroke-linecap="round"/><circle cx="177.2" cy="494.9" r="0.8" fill="#2a1220"/><path d="M172.6,492.3 A2.5,2.5 0 0 0 171.0,496.9" stroke="#eea23c" stroke-width="0.9" fill="none" stroke-linecap="round"/><circle cx="173.7" cy="494.8" r="0.8" fill="#2a1220"/><path d="M171.0,492.3 A2.4,2.4 0 0 1 172.9,496.6" stroke="#eea23c" stroke-width="0.9" fill="none" stroke-linecap="round"/><circle cx="171.2" cy="495.0" r="0.8" fill="#2a1220"/><path d="M168.1,492.0 A2.6,2.6 0 0 0 164.9,495.7" stroke="#eea23c" stroke-width="0.9" fill="none" stroke-linecap="round"/><circle cx="168.2" cy="494.6" r="0.8" fill="#2a1220"/><path d="M168.4,492.0 A2.3,2.3 0 0 0 165.1,495.1" stroke="#eea23c" stroke-width="0.9" fill="none" stroke-linecap="round"/><circle cx="167.1" cy="494.0" r="0.8" fill="#2a1220"/><path d="M168.5,491.2 l-0.2,1.4" stroke="#7cd4e0" stroke-width="0.7"/><path d="M165.6,491.4 A2.1,2.1 0 0 0 162.5,494.0" stroke="#eea23c" stroke-width="0.9" fill="none" stroke-linecap="round"/><path d="M164.2,491.0 A2.1,2.1 0 0 0 161.8,494.1" stroke="#eea23c" stroke-width="0.9" fill="none" stroke-linecap="round"/><circle cx="162.5" cy="493.0" r="0.8" fill="#2a1220"/><path d="M162.2,490.2 A2.4,2.4 0 0 0 158.7,493.3" stroke="#eea23c" stroke-width="0.9" fill="none" stroke-linecap="round"/><circle cx="160.0" cy="492.6" r="0.8" fill="#2a1220"/><path d="M162.5,489.5 l-0.6,1.3" stroke="#7cd4e0" stroke-width="0.7"/><path d="M158.9,488.4 A2.1,2.1 0 0 0 155.8,490.9" stroke="#eea23c" stroke-width="0.9" fill="none" stroke-linecap="round"/><path d="M157.8,487.6 A2.5,2.5 0 0 0 153.1,488.8" stroke="#eea23c" stroke-width="0.9" fill="none" stroke-linecap="round"/><path d="M157.5,487.4 A2.5,2.5 0 0 1 157.2,492.2" stroke="#eea23c" stroke-width="0.9" fill="none" stroke-linecap="round"/><circle cx="156.0" cy="487.8" r="0.8" fill="#2a1220"/><path d="M158.0,486.8 l-0.9,1.1" stroke="#7cd4e0" stroke-width="0.7"/><path d="M156.4,486.5 A2.6,2.6 0 0 0 151.5,487.4" stroke="#eea23c" stroke-width="0.9" fill="none" stroke-linecap="round"/><path d="M155.6,485.7 A2.2,2.2 0 0 1 154.1,489.7" stroke="#eea23c" stroke-width="0.9" fill="none" stroke-linecap="round"/><circle cx="155.7" cy="487.7" r="0.8" fill="#2a1220"/><path d="M156.1,485.1 l-1.0,1.0" stroke="#7cd4e0" stroke-width="0.7"/><path d="M153.0,482.9 A2.2,2.2 0 0 0 148.8,483.4" stroke="#eea23c" stroke-width="0.9" fill="none" stroke-linecap="round"/><path d="M151.9,481.2 A2.1,2.1 0 0 1 150.2,484.8" stroke="#eea23c" stroke-width="0.9" fill="none" stroke-linecap="round"/><path d="M150.0,477.5 A2.4,2.4 0 0 1 147.8,481.5" stroke="#eea23c" stroke-width="0.9" fill="none" stroke-linecap="round"/><circle cx="148.0" cy="478.0" r="0.8" fill="#2a1220"/><path d="M149.3,475.7 A2.0,2.0 0 0 1 146.4,478.3" stroke="#eea23c" stroke-width="0.9" fill="none" stroke-linecap="round"/><circle cx="146.3" cy="475.6" r="0.8" fill="#2a1220"/><path d="M150.0,477.5 A2.3,2.3 0 0 1 147.2,481.0" stroke="#eea23c" stroke-width="0.9" fill="none" stroke-linecap="round"/><path d="M148.8,473.6 A2.3,2.3 0 0 0 144.5,472.6" stroke="#eea23c" stroke-width="0.9" fill="none" stroke-linecap="round"/><circle cx="147.4" cy="475.2" r="0.8" fill="#2a1220"/><path d="M148.2,469.3 A2.0,2.0 0 0 0 144.6,468.3" stroke="#eea23c" stroke-width="0.9" fill="none" stroke-linecap="round"/><circle cx="146.8" cy="470.1" r="0.8" fill="#2a1220"/><path d="M149.0,469.3 l-1.4,0.0" stroke="#7cd4e0" stroke-width="0.7"/><path d="M148.4,471.3 A2.5,2.5 0 0 0 144.1,469.2" stroke="#eea23c" stroke-width="0.9" fill="none" stroke-linecap="round"/><path d="M148.2,468.1 A2.5,2.5 0 0 0 143.8,466.0" stroke="#eea23c" stroke-width="0.9" fill="none" stroke-linecap="round"/><path d="M148.2,467.6 A2.3,2.3 0 0 0 144.2,465.6" stroke="#eea23c" stroke-width="0.9" fill="none" stroke-linecap="round"/><circle cx="146.0" cy="466.1" r="0.8" fill="#2a1220"/><path d="M148.5,464.7 A2.0,2.0 0 0 0 146.0,461.9" stroke="#eea23c" stroke-width="0.9" fill="none" stroke-linecap="round"/><circle cx="146.3" cy="464.8" r="0.8" fill="#2a1220"/><path d="M149.3,464.8 l-1.4,-0.2" stroke="#7cd4e0" stroke-width="0.7"/><path d="M149.4,461.1 A2.1,2.1 0 0 0 146.4,458.3" stroke="#eea23c" stroke-width="0.9" fill="none" stroke-linecap="round"/><circle cx="146.2" cy="460.6" r="0.8" fill="#2a1220"/><path d="M149.8,459.9 A2.5,2.5 0 0 1 145.0,460.7" stroke="#eea23c" stroke-width="0.9" fill="none" stroke-linecap="round"/><path d="M150.9,457.4 A2.1,2.1 0 0 1 146.9,457.0" stroke="#eea23c" stroke-width="0.9" fill="none" stroke-linecap="round"/><path d="M151.7,456.1 A2.3,2.3 0 0 1 147.4,456.4" stroke="#eea23c" stroke-width="0.9" fill="none" stroke-linecap="round"/><path d="M152.4,456.5 l-1.2,-0.7" stroke="#7cd4e0" stroke-width="0.7"/><path d="M152.7,454.6 A2.0,2.0 0 0 1 148.9,454.3" stroke="#eea23c" stroke-width="0.9" fill="none" stroke-linecap="round"/><circle cx="151.9" cy="452.7" r="0.8" fill="#2a1220"/><path d="M153.4,455.0 l-1.1,-0.8" stroke="#7cd4e0" stroke-width="0.7"/><path d="M153.1,454.1 A2.3,2.3 0 0 1 148.7,453.6" stroke="#eea23c" stroke-width="0.9" fill="none" stroke-linecap="round"/><circle cx="150.5" cy="452.3" r="0.8" fill="#2a1220"/><path d="M155.0,451.9 A2.1,2.1 0 0 0 153.6,448.1" stroke="#eea23c" stroke-width="0.9" fill="none" stroke-linecap="round"/><path d="M155.6,452.4 l-1.0,-1.0" stroke="#7cd4e0" stroke-width="0.7"/><path d="M157.2,449.9 A2.4,2.4 0 0 0 156.3,445.4" stroke="#eea23c" stroke-width="0.9" fill="none" stroke-linecap="round"/><path d="M157.9,449.4 A1.9,1.9 0 0 0 156.7,445.8" stroke="#eea23c" stroke-width="0.9" fill="none" stroke-linecap="round"/><path d="M158.3,450.0 l-0.8,-1.1" stroke="#7cd4e0" stroke-width="0.7"/><path d="M160.8,447.5 A2.0,2.0 0 0 0 161.4,443.7" stroke="#eea23c" stroke-width="0.9" fill="none" stroke-linecap="round"/><path d="M161.1,447.4 A2.5,2.5 0 0 0 160.9,442.6" stroke="#eea23c" stroke-width="0.9" fill="none" stroke-linecap="round"/><circle cx="160.2" cy="445.4" r="0.8" fill="#2a1220"/><path d="M161.4,448.1 l-0.6,-1.2" stroke="#7cd4e0" stroke-width="0.7"/><path d="M162.4,446.7 A2.1,2.1 0 0 0 162.7,442.7" stroke="#eea23c" stroke-width="0.9" fill="none" stroke-linecap="round"/><circle cx="162.7" cy="444.9" r="0.8" fill="#2a1220"/><path d="M165.7,445.5 A2.3,2.3 0 0 0 167.4,441.5" stroke="#eea23c" stroke-width="0.9" fill="none" stroke-linecap="round"/><circle cx="166.5" cy="443.7" r="0.8" fill="#2a1220"/><path d="M167.8,445.1 A2.3,2.3 0 0 1 165.5,441.4" stroke="#eea23c" stroke-width="0.9" fill="none" stroke-linecap="round"/><path d="M167.9,445.9 l-0.2,-1.4" stroke="#7cd4e0" stroke-width="0.7"/><path d="M170.1,444.8 A2.3,2.3 0 0 1 167.0,441.6" stroke="#eea23c" stroke-width="0.9" fill="none" stroke-linecap="round"/><path d="M170.1,445.6 l-0.1,-1.4" stroke="#7cd4e0" stroke-width="0.7"/><path d="M170.6,444.7 A2.5,2.5 0 0 0 172.3,440.3" stroke="#eea23c" stroke-width="0.9" fill="none" stroke-linecap="round"/><circle cx="171.7" cy="442.4" r="0.8" fill="#2a1220"/><path d="M174.9,444.9 A2.5,2.5 0 0 0 177.6,441.0" stroke="#eea23c" stroke-width="0.9" fill="none" stroke-linecap="round"/><circle cx="173.7" cy="441.8" r="0.8" fill="#2a1220"/><path d="M175.6,445.0 A2.0,2.0 0 0 0 178.5,442.4" stroke="#eea23c" stroke-width="0.9" fill="none" stroke-linecap="round"/><circle cx="176.8" cy="442.3" r="0.8" fill="#2a1220"/><path d="M178.7,445.7 A2.3,2.3 0 0 1 177.1,441.4" stroke="#eea23c" stroke-width="0.9" fill="none" stroke-linecap="round"/><circle cx="178.0" cy="443.6" r="0.8" fill="#2a1220"/><path d="M178.5,446.4 l0.4,-1.3" stroke="#7cd4e0" stroke-width="0.7"/><path d="M177.3,445.3 A2.0,2.0 0 0 1 177.0,441.5" stroke="#eea23c" stroke-width="0.9" fill="none" stroke-linecap="round"/><path d="M179.7,446.0 A2.0,2.0 0 0 0 183.1,443.9" stroke="#eea23c" stroke-width="0.9" fill="none" stroke-linecap="round"/><circle cx="179.9" cy="443.4" r="0.8" fill="#2a1220"/><path d="M183.9,447.9 A2.4,2.4 0 0 1 183.4,443.2" stroke="#eea23c" stroke-width="0.9" fill="none" stroke-linecap="round"/><circle cx="185.0" cy="445.4" r="0.8" fill="#2a1220"/><path d="M183.5,448.6 l0.7,-1.2" stroke="#7cd4e0" stroke-width="0.7"/><path d="M182.8,447.3 A1.9,1.9 0 0 0 185.7,444.9" stroke="#eea23c" stroke-width="0.9" fill="none" stroke-linecap="round"/><circle cx="183.2" cy="445.2" r="0.8" fill="#2a1220"/><path d="M186.5,449.7 A2.5,2.5 0 0 1 187.8,445.0" stroke="#eea23c" stroke-width="0.9" fill="none" stroke-linecap="round"/><circle cx="187.3" cy="446.4" r="0.8" fill="#2a1220"/><path d="M189.4,452.3 A1.9,1.9 0 0 1 190.0,448.6" stroke="#eea23c" stroke-width="0.9" fill="none" stroke-linecap="round"/><path d="M190.1,453.1 A2.4,2.4 0 0 0 194.8,453.0" stroke="#eea23c" stroke-width="0.9" fill="none" stroke-linecap="round"/><circle cx="192.0" cy="450.7" r="0.8" fill="#2a1220"/><path d="M189.5,453.6 l1.1,-0.9" stroke="#7cd4e0" stroke-width="0.7"/><path d="M191.9,455.5 A2.2,2.2 0 0 0 196.2,455.4" stroke="#eea23c" stroke-width="0.9" fill="none" stroke-linecap="round"/><circle cx="192.6" cy="453.5" r="0.8" fill="#2a1220"/><path d="M191.3,455.9 l1.2,-0.8" stroke="#7cd4e0" stroke-width="0.7"/><path d="M191.8,455.2 A2.4,2.4 0 0 1 193.9,451.2" stroke="#eea23c" stroke-width="0.9" fill="none" stroke-linecap="round"/><circle cx="194.4" cy="454.3" r="0.8" fill="#2a1220"/><path d="M193.6,458.5 A2.0,2.0 0 0 1 195.8,455.4" stroke="#eea23c" stroke-width="0.9" fill="none" stroke-linecap="round"/><circle cx="195.0" cy="456.7" r="0.8" fill="#2a1220"/><path d="M192.9,458.8 l1.3,-0.6" stroke="#7cd4e0" stroke-width="0.7"/><path d="M193.6,458.4 A1.9,1.9 0 0 1 196.1,455.8" stroke="#eea23c" stroke-width="0.9" fill="none" stroke-linecap="round"/><circle cx="196.3" cy="457.0" r="0.8" fill="#2a1220"/><path d="M192.8,458.8 l1.3,-0.6" stroke="#7cd4e0" stroke-width="0.7"/><path d="M194.7,461.4 A2.5,2.5 0 0 1 198.5,458.5" stroke="#eea23c" stroke-width="0.9" fill="none" stroke-linecap="round"/><circle cx="196.3" cy="461.1" r="0.8" fill="#2a1220"/><path d="M193.9,461.6 l1.3,-0.4" stroke="#7cd4e0" stroke-width="0.7"/><path d="M195.3,463.5 A2.4,2.4 0 0 0 199.6,465.0" stroke="#eea23c" stroke-width="0.9" fill="none" stroke-linecap="round"/><circle cx="197.6" cy="464.1" r="0.8" fill="#2a1220"/><path d="M195.1,462.9 A2.2,2.2 0 0 1 197.8,459.6" stroke="#eea23c" stroke-width="0.9" fill="none" stroke-linecap="round"/><path d="M195.6,465.2 A2.6,2.6 0 0 0 200.0,467.5" stroke="#eea23c" stroke-width="0.9" fill="none" stroke-linecap="round"/>
<clipPath id="pc3"><circle cx="249" cy="426" r="21"/></clipPath><circle cx="249" cy="426" r="34.5" fill="#ece6d6" filter="url(#b6)" opacity="0.95"/><circle cx="249" cy="426" r="21" fill="url(#gCore)"/><g clip-path="url(#pc3)"><path d="M233.1,410.7 L237.1,414.9 L241.0,416.8 L242.2,420.3 L245.5,425.8 L248.6,428.7 L252.2,431.5 L256.3,436.9 L260.2,437.7 L262.4,441.7" stroke="#3f86e0" stroke-width="3.4" fill="none" opacity="0.5" filter="url(#b2)"/><path d="M233.1,410.7 L237.1,414.9 L241.0,416.8 L242.2,420.3 L245.5,425.8 L248.6,428.7 L252.2,431.5 L256.3,436.9 L260.2,437.7 L262.4,441.7" stroke="#a8d4ff" stroke-width="0.8" fill="none"/><path d="M245.5,425.8 L249.3,427.3 L255.0,426.0" stroke="#8cc0f4" stroke-width="0.6" fill="none"/><path d="M248.6,428.7 L248.8,433.4 L245.9,437.1" stroke="#8cc0f4" stroke-width="0.6" fill="none"/><path d="M256.3,436.9 L254.2,441.7 L251.7,444.5" stroke="#8cc0f4" stroke-width="0.6" fill="none"/><path d="M242.2,420.3 L244.2,418.6 L248.7,418.2" stroke="#8cc0f4" stroke-width="0.6" fill="none"/></g><path d="M240.2,433.8 a1.6,1.6 0 1 1 3.0,0.8" stroke="#e8a040" stroke-width="0.9" fill="none"/><circle cx="241.8" cy="433.5" r="1.0" fill="#3c1a40"/><path d="M241.8,434.5 v1.6" stroke="#7cd4e0" stroke-width="0.7"/><path d="M244.1,443.8 a1.6,1.6 0 1 1 3.0,0.8" stroke="#e8a040" stroke-width="0.9" fill="none"/><circle cx="245.7" cy="443.5" r="1.0" fill="#3c1a40"/><path d="M245.7,444.5 v1.6" stroke="#7cd4e0" stroke-width="0.7"/><path d="M234.8,419.6 a1.6,1.6 0 1 1 3.0,0.8" stroke="#e8a040" stroke-width="0.9" fill="none"/><circle cx="236.4" cy="419.3" r="1.0" fill="#3c1a40"/><path d="M236.4,420.3 v1.6" stroke="#7cd4e0" stroke-width="0.7"/><path d="M231.1,419.2 a1.6,1.6 0 1 1 3.0,0.8" stroke="#e8a040" stroke-width="0.9" fill="none"/><circle cx="232.7" cy="418.9" r="1.0" fill="#3c1a40"/><path d="M232.7,419.9 v1.6" stroke="#7cd4e0" stroke-width="0.7"/><path d="M245.0,418.6 a1.6,1.6 0 1 1 3.0,0.8" stroke="#e8a040" stroke-width="0.9" fill="none"/><circle cx="246.6" cy="418.3" r="1.0" fill="#3c1a40"/><path d="M246.6,419.3 v1.6" stroke="#7cd4e0" stroke-width="0.7"/><path d="M269.8,425.7 A2.7,2.7 0 0 0 274.5,427.8" stroke="#eea23c" stroke-width="0.9" fill="none" stroke-linecap="round"/><path d="M269.0,425.7 l1.6,-0.0" stroke="#7cd4e0" stroke-width="0.7"/><path d="M269.8,426.5 A2.2,2.2 0 0 0 273.4,428.8" stroke="#eea23c" stroke-width="0.9" fill="none" stroke-linecap="round"/><circle cx="273.0" cy="427.7" r="0.8" fill="#2a1220"/><path d="M269.6,428.8 A2.6,2.6 0 0 0 273.7,431.7" stroke="#eea23c" stroke-width="0.9" fill="none" stroke-linecap="round"/><path d="M269.2,430.9 A2.6,2.6 0 0 0 273.4,433.7" stroke="#eea23c" stroke-width="0.9" fill="none" stroke-linecap="round"/><circle cx="271.9" cy="431.1" r="0.8" fill="#2a1220"/><path d="M268.5,433.2 A2.8,2.8 0 0 0 272.5,436.6" stroke="#eea23c" stroke-width="0.9" fill="none" stroke-linecap="round"/><circle cx="272.0" cy="433.5" r="0.8" fill="#2a1220"/><path d="M267.2,436.0 A2.8,2.8 0 0 1 272.5,435.0" stroke="#eea23c" stroke-width="0.9" fill="none" stroke-linecap="round"/><path d="M267.2,436.1 A2.4,2.4 0 0 0 270.3,439.4" stroke="#eea23c" stroke-width="0.9" fill="none" stroke-linecap="round"/><circle cx="270.1" cy="436.3" r="0.8" fill="#2a1220"/><path d="M265.5,438.6 A2.4,2.4 0 0 1 269.8,440.3" stroke="#eea23c" stroke-width="0.9" fill="none" stroke-linecap="round"/><circle cx="268.3" cy="440.7" r="0.8" fill="#2a1220"/><path d="M263.4,441.0 A2.4,2.4 0 0 0 264.1,445.6" stroke="#eea23c" stroke-width="0.9" fill="none" stroke-linecap="round"/><path d="M262.8,440.4 l1.1,1.1" stroke="#7cd4e0" stroke-width="0.7"/><path d="M263.5,440.9 A2.8,2.8 0 0 0 264.6,446.2" stroke="#eea23c" stroke-width="0.9" fill="none" stroke-linecap="round"/><circle cx="265.6" cy="442.5" r="0.8" fill="#2a1220"/><path d="M262.9,440.3 l1.1,1.1" stroke="#7cd4e0" stroke-width="0.7"/><path d="M261.5,442.6 A2.5,2.5 0 0 1 265.9,444.3" stroke="#eea23c" stroke-width="0.9" fill="none" stroke-linecap="round"/><circle cx="263.9" cy="443.7" r="0.8" fill="#2a1220"/><path d="M261.1,442.0 l0.9,1.3" stroke="#7cd4e0" stroke-width="0.7"/><path d="M257.5,444.9 A2.5,2.5 0 0 0 257.9,449.7" stroke="#eea23c" stroke-width="0.9" fill="none" stroke-linecap="round"/><circle cx="258.9" cy="446.6" r="0.8" fill="#2a1220"/><path d="M258.7,444.4 A2.8,2.8 0 0 1 262.5,448.1" stroke="#eea23c" stroke-width="0.9" fill="none" stroke-linecap="round"/><circle cx="259.9" cy="446.1" r="0.8" fill="#2a1220"/><path d="M258.3,443.7 l0.7,1.4" stroke="#7cd4e0" stroke-width="0.7"/><path d="M256.9,445.2 A2.6,2.6 0 0 0 256.4,450.2" stroke="#eea23c" stroke-width="0.9" fill="none" stroke-linecap="round"/><circle cx="258.1" cy="447.2" r="0.8" fill="#2a1220"/><path d="M256.6,444.5 l0.6,1.5" stroke="#7cd4e0" stroke-width="0.7"/><path d="M251.6,446.6 A2.8,2.8 0 0 1 254.3,451.3" stroke="#eea23c" stroke-width="0.9" fill="none" stroke-linecap="round"/><circle cx="253.1" cy="448.0" r="0.8" fill="#2a1220"/><path d="M251.5,445.8 l0.2,1.6" stroke="#7cd4e0" stroke-width="0.7"/><path d="M250.0,446.8 A2.9,2.9 0 0 1 251.9,451.9" stroke="#eea23c" stroke-width="0.9" fill="none" stroke-linecap="round"/><circle cx="249.2" cy="448.7" r="0.8" fill="#2a1220"/><path d="M249.9,446.0 l0.1,1.6" stroke="#7cd4e0" stroke-width="0.7"/><path d="M250.6,446.7 A2.9,2.9 0 0 1 253.5,451.4" stroke="#eea23c" stroke-width="0.9" fill="none" stroke-linecap="round"/><circle cx="250.5" cy="449.4" r="0.8" fill="#2a1220"/><path d="M245.9,446.5 A2.9,2.9 0 0 1 247.9,451.7" stroke="#eea23c" stroke-width="0.9" fill="none" stroke-linecap="round"/><path d="M245.9,446.5 A2.3,2.3 0 0 1 248.2,450.4" stroke="#eea23c" stroke-width="0.9" fill="none" stroke-linecap="round"/><circle cx="247.0" cy="448.1" r="0.8" fill="#2a1220"/><path d="M245.1,446.4 A2.9,2.9 0 0 0 241.0,450.2" stroke="#eea23c" stroke-width="0.9" fill="none" stroke-linecap="round"/><path d="M241.2,445.2 A2.1,2.1 0 0 0 237.6,447.3" stroke="#eea23c" stroke-width="0.9" fill="none" stroke-linecap="round"/><circle cx="240.6" cy="447.5" r="0.8" fill="#2a1220"/><path d="M241.1,445.2 A2.1,2.1 0 0 1 241.4,449.3" stroke="#eea23c" stroke-width="0.9" fill="none" stroke-linecap="round"/><circle cx="240.8" cy="447.2" r="0.8" fill="#2a1220"/><path d="M238.9,444.2 A2.9,2.9 0 0 0 234.4,447.5" stroke="#eea23c" stroke-width="0.9" fill="none" stroke-linecap="round"/><path d="M237.2,443.1 A2.9,2.9 0 0 0 232.2,445.5" stroke="#eea23c" stroke-width="0.9" fill="none" stroke-linecap="round"/><circle cx="234.9" cy="445.3" r="0.8" fill="#2a1220"/><path d="M236.3,442.5 A2.5,2.5 0 0 1 235.5,447.2" stroke="#eea23c" stroke-width="0.9" fill="none" stroke-linecap="round"/><circle cx="236.3" cy="444.1" r="0.8" fill="#2a1220"/><path d="M236.8,441.9 l-1.0,1.2" stroke="#7cd4e0" stroke-width="0.7"/><path d="M232.4,438.5 A2.7,2.7 0 0 1 229.6,442.9" stroke="#eea23c" stroke-width="0.9" fill="none" stroke-linecap="round"/><path d="M231.1,436.6 A2.7,2.7 0 0 1 229.0,441.3" stroke="#eea23c" stroke-width="0.9" fill="none" stroke-linecap="round"/><circle cx="228.6" cy="437.7" r="0.8" fill="#2a1220"/><path d="M231.2,436.8 A2.1,2.1 0 0 0 227.2,437.5" stroke="#eea23c" stroke-width="0.9" fill="none" stroke-linecap="round"/><circle cx="229.5" cy="437.9" r="0.8" fill="#2a1220"/><path d="M229.5,433.3 A2.6,2.6 0 0 0 224.6,432.3" stroke="#eea23c" stroke-width="0.9" fill="none" stroke-linecap="round"/><circle cx="226.5" cy="435.2" r="0.8" fill="#2a1220"/><path d="M230.2,434.8 A2.9,2.9 0 0 0 224.8,433.5" stroke="#eea23c" stroke-width="0.9" fill="none" stroke-linecap="round"/><path d="M228.7,430.2 A2.6,2.6 0 0 1 225.0,433.7" stroke="#eea23c" stroke-width="0.9" fill="none" stroke-linecap="round"/><circle cx="226.9" cy="430.0" r="0.8" fill="#2a1220"/><path d="M228.8,430.8 A2.5,2.5 0 0 1 225.3,434.2" stroke="#eea23c" stroke-width="0.9" fill="none" stroke-linecap="round"/><path d="M228.3,427.5 A2.5,2.5 0 0 0 224.1,425.0" stroke="#eea23c" stroke-width="0.9" fill="none" stroke-linecap="round"/><circle cx="225.0" cy="427.7" r="0.8" fill="#2a1220"/><path d="M229.1,427.4 l-1.6,0.1" stroke="#7cd4e0" stroke-width="0.7"/><path d="M228.2,425.5 A2.7,2.7 0 0 1 224.1,428.5" stroke="#eea23c" stroke-width="0.9" fill="none" stroke-linecap="round"/><circle cx="226.7" cy="425.5" r="0.8" fill="#2a1220"/><path d="M228.7,421.7 A2.5,2.5 0 0 1 224.5,423.9" stroke="#eea23c" stroke-width="0.9" fill="none" stroke-linecap="round"/><circle cx="226.3" cy="420.5" r="0.8" fill="#2a1220"/><path d="M229.4,421.9 l-1.5,-0.3" stroke="#7cd4e0" stroke-width="0.7"/><path d="M228.6,422.2 A2.9,2.9 0 0 1 223.2,423.9" stroke="#eea23c" stroke-width="0.9" fill="none" stroke-linecap="round"/><path d="M229.3,419.4 A2.6,2.6 0 0 0 225.1,416.6" stroke="#eea23c" stroke-width="0.9" fill="none" stroke-linecap="round"/><path d="M230.4,416.7 A2.6,2.6 0 0 1 225.4,416.9" stroke="#eea23c" stroke-width="0.9" fill="none" stroke-linecap="round"/><circle cx="226.8" cy="415.9" r="0.8" fill="#2a1220"/><path d="M231.1,417.0 l-1.4,-0.7" stroke="#7cd4e0" stroke-width="0.7"/><path d="M230.2,417.1 A2.8,2.8 0 0 0 227.1,412.7" stroke="#eea23c" stroke-width="0.9" fill="none" stroke-linecap="round"/><path d="M232.7,413.1 A2.2,2.2 0 0 0 231.6,409.0" stroke="#eea23c" stroke-width="0.9" fill="none" stroke-linecap="round"/><circle cx="230.6" cy="411.4" r="0.8" fill="#2a1220"/><path d="M234.3,411.4 A2.7,2.7 0 0 1 229.6,408.9" stroke="#eea23c" stroke-width="0.9" fill="none" stroke-linecap="round"/><circle cx="232.4" cy="410.4" r="0.8" fill="#2a1220"/><path d="M235.5,410.2 A2.3,2.3 0 0 0 235.3,405.7" stroke="#eea23c" stroke-width="0.9" fill="none" stroke-linecap="round"/><path d="M236.0,410.8 l-1.0,-1.2" stroke="#7cd4e0" stroke-width="0.7"/><path d="M236.9,409.1 A2.2,2.2 0 0 1 233.6,406.5" stroke="#eea23c" stroke-width="0.9" fill="none" stroke-linecap="round"/><path d="M237.3,409.7 l-0.9,-1.3" stroke="#7cd4e0" stroke-width="0.7"/><path d="M239.8,407.4 A2.5,2.5 0 0 0 239.1,402.6" stroke="#eea23c" stroke-width="0.9" fill="none" stroke-linecap="round"/><circle cx="240.2" cy="405.6" r="0.8" fill="#2a1220"/><path d="M238.5,408.1 A2.4,2.4 0 0 0 237.7,403.6" stroke="#eea23c" stroke-width="0.9" fill="none" stroke-linecap="round"/><circle cx="238.7" cy="406.4" r="0.8" fill="#2a1220"/><path d="M238.9,408.8 l-0.8,-1.4" stroke="#7cd4e0" stroke-width="0.7"/><path d="M240.1,407.2 A2.5,2.5 0 0 0 240.2,402.5" stroke="#eea23c" stroke-width="0.9" fill="none" stroke-linecap="round"/><circle cx="239.6" cy="406.0" r="0.8" fill="#2a1220"/><path d="M240.4,407.9 l-0.7,-1.4" stroke="#7cd4e0" stroke-width="0.7"/><path d="M242.2,406.4 A2.4,2.4 0 0 0 241.9,401.8" stroke="#eea23c" stroke-width="0.9" fill="none" stroke-linecap="round"/><path d="M243.9,405.9 A2.6,2.6 0 0 1 240.4,402.2" stroke="#eea23c" stroke-width="0.9" fill="none" stroke-linecap="round"/><path d="M247.9,405.3 A2.6,2.6 0 0 1 245.4,401.0" stroke="#eea23c" stroke-width="0.9" fill="none" stroke-linecap="round"/><path d="M249.0,405.2 A2.4,2.4 0 0 1 247.0,401.0" stroke="#eea23c" stroke-width="0.9" fill="none" stroke-linecap="round"/><path d="M249.8,405.2 A2.8,2.8 0 0 1 247.7,400.3" stroke="#eea23c" stroke-width="0.9" fill="none" stroke-linecap="round"/><circle cx="250.7" cy="402.7" r="0.8" fill="#2a1220"/><path d="M253.6,405.7 A2.8,2.8 0 0 0 257.6,402.0" stroke="#eea23c" stroke-width="0.9" fill="none" stroke-linecap="round"/><circle cx="253.4" cy="403.0" r="0.8" fill="#2a1220"/><path d="M253.5,406.5 l0.4,-1.5" stroke="#7cd4e0" stroke-width="0.7"/><path d="M255.2,406.2 A2.5,2.5 0 0 0 258.1,402.5" stroke="#eea23c" stroke-width="0.9" fill="none" stroke-linecap="round"/><path d="M254.9,406.9 l0.5,-1.5" stroke="#7cd4e0" stroke-width="0.7"/><path d="M258.8,407.7 A2.2,2.2 0 0 0 262.7,405.8" stroke="#eea23c" stroke-width="0.9" fill="none" stroke-linecap="round"/><path d="M259.3,408.0 A2.3,2.3 0 0 1 259.7,403.6" stroke="#eea23c" stroke-width="0.9" fill="none" stroke-linecap="round"/><path d="M259.0,408.7 l0.8,-1.4" stroke="#7cd4e0" stroke-width="0.7"/><path d="M262.1,409.8 A2.7,2.7 0 0 1 264.1,405.1" stroke="#eea23c" stroke-width="0.9" fill="none" stroke-linecap="round"/><circle cx="264.2" cy="407.7" r="0.8" fill="#2a1220"/><path d="M263.5,411.2 A2.5,2.5 0 0 1 264.2,406.4" stroke="#eea23c" stroke-width="0.9" fill="none" stroke-linecap="round"/><circle cx="265.5" cy="409.7" r="0.8" fill="#2a1220"/><path d="M263.0,411.7 l1.1,-1.1" stroke="#7cd4e0" stroke-width="0.7"/><path d="M264.0,411.6 A2.8,2.8 0 0 1 266.6,407.0" stroke="#eea23c" stroke-width="0.9" fill="none" stroke-linecap="round"/><path d="M263.4,412.1 l1.1,-1.1" stroke="#7cd4e0" stroke-width="0.7"/><path d="M264.1,411.8 A2.6,2.6 0 0 0 269.0,410.9" stroke="#eea23c" stroke-width="0.9" fill="none" stroke-linecap="round"/><circle cx="265.8" cy="409.9" r="0.8" fill="#2a1220"/><path d="M263.6,412.3 l1.1,-1.1" stroke="#7cd4e0" stroke-width="0.7"/><path d="M265.9,413.9 A2.2,2.2 0 0 0 270.1,413.3" stroke="#eea23c" stroke-width="0.9" fill="none" stroke-linecap="round"/><circle cx="269.2" cy="413.1" r="0.8" fill="#2a1220"/><path d="M265.2,414.3 l1.3,-0.9" stroke="#7cd4e0" stroke-width="0.7"/><path d="M266.5,414.8 A2.9,2.9 0 0 1 268.8,409.7" stroke="#eea23c" stroke-width="0.9" fill="none" stroke-linecap="round"/><path d="M268.4,418.6 A2.7,2.7 0 0 1 272.6,415.3" stroke="#eea23c" stroke-width="0.9" fill="none" stroke-linecap="round"/><circle cx="270.8" cy="417.3" r="0.8" fill="#2a1220"/><path d="M268.5,418.8 A2.4,2.4 0 0 1 271.3,415.1" stroke="#eea23c" stroke-width="0.9" fill="none" stroke-linecap="round"/><circle cx="271.8" cy="417.5" r="0.8" fill="#2a1220"/><path d="M269.2,421.3 A2.6,2.6 0 0 0 274.1,422.8" stroke="#eea23c" stroke-width="0.9" fill="none" stroke-linecap="round"/><circle cx="270.7" cy="420.3" r="0.8" fill="#2a1220"/><path d="M269.8,425.2 A2.5,2.5 0 0 1 273.9,422.8" stroke="#eea23c" stroke-width="0.9" fill="none" stroke-linecap="round"/>
<clipPath id="pc4"><circle cx="171.6" cy="356.4" r="51"/></clipPath><circle cx="171.6" cy="356.4" r="70" fill="#ece6d6" filter="url(#b6)" opacity="0.95"/><circle cx="171.6" cy="356.4" r="51" fill="url(#gCore)"/><g clip-path="url(#pc4)"><path d="M136.2,316.2 L143.3,325.9 L149.3,336.8 L162.1,344.6 L164.4,352.5 L173.6,359.3 L186.4,374.4 L186.8,382.3 L199.1,387.4 L204.3,398.8" stroke="#3f86e0" stroke-width="8.2" fill="none" opacity="0.5" filter="url(#b2)"/><path d="M136.2,316.2 L143.3,325.9 L149.3,336.8 L162.1,344.6 L164.4,352.5 L173.6,359.3 L186.4,374.4 L186.8,382.3 L199.1,387.4 L204.3,398.8" stroke="#a8d4ff" stroke-width="2.0" fill="none"/><path d="M173.6,359.3 L174.0,368.4 L172.3,373.7" stroke="#8cc0f4" stroke-width="1.4" fill="none"/><path d="M173.6,359.3 L180.1,359.7 L189.1,356.7" stroke="#8cc0f4" stroke-width="1.4" fill="none"/><path d="M186.4,374.4 L180.2,383.0 L174.3,391.8" stroke="#8cc0f4" stroke-width="1.4" fill="none"/><path d="M186.8,382.3 L200.2,379.1 L209.9,377.9" stroke="#8cc0f4" stroke-width="1.4" fill="none"/></g><path d="M194.5,362.3 a3.4,3.4 0 1 1 6.4,1.7" stroke="#e8a040" stroke-width="1.9" fill="none"/><circle cx="197.9" cy="361.7" r="2.1" fill="#3c1a40"/><path d="M197.9,363.8 v3.4" stroke="#7cd4e0" stroke-width="1.5"/><path d="M155.3,346.8 a3.4,3.4 0 1 1 6.4,1.7" stroke="#e8a040" stroke-width="1.9" fill="none"/><circle cx="158.7" cy="346.2" r="2.1" fill="#3c1a40"/><path d="M158.7,348.3 v3.4" stroke="#7cd4e0" stroke-width="1.5"/><path d="M183.3,349.3 a3.4,3.4 0 1 1 6.4,1.7" stroke="#e8a040" stroke-width="1.9" fill="none"/><circle cx="186.7" cy="348.6" r="2.1" fill="#3c1a40"/><path d="M186.7,350.8 v3.4" stroke="#7cd4e0" stroke-width="1.5"/><path d="M135.0,386.5 a3.4,3.4 0 1 1 6.4,1.7" stroke="#e8a040" stroke-width="1.9" fill="none"/><circle cx="138.4" cy="385.9" r="2.1" fill="#3c1a40"/><path d="M138.4,388.0 v3.4" stroke="#7cd4e0" stroke-width="1.5"/><path d="M185.7,346.4 a3.4,3.4 0 1 1 6.4,1.7" stroke="#e8a040" stroke-width="1.9" fill="none"/><circle cx="189.1" cy="345.7" r="2.1" fill="#3c1a40"/><path d="M189.1,347.8 v3.4" stroke="#7cd4e0" stroke-width="1.5"/><path d="M207.6,347.9 a3.4,3.4 0 1 1 6.4,1.7" stroke="#e8a040" stroke-width="1.9" fill="none"/><circle cx="211.0" cy="347.3" r="2.1" fill="#3c1a40"/><path d="M211.0,349.4 v3.4" stroke="#7cd4e0" stroke-width="1.5"/><path d="M126.0,373.3 a3.4,3.4 0 1 1 6.4,1.7" stroke="#e8a040" stroke-width="1.9" fill="none"/><circle cx="129.4" cy="372.6" r="2.1" fill="#3c1a40"/><path d="M129.4,374.8 v3.4" stroke="#7cd4e0" stroke-width="1.5"/><path d="M178.5,383.6 a3.4,3.4 0 1 1 6.4,1.7" stroke="#e8a040" stroke-width="1.9" fill="none"/><circle cx="181.9" cy="382.9" r="2.1" fill="#3c1a40"/><path d="M181.9,385.1 v3.4" stroke="#7cd4e0" stroke-width="1.5"/><path d="M199.3,351.2 a3.4,3.4 0 1 1 6.4,1.7" stroke="#e8a040" stroke-width="1.9" fill="none"/><circle cx="202.7" cy="350.6" r="2.1" fill="#3c1a40"/><path d="M202.7,352.7 v3.4" stroke="#7cd4e0" stroke-width="1.5"/><path d="M159.7,338.7 a3.4,3.4 0 1 1 6.4,1.7" stroke="#e8a040" stroke-width="1.9" fill="none"/><circle cx="163.1" cy="338.0" r="2.1" fill="#3c1a40"/><path d="M163.1,340.2 v3.4" stroke="#7cd4e0" stroke-width="1.5"/><path d="M126.0,351.2 a3.4,3.4 0 1 1 6.4,1.7" stroke="#e8a040" stroke-width="1.9" fill="none"/><circle cx="129.4" cy="350.6" r="2.1" fill="#3c1a40"/><path d="M129.4,352.7 v3.4" stroke="#7cd4e0" stroke-width="1.5"/><path d="M165.3,383.7 a3.4,3.4 0 1 1 6.4,1.7" stroke="#e8a040" stroke-width="1.9" fill="none"/><circle cx="168.7" cy="383.1" r="2.1" fill="#3c1a40"/><path d="M168.7,385.2 v3.4" stroke="#7cd4e0" stroke-width="1.5"/><path d="M144.5,319.5 a3.4,3.4 0 1 1 6.4,1.7" stroke="#e8a040" stroke-width="1.9" fill="none"/><circle cx="147.9" cy="318.9" r="2.1" fill="#3c1a40"/><path d="M147.9,321.0 v3.4" stroke="#7cd4e0" stroke-width="1.5"/><path d="M178.2,376.4 a3.4,3.4 0 1 1 6.4,1.7" stroke="#e8a040" stroke-width="1.9" fill="none"/><circle cx="181.6" cy="375.7" r="2.1" fill="#3c1a40"/><path d="M181.6,377.9 v3.4" stroke="#7cd4e0" stroke-width="1.5"/><path d="M222.0,359.2 A4.7,4.7 0 0 0 229.9,363.5" stroke="#eea23c" stroke-width="1.9" fill="none" stroke-linecap="round"/><path d="M222.1,357.0 A5.4,5.4 0 0 1 231.8,353.2" stroke="#eea23c" stroke-width="1.9" fill="none" stroke-linecap="round"/><circle cx="229.7" cy="357.0" r="1.8" fill="#2a1220"/><path d="M221.6,363.5 A5.8,5.8 0 0 0 230.6,370.1" stroke="#eea23c" stroke-width="1.9" fill="none" stroke-linecap="round"/><circle cx="227.0" cy="364.0" r="1.8" fill="#2a1220"/><path d="M221.7,362.7 A5.6,5.6 0 0 0 230.4,369.0" stroke="#eea23c" stroke-width="1.9" fill="none" stroke-linecap="round"/><circle cx="226.4" cy="366.5" r="1.8" fill="#2a1220"/><path d="M221.9,361.2 A4.8,4.8 0 0 1 230.5,358.0" stroke="#eea23c" stroke-width="1.9" fill="none" stroke-linecap="round"/><circle cx="225.5" cy="362.3" r="1.8" fill="#2a1220"/><path d="M219.9,371.1 A5.5,5.5 0 0 1 230.3,369.4" stroke="#eea23c" stroke-width="1.9" fill="none" stroke-linecap="round"/><circle cx="224.4" cy="374.1" r="1.8" fill="#2a1220"/><path d="M219.5,372.4 A5.6,5.6 0 0 0 227.6,379.6" stroke="#eea23c" stroke-width="1.9" fill="none" stroke-linecap="round"/><circle cx="226.2" cy="373.4" r="1.8" fill="#2a1220"/><path d="M219.0,372.3 l3.3,1.1" stroke="#7cd4e0" stroke-width="1.5"/><path d="M220.3,369.9 A4.9,4.9 0 0 0 228.3,374.7" stroke="#eea23c" stroke-width="1.9" fill="none" stroke-linecap="round"/><circle cx="227.7" cy="370.1" r="1.8" fill="#2a1220"/><path d="M219.8,369.7 l3.4,0.9" stroke="#7cd4e0" stroke-width="1.5"/><path d="M219.9,371.1 A5.2,5.2 0 0 1 229.1,367.3" stroke="#eea23c" stroke-width="1.9" fill="none" stroke-linecap="round"/><path d="M219.4,371.0 l3.3,1.0" stroke="#7cd4e0" stroke-width="1.5"/><path d="M217.2,378.1 A5.0,5.0 0 0 1 226.5,375.7" stroke="#eea23c" stroke-width="1.9" fill="none" stroke-linecap="round"/><circle cx="220.4" cy="383.2" r="1.8" fill="#2a1220"/><path d="M217.4,377.6 A6.0,6.0 0 0 0 223.0,387.9" stroke="#eea23c" stroke-width="1.9" fill="none" stroke-linecap="round"/><path d="M215.7,381.0 A5.3,5.3 0 0 1 225.9,382.4" stroke="#eea23c" stroke-width="1.9" fill="none" stroke-linecap="round"/><path d="M215.7,381.0 A6.3,6.3 0 0 0 220.6,392.0" stroke="#eea23c" stroke-width="1.9" fill="none" stroke-linecap="round"/><path d="M215.3,380.8 l3.1,1.7" stroke="#7cd4e0" stroke-width="1.5"/><path d="M213.3,384.9 A5.3,5.3 0 0 1 223.5,384.6" stroke="#eea23c" stroke-width="1.9" fill="none" stroke-linecap="round"/><circle cx="218.7" cy="386.0" r="1.8" fill="#2a1220"/><path d="M211.7,387.2 A5.6,5.6 0 0 0 216.2,396.9" stroke="#eea23c" stroke-width="1.9" fill="none" stroke-linecap="round"/><circle cx="216.4" cy="389.5" r="1.8" fill="#2a1220"/><path d="M210.1,389.1 A5.7,5.7 0 0 0 212.6,399.9" stroke="#eea23c" stroke-width="1.9" fill="none" stroke-linecap="round"/><circle cx="215.0" cy="392.1" r="1.8" fill="#2a1220"/><path d="M205.4,393.9 A6.5,6.5 0 0 1 217.7,395.9" stroke="#eea23c" stroke-width="1.9" fill="none" stroke-linecap="round"/><path d="M205.0,393.6 l2.3,2.6" stroke="#7cd4e0" stroke-width="1.5"/><path d="M204.1,395.1 A5.3,5.3 0 0 0 208.3,404.3" stroke="#eea23c" stroke-width="1.9" fill="none" stroke-linecap="round"/><circle cx="207.8" cy="400.7" r="1.8" fill="#2a1220"/><path d="M203.7,394.7 l2.3,2.7" stroke="#7cd4e0" stroke-width="1.5"/><path d="M207.2,392.2 A5.7,5.7 0 0 1 217.3,396.4" stroke="#eea23c" stroke-width="1.9" fill="none" stroke-linecap="round"/><path d="M206.9,391.8 l2.5,2.5" stroke="#7cd4e0" stroke-width="1.5"/><path d="M202.5,396.3 A5.0,5.0 0 0 1 211.9,398.6" stroke="#eea23c" stroke-width="1.9" fill="none" stroke-linecap="round"/><circle cx="203.2" cy="402.3" r="1.8" fill="#2a1220"/><path d="M205.0,394.3 A6.3,6.3 0 0 1 216.0,399.4" stroke="#eea23c" stroke-width="1.9" fill="none" stroke-linecap="round"/><circle cx="209.7" cy="400.3" r="1.8" fill="#2a1220"/><path d="M196.3,400.4 A5.7,5.7 0 0 1 205.9,405.8" stroke="#eea23c" stroke-width="1.9" fill="none" stroke-linecap="round"/><circle cx="196.1" cy="406.0" r="1.8" fill="#2a1220"/><path d="M196.0,400.6 A6.1,6.1 0 0 1 204.6,408.7" stroke="#eea23c" stroke-width="1.9" fill="none" stroke-linecap="round"/><circle cx="196.5" cy="404.7" r="1.8" fill="#2a1220"/><path d="M192.3,402.4 A5.7,5.7 0 0 1 200.7,409.7" stroke="#eea23c" stroke-width="1.9" fill="none" stroke-linecap="round"/><circle cx="191.7" cy="406.8" r="1.8" fill="#2a1220"/><path d="M192.0,402.6 A5.0,5.0 0 0 0 189.3,411.9" stroke="#eea23c" stroke-width="1.9" fill="none" stroke-linecap="round"/><path d="M192.2,402.5 A4.9,4.9 0 0 0 192.1,411.8" stroke="#eea23c" stroke-width="1.9" fill="none" stroke-linecap="round"/><path d="M192.0,402.0 l1.4,3.2" stroke="#7cd4e0" stroke-width="1.5"/><path d="M185.1,405.1 A6.5,6.5 0 0 1 193.8,413.9" stroke="#eea23c" stroke-width="1.9" fill="none" stroke-linecap="round"/><path d="M187.5,404.3 A5.0,5.0 0 0 1 194.7,410.7" stroke="#eea23c" stroke-width="1.9" fill="none" stroke-linecap="round"/><path d="M187.3,403.9 l1.1,3.3" stroke="#7cd4e0" stroke-width="1.5"/><path d="M183.2,405.5 A5.3,5.3 0 0 1 190.4,412.9" stroke="#eea23c" stroke-width="1.9" fill="none" stroke-linecap="round"/><circle cx="188.1" cy="412.3" r="1.8" fill="#2a1220"/><path d="M182.4,405.7 A5.6,5.6 0 0 0 178.4,415.7" stroke="#eea23c" stroke-width="1.9" fill="none" stroke-linecap="round"/><circle cx="180.7" cy="413.2" r="1.8" fill="#2a1220"/><path d="M181.0,406.0 A6.3,6.3 0 0 1 187.1,416.5" stroke="#eea23c" stroke-width="1.9" fill="none" stroke-linecap="round"/><circle cx="181.9" cy="411.0" r="1.8" fill="#2a1220"/><path d="M178.0,406.5 A6.2,6.2 0 0 1 184.4,416.5" stroke="#eea23c" stroke-width="1.9" fill="none" stroke-linecap="round"/><circle cx="177.8" cy="411.7" r="1.8" fill="#2a1220"/><path d="M174.2,406.8 A6.3,6.3 0 0 1 179.7,417.7" stroke="#eea23c" stroke-width="1.9" fill="none" stroke-linecap="round"/><path d="M171.9,406.9 A6.4,6.4 0 0 1 178.4,417.4" stroke="#eea23c" stroke-width="1.9" fill="none" stroke-linecap="round"/><circle cx="171.8" cy="411.0" r="1.8" fill="#2a1220"/><path d="M173.9,406.8 A5.2,5.2 0 0 0 169.3,415.8" stroke="#eea23c" stroke-width="1.9" fill="none" stroke-linecap="round"/><circle cx="173.3" cy="414.3" r="1.8" fill="#2a1220"/><path d="M172.2,406.9 A4.7,4.7 0 0 0 167.1,414.4" stroke="#eea23c" stroke-width="1.9" fill="none" stroke-linecap="round"/><path d="M160.9,405.8 A5.8,5.8 0 0 1 163.2,416.7" stroke="#eea23c" stroke-width="1.9" fill="none" stroke-linecap="round"/><path d="M161.0,405.3 l-0.7,3.4" stroke="#7cd4e0" stroke-width="1.5"/><path d="M165.6,406.5 A5.0,5.0 0 0 0 158.7,413.3" stroke="#eea23c" stroke-width="1.9" fill="none" stroke-linecap="round"/><path d="M159.9,405.5 A6.1,6.1 0 0 0 151.0,413.0" stroke="#eea23c" stroke-width="1.9" fill="none" stroke-linecap="round"/><circle cx="157.0" cy="408.5" r="1.8" fill="#2a1220"/><path d="M155.5,404.3 A5.4,5.4 0 0 1 155.4,414.6" stroke="#eea23c" stroke-width="1.9" fill="none" stroke-linecap="round"/><circle cx="152.8" cy="408.8" r="1.8" fill="#2a1220"/><path d="M152.0,402.9 A5.4,5.4 0 0 1 150.8,413.2" stroke="#eea23c" stroke-width="1.9" fill="none" stroke-linecap="round"/><circle cx="153.0" cy="408.4" r="1.8" fill="#2a1220"/><path d="M153.6,403.6 A4.9,4.9 0 0 0 146.1,409.4" stroke="#eea23c" stroke-width="1.9" fill="none" stroke-linecap="round"/><circle cx="155.4" cy="407.9" r="1.8" fill="#2a1220"/><path d="M153.8,403.1 l-1.2,3.3" stroke="#7cd4e0" stroke-width="1.5"/><path d="M147.6,400.8 A4.9,4.9 0 0 0 140.8,407.2" stroke="#eea23c" stroke-width="1.9" fill="none" stroke-linecap="round"/><circle cx="142.7" cy="405.5" r="1.8" fill="#2a1220"/><path d="M148.5,401.3 A4.9,4.9 0 0 0 139.9,405.4" stroke="#eea23c" stroke-width="1.9" fill="none" stroke-linecap="round"/><circle cx="149.5" cy="405.4" r="1.8" fill="#2a1220"/><path d="M148.7,400.8 l-1.6,3.1" stroke="#7cd4e0" stroke-width="1.5"/><path d="M151.4,402.7 A5.9,5.9 0 0 1 151.3,414.1" stroke="#eea23c" stroke-width="1.9" fill="none" stroke-linecap="round"/><circle cx="149.3" cy="409.7" r="1.8" fill="#2a1220"/><path d="M148.4,401.2 A5.5,5.5 0 0 0 139.8,407.5" stroke="#eea23c" stroke-width="1.9" fill="none" stroke-linecap="round"/><path d="M148.6,400.8 l-1.6,3.1" stroke="#7cd4e0" stroke-width="1.5"/><path d="M143.8,398.6 A6.3,6.3 0 0 1 142.3,410.6" stroke="#eea23c" stroke-width="1.9" fill="none" stroke-linecap="round"/><path d="M142.4,397.6 A5.6,5.6 0 0 0 133.7,403.8" stroke="#eea23c" stroke-width="1.9" fill="none" stroke-linecap="round"/><circle cx="140.5" cy="402.8" r="1.8" fill="#2a1220"/><path d="M142.7,397.2 l-2.0,2.9" stroke="#7cd4e0" stroke-width="1.5"/><path d="M139.0,395.0 A5.8,5.8 0 0 0 129.4,400.8" stroke="#eea23c" stroke-width="1.9" fill="none" stroke-linecap="round"/><circle cx="136.1" cy="402.5" r="1.8" fill="#2a1220"/><path d="M136.1,392.3 A6.1,6.1 0 0 1 132.1,403.3" stroke="#eea23c" stroke-width="1.9" fill="none" stroke-linecap="round"/><path d="M134.1,390.3 A4.7,4.7 0 0 1 129.4,397.9" stroke="#eea23c" stroke-width="1.9" fill="none" stroke-linecap="round"/><circle cx="131.2" cy="393.1" r="1.8" fill="#2a1220"/><path d="M133.0,388.9 A6.4,6.4 0 0 1 126.4,399.4" stroke="#eea23c" stroke-width="1.9" fill="none" stroke-linecap="round"/><path d="M134.6,390.8 A5.4,5.4 0 0 1 132.3,400.9" stroke="#eea23c" stroke-width="1.9" fill="none" stroke-linecap="round"/><path d="M135.0,390.5 l-2.6,2.4" stroke="#7cd4e0" stroke-width="1.5"/><path d="M128.5,382.7 A6.2,6.2 0 0 1 123.3,393.4" stroke="#eea23c" stroke-width="1.9" fill="none" stroke-linecap="round"/><circle cx="123.8" cy="385.7" r="1.8" fill="#2a1220"/><path d="M128.8,383.1 A5.7,5.7 0 0 1 125.3,393.5" stroke="#eea23c" stroke-width="1.9" fill="none" stroke-linecap="round"/><path d="M127.9,381.7 A5.4,5.4 0 0 1 120.8,389.3" stroke="#eea23c" stroke-width="1.9" fill="none" stroke-linecap="round"/><circle cx="119.7" cy="382.9" r="1.8" fill="#2a1220"/><path d="M126.4,379.0 A5.1,5.1 0 0 0 116.7,379.3" stroke="#eea23c" stroke-width="1.9" fill="none" stroke-linecap="round"/><circle cx="122.2" cy="383.7" r="1.8" fill="#2a1220"/><path d="M126.8,379.6 A5.2,5.2 0 0 1 120.4,387.4" stroke="#eea23c" stroke-width="1.9" fill="none" stroke-linecap="round"/><path d="M124.8,375.3 A5.5,5.5 0 0 0 114.4,373.3" stroke="#eea23c" stroke-width="1.9" fill="none" stroke-linecap="round"/><path d="M125.2,375.1 l-3.2,1.3" stroke="#7cd4e0" stroke-width="1.5"/><path d="M123.2,370.7 A4.9,4.9 0 0 0 114.5,366.9" stroke="#eea23c" stroke-width="1.9" fill="none" stroke-linecap="round"/><circle cx="115.9" cy="370.5" r="1.8" fill="#2a1220"/><path d="M122.3,367.2 A6.3,6.3 0 0 0 110.7,363.7" stroke="#eea23c" stroke-width="1.9" fill="none" stroke-linecap="round"/><circle cx="114.4" cy="367.2" r="1.8" fill="#2a1220"/><path d="M122.1,366.3 A5.5,5.5 0 0 0 112.6,361.6" stroke="#eea23c" stroke-width="1.9" fill="none" stroke-linecap="round"/><circle cx="116.4" cy="367.5" r="1.8" fill="#2a1220"/><path d="M122.1,366.4 A5.1,5.1 0 0 1 114.4,372.4" stroke="#eea23c" stroke-width="1.9" fill="none" stroke-linecap="round"/><circle cx="117.2" cy="368.8" r="1.8" fill="#2a1220"/><path d="M121.3,360.6 A5.3,5.3 0 0 1 112.6,366.1" stroke="#eea23c" stroke-width="1.9" fill="none" stroke-linecap="round"/><path d="M121.9,365.5 A5.0,5.0 0 0 1 114.1,371.0" stroke="#eea23c" stroke-width="1.9" fill="none" stroke-linecap="round"/><path d="M122.4,365.4 l-3.4,0.6" stroke="#7cd4e0" stroke-width="1.5"/><path d="M121.2,359.3 A5.4,5.4 0 0 1 111.3,362.9" stroke="#eea23c" stroke-width="1.9" fill="none" stroke-linecap="round"/><path d="M121.7,359.3 l-3.5,0.2" stroke="#7cd4e0" stroke-width="1.5"/><path d="M121.3,360.7 A4.8,4.8 0 0 1 113.5,365.4" stroke="#eea23c" stroke-width="1.9" fill="none" stroke-linecap="round"/><circle cx="118.1" cy="359.8" r="1.8" fill="#2a1220"/><path d="M121.1,356.7 A5.3,5.3 0 0 0 112.3,351.5" stroke="#eea23c" stroke-width="1.9" fill="none" stroke-linecap="round"/><circle cx="116.9" cy="359.1" r="1.8" fill="#2a1220"/><path d="M121.7,348.9 A6.4,6.4 0 0 1 110.0,352.9" stroke="#eea23c" stroke-width="1.9" fill="none" stroke-linecap="round"/><circle cx="114.8" cy="348.8" r="1.8" fill="#2a1220"/><path d="M121.9,347.7 A5.2,5.2 0 0 0 114.2,341.2" stroke="#eea23c" stroke-width="1.9" fill="none" stroke-linecap="round"/><circle cx="116.8" cy="345.3" r="1.8" fill="#2a1220"/><path d="M122.2,345.8 A5.0,5.0 0 0 0 114.5,340.2" stroke="#eea23c" stroke-width="1.9" fill="none" stroke-linecap="round"/><circle cx="115.3" cy="345.8" r="1.8" fill="#2a1220"/><path d="M122.7,345.9 l-3.4,-0.7" stroke="#7cd4e0" stroke-width="1.5"/><path d="M122.8,343.5 A4.8,4.8 0 0 0 116.6,336.7" stroke="#eea23c" stroke-width="1.9" fill="none" stroke-linecap="round"/><path d="M123.3,343.6 l-3.4,-0.9" stroke="#7cd4e0" stroke-width="1.5"/><path d="M122.8,343.6 A5.1,5.1 0 0 0 114.4,338.3" stroke="#eea23c" stroke-width="1.9" fill="none" stroke-linecap="round"/><path d="M123.7,340.4 A6.3,6.3 0 0 1 111.8,342.3" stroke="#eea23c" stroke-width="1.9" fill="none" stroke-linecap="round"/><circle cx="116.5" cy="338.1" r="1.8" fill="#2a1220"/><path d="M125.1,336.6 A5.9,5.9 0 0 1 113.9,336.2" stroke="#eea23c" stroke-width="1.9" fill="none" stroke-linecap="round"/><circle cx="121.1" cy="333.4" r="1.8" fill="#2a1220"/><path d="M125.6,336.8 l-3.2,-1.4" stroke="#7cd4e0" stroke-width="1.5"/><path d="M124.8,337.4 A5.0,5.0 0 0 1 115.2,338.0" stroke="#eea23c" stroke-width="1.9" fill="none" stroke-linecap="round"/><path d="M125.5,335.8 A6.2,6.2 0 0 1 113.9,337.8" stroke="#eea23c" stroke-width="1.9" fill="none" stroke-linecap="round"/><path d="M128.4,330.3 A6.0,6.0 0 0 1 117.1,328.0" stroke="#eea23c" stroke-width="1.9" fill="none" stroke-linecap="round"/><path d="M128.9,329.4 A5.9,5.9 0 0 1 117.5,329.9" stroke="#eea23c" stroke-width="1.9" fill="none" stroke-linecap="round"/><path d="M128.7,329.7 A5.7,5.7 0 0 0 124.8,319.4" stroke="#eea23c" stroke-width="1.9" fill="none" stroke-linecap="round"/><path d="M129.1,330.0 l-3.0,-1.8" stroke="#7cd4e0" stroke-width="1.5"/><path d="M132.9,323.9 A5.5,5.5 0 0 1 122.7,321.1" stroke="#eea23c" stroke-width="1.9" fill="none" stroke-linecap="round"/><circle cx="129.3" cy="318.9" r="1.8" fill="#2a1220"/><path d="M133.3,324.3 l-2.7,-2.2" stroke="#7cd4e0" stroke-width="1.5"/><path d="M130.1,327.6 A5.2,5.2 0 0 1 120.4,325.4" stroke="#eea23c" stroke-width="1.9" fill="none" stroke-linecap="round"/><path d="M134.3,322.4 A6.3,6.3 0 0 1 122.8,318.5" stroke="#eea23c" stroke-width="1.9" fill="none" stroke-linecap="round"/><path d="M138.0,318.7 A6.1,6.1 0 0 1 126.5,316.7" stroke="#eea23c" stroke-width="1.9" fill="none" stroke-linecap="round"/><circle cx="135.1" cy="316.5" r="1.8" fill="#2a1220"/><path d="M134.0,322.7 A5.5,5.5 0 0 1 123.8,319.6" stroke="#eea23c" stroke-width="1.9" fill="none" stroke-linecap="round"/><circle cx="132.1" cy="319.7" r="1.8" fill="#2a1220"/><path d="M134.4,323.0 l-2.6,-2.3" stroke="#7cd4e0" stroke-width="1.5"/><path d="M136.6,320.0 A6.0,6.0 0 0 1 125.7,316.0" stroke="#eea23c" stroke-width="1.9" fill="none" stroke-linecap="round"/><circle cx="136.6" cy="315.6" r="1.8" fill="#2a1220"/><path d="M136.9,320.4 l-2.4,-2.5" stroke="#7cd4e0" stroke-width="1.5"/><path d="M144.3,313.9 A5.2,5.2 0 0 0 143.6,303.9" stroke="#eea23c" stroke-width="1.9" fill="none" stroke-linecap="round"/><path d="M141.3,316.0 A5.3,5.3 0 0 1 132.2,311.5" stroke="#eea23c" stroke-width="1.9" fill="none" stroke-linecap="round"/><circle cx="141.4" cy="310.7" r="1.8" fill="#2a1220"/><path d="M141.6,316.4 l-2.1,-2.8" stroke="#7cd4e0" stroke-width="1.5"/><path d="M143.7,314.3 A5.8,5.8 0 0 1 133.0,310.9" stroke="#eea23c" stroke-width="1.9" fill="none" stroke-linecap="round"/><circle cx="139.0" cy="311.3" r="1.8" fill="#2a1220"/><path d="M144.0,314.7 l-1.9,-2.9" stroke="#7cd4e0" stroke-width="1.5"/><path d="M150.9,310.3 A5.5,5.5 0 0 1 141.7,305.1" stroke="#eea23c" stroke-width="1.9" fill="none" stroke-linecap="round"/><path d="M148.5,311.5 A6.3,6.3 0 0 0 146.8,299.5" stroke="#eea23c" stroke-width="1.9" fill="none" stroke-linecap="round"/><path d="M147.2,312.2 A6.4,6.4 0 0 1 136.8,305.7" stroke="#eea23c" stroke-width="1.9" fill="none" stroke-linecap="round"/><circle cx="143.5" cy="307.5" r="1.8" fill="#2a1220"/><path d="M152.3,309.8 A5.9,5.9 0 0 0 151.1,298.5" stroke="#eea23c" stroke-width="1.9" fill="none" stroke-linecap="round"/><path d="M157.2,308.0 A5.7,5.7 0 0 1 149.8,300.0" stroke="#eea23c" stroke-width="1.9" fill="none" stroke-linecap="round"/><circle cx="155.8" cy="302.0" r="1.8" fill="#2a1220"/><path d="M157.3,308.5 l-1.0,-3.4" stroke="#7cd4e0" stroke-width="1.5"/><path d="M161.4,306.9 A5.3,5.3 0 0 0 164.9,297.4" stroke="#eea23c" stroke-width="1.9" fill="none" stroke-linecap="round"/><circle cx="159.7" cy="303.9" r="1.8" fill="#2a1220"/><path d="M163.6,306.5 A5.4,5.4 0 0 0 168.6,297.5" stroke="#eea23c" stroke-width="1.9" fill="none" stroke-linecap="round"/><path d="M162.4,306.7 A6.2,6.2 0 0 1 153.9,298.5" stroke="#eea23c" stroke-width="1.9" fill="none" stroke-linecap="round"/><circle cx="162.6" cy="301.4" r="1.8" fill="#2a1220"/><path d="M162.5,307.2 l-0.6,-3.4" stroke="#7cd4e0" stroke-width="1.5"/><path d="M161.2,307.0 A5.5,5.5 0 0 1 153.4,300.0" stroke="#eea23c" stroke-width="1.9" fill="none" stroke-linecap="round"/><circle cx="157.7" cy="301.2" r="1.8" fill="#2a1220"/><path d="M162.5,306.7 A5.3,5.3 0 0 0 166.1,297.2" stroke="#eea23c" stroke-width="1.9" fill="none" stroke-linecap="round"/><circle cx="161.7" cy="299.2" r="1.8" fill="#2a1220"/><path d="M166.4,306.2 A5.5,5.5 0 0 1 161.2,296.9" stroke="#eea23c" stroke-width="1.9" fill="none" stroke-linecap="round"/><circle cx="165.7" cy="300.2" r="1.8" fill="#2a1220"/><path d="M166.5,306.7 l-0.4,-3.5" stroke="#7cd4e0" stroke-width="1.5"/><path d="M175.8,306.1 A6.4,6.4 0 0 0 182.4,295.8" stroke="#eea23c" stroke-width="1.9" fill="none" stroke-linecap="round"/><circle cx="177.0" cy="302.4" r="1.8" fill="#2a1220"/><path d="M179.3,306.5 A5.2,5.2 0 0 0 186.7,299.7" stroke="#eea23c" stroke-width="1.9" fill="none" stroke-linecap="round"/><circle cx="179.1" cy="302.6" r="1.8" fill="#2a1220"/><path d="M172.0,305.9 A5.4,5.4 0 0 0 178.7,297.9" stroke="#eea23c" stroke-width="1.9" fill="none" stroke-linecap="round"/><circle cx="168.7" cy="298.7" r="1.8" fill="#2a1220"/><path d="M182.8,307.1 A6.1,6.1 0 0 1 177.5,296.7" stroke="#eea23c" stroke-width="1.9" fill="none" stroke-linecap="round"/><circle cx="184.7" cy="301.5" r="1.8" fill="#2a1220"/><path d="M179.1,306.5 A6.2,6.2 0 0 1 175.9,294.9" stroke="#eea23c" stroke-width="1.9" fill="none" stroke-linecap="round"/><circle cx="183.0" cy="301.2" r="1.8" fill="#2a1220"/><path d="M179.2,306.5 A6.0,6.0 0 0 1 176.5,295.2" stroke="#eea23c" stroke-width="1.9" fill="none" stroke-linecap="round"/><circle cx="182.5" cy="300.3" r="1.8" fill="#2a1220"/><path d="M181.4,306.9 A6.5,6.5 0 0 1 179.7,294.6" stroke="#eea23c" stroke-width="1.9" fill="none" stroke-linecap="round"/><path d="M187.1,308.3 A5.6,5.6 0 0 0 193.6,299.7" stroke="#eea23c" stroke-width="1.9" fill="none" stroke-linecap="round"/><path d="M189.7,309.3 A5.2,5.2 0 0 1 188.7,299.2" stroke="#eea23c" stroke-width="1.9" fill="none" stroke-linecap="round"/><path d="M194.9,311.6 A4.8,4.8 0 0 0 202.9,307.2" stroke="#eea23c" stroke-width="1.9" fill="none" stroke-linecap="round"/><circle cx="194.5" cy="306.1" r="1.8" fill="#2a1220"/><path d="M190.9,309.7 A6.1,6.1 0 0 1 191.8,298.0" stroke="#eea23c" stroke-width="1.9" fill="none" stroke-linecap="round"/><path d="M193.4,310.9 A6.4,6.4 0 0 0 204.3,305.2" stroke="#eea23c" stroke-width="1.9" fill="none" stroke-linecap="round"/><circle cx="198.0" cy="307.8" r="1.8" fill="#2a1220"/><path d="M202.5,316.4 A6.4,6.4 0 0 0 213.3,310.8" stroke="#eea23c" stroke-width="1.9" fill="none" stroke-linecap="round"/><circle cx="205.8" cy="311.8" r="1.8" fill="#2a1220"/><path d="M200.2,314.8 A5.9,5.9 0 0 0 210.8,310.9" stroke="#eea23c" stroke-width="1.9" fill="none" stroke-linecap="round"/><circle cx="204.8" cy="312.4" r="1.8" fill="#2a1220"/><path d="M201.7,315.8 A5.6,5.6 0 0 1 204.1,305.4" stroke="#eea23c" stroke-width="1.9" fill="none" stroke-linecap="round"/><path d="M201.4,316.2 l2.1,-2.8" stroke="#7cd4e0" stroke-width="1.5"/><path d="M201.4,315.6 A6.0,6.0 0 0 0 212.5,312.4" stroke="#eea23c" stroke-width="1.9" fill="none" stroke-linecap="round"/><path d="M201.1,316.0 l2.1,-2.8" stroke="#7cd4e0" stroke-width="1.5"/><path d="M208.4,321.8 A5.7,5.7 0 0 0 218.2,316.9" stroke="#eea23c" stroke-width="1.9" fill="none" stroke-linecap="round"/><path d="M208.1,322.2 l2.6,-2.4" stroke="#7cd4e0" stroke-width="1.5"/><path d="M206.4,319.8 A5.7,5.7 0 0 1 208.9,309.2" stroke="#eea23c" stroke-width="1.9" fill="none" stroke-linecap="round"/><path d="M211.0,324.8 A5.5,5.5 0 0 0 221.4,323.3" stroke="#eea23c" stroke-width="1.9" fill="none" stroke-linecap="round"/><circle cx="214.7" cy="324.7" r="1.8" fill="#2a1220"/><path d="M210.6,325.1 l2.7,-2.2" stroke="#7cd4e0" stroke-width="1.5"/><path d="M214.2,329.2 A5.3,5.3 0 0 1 219.8,320.7" stroke="#eea23c" stroke-width="1.9" fill="none" stroke-linecap="round"/><path d="M215.6,331.5 A4.9,4.9 0 0 0 224.9,332.0" stroke="#eea23c" stroke-width="1.9" fill="none" stroke-linecap="round"/><circle cx="219.3" cy="328.1" r="1.8" fill="#2a1220"/><path d="M212.8,327.2 A6.2,6.2 0 0 0 224.6,327.9" stroke="#eea23c" stroke-width="1.9" fill="none" stroke-linecap="round"/><circle cx="217.2" cy="321.6" r="1.8" fill="#2a1220"/><path d="M212.4,327.5 l2.9,-2.0" stroke="#7cd4e0" stroke-width="1.5"/><path d="M213.2,327.8 A5.0,5.0 0 0 0 222.4,325.0" stroke="#eea23c" stroke-width="1.9" fill="none" stroke-linecap="round"/><path d="M217.3,334.9 A4.8,4.8 0 0 1 221.3,326.5" stroke="#eea23c" stroke-width="1.9" fill="none" stroke-linecap="round"/><circle cx="223.4" cy="332.5" r="1.8" fill="#2a1220"/><path d="M217.6,335.5 A5.7,5.7 0 0 1 222.3,325.7" stroke="#eea23c" stroke-width="1.9" fill="none" stroke-linecap="round"/><path d="M217.1,335.7 l3.2,-1.4" stroke="#7cd4e0" stroke-width="1.5"/><path d="M219.6,340.6 A6.3,6.3 0 0 1 226.7,330.7" stroke="#eea23c" stroke-width="1.9" fill="none" stroke-linecap="round"/><path d="M220.7,344.5 A5.2,5.2 0 0 0 230.3,347.3" stroke="#eea23c" stroke-width="1.9" fill="none" stroke-linecap="round"/><circle cx="225.1" cy="340.8" r="1.8" fill="#2a1220"/><path d="M219.6,340.6 A4.8,4.8 0 0 0 228.7,340.9" stroke="#eea23c" stroke-width="1.9" fill="none" stroke-linecap="round"/><circle cx="226.1" cy="335.8" r="1.8" fill="#2a1220"/><path d="M219.7,341.1 A6.4,6.4 0 0 0 231.7,344.1" stroke="#eea23c" stroke-width="1.9" fill="none" stroke-linecap="round"/><path d="M221.0,346.0 A6.0,6.0 0 0 1 229.9,338.7" stroke="#eea23c" stroke-width="1.9" fill="none" stroke-linecap="round"/><circle cx="224.8" cy="345.4" r="1.8" fill="#2a1220"/><path d="M221.0,345.7 A4.9,4.9 0 0 1 228.7,340.5" stroke="#eea23c" stroke-width="1.9" fill="none" stroke-linecap="round"/><path d="M220.5,345.8 l3.4,-0.7" stroke="#7cd4e0" stroke-width="1.5"/><path d="M221.8,350.8 A4.9,4.9 0 0 1 228.9,344.8" stroke="#eea23c" stroke-width="1.9" fill="none" stroke-linecap="round"/><circle cx="226.5" cy="352.6" r="1.8" fill="#2a1220"/><path d="M222.0,353.2 A5.7,5.7 0 0 0 232.1,357.4" stroke="#eea23c" stroke-width="1.9" fill="none" stroke-linecap="round"/>
<path d="M214,301 L354,362" stroke="#6c5c5c" stroke-width="1.3" stroke-dasharray="2.2,2" fill="none"/>
<path d="M272,444 L361,370" stroke="#6c5c5c" stroke-width="1.3" stroke-dasharray="2.2,2" fill="none"/>
<linearGradient id="gFig" x1="0" y1="0" x2="1" y2="0"><stop offset="0" stop-color="#e4e4e4"/><stop offset="0.25" stop-color="#f8f8f8"/><stop offset="0.7" stop-color="#f4f4f4"/><stop offset="1" stop-color="#dedede"/></linearGradient>
<radialGradient id="gHead" cx="0.4" cy="0.4" r="0.6"><stop offset="0" stop-color="#fbfbfb"/><stop offset="0.7" stop-color="#f0f0f0"/><stop offset="1" stop-color="#dedede"/></radialGradient>
<g filter="url(#b05)">
<g opacity="0.45"><path d="M173.4,502.5 Q173.4,496.5 179.3,496.5 H188.7 Q194.6,496.5 194.6,502.5 V556.0 H173.4Z" fill="url(#gFig)"/><path d="M176.8,514.4 V556.0 M191.2,514.4 V556.0" stroke="#dcdcdc" stroke-width="0.8"/><path d="M184.0,526.3 V556.0" stroke="#d0d0d0" stroke-width="1.1"/><circle cx="184" cy="490.04" r="7.2" fill="url(#gHead)"/></g>
<g opacity="0.45"><path d="M145.4,503.0 Q145.4,497.0 151.3,497.0 H160.7 Q166.6,497.0 166.6,503.0 V556.5 H145.4Z" fill="url(#gFig)"/><path d="M148.8,514.9 V556.5 M163.2,514.9 V556.5" stroke="#dcdcdc" stroke-width="0.8"/><path d="M156.0,526.8 V556.5" stroke="#d0d0d0" stroke-width="1.1"/><circle cx="156" cy="490.52" r="7.2" fill="url(#gHead)"/></g>
<g opacity="0.45"><path d="M201.4,503.1 Q201.4,497.1 207.3,497.1 H216.7 Q222.6,497.1 222.6,503.1 V556.6 H201.4Z" fill="url(#gFig)"/><path d="M204.8,515.0 V556.6 M219.2,515.0 V556.6" stroke="#dcdcdc" stroke-width="0.8"/><path d="M212.0,526.9 V556.6" stroke="#d0d0d0" stroke-width="1.1"/><circle cx="212" cy="490.6" r="7.2" fill="url(#gHead)"/></g>
<g opacity="0.45"><path d="M119.4,503.5 Q119.4,497.5 125.3,497.5 H134.7 Q140.6,497.5 140.6,503.5 V557.0 H119.4Z" fill="url(#gFig)"/><path d="M122.8,515.4 V557.0 M137.2,515.4 V557.0" stroke="#dcdcdc" stroke-width="0.8"/><path d="M130.0,527.3 V557.0" stroke="#d0d0d0" stroke-width="1.1"/><circle cx="130" cy="491.04" r="7.2" fill="url(#gHead)"/></g>
<g opacity="0.45"><path d="M227.4,503.6 Q227.4,497.6 233.3,497.6 H242.7 Q248.6,497.6 248.6,503.6 V557.1 H227.4Z" fill="url(#gFig)"/><path d="M230.8,515.5 V557.1 M245.2,515.5 V557.1" stroke="#dcdcdc" stroke-width="0.8"/><path d="M238.0,527.4 V557.1" stroke="#d0d0d0" stroke-width="1.1"/><circle cx="238" cy="491.12" r="7.2" fill="url(#gHead)"/></g>
<g opacity="0.45"><path d="M95.4,504.0 Q95.4,498.0 101.3,498.0 H110.7 Q116.6,498.0 116.6,504.0 V557.5 H95.4Z" fill="url(#gFig)"/><path d="M98.8,515.9 V557.5 M113.2,515.9 V557.5" stroke="#dcdcdc" stroke-width="0.8"/><path d="M106.0,527.8 V557.5" stroke="#d0d0d0" stroke-width="1.1"/><circle cx="106" cy="491.52" r="7.2" fill="url(#gHead)"/></g>
<g opacity="0.45"><path d="M251.4,504.1 Q251.4,498.1 257.3,498.1 H266.7 Q272.6,498.1 272.6,504.1 V557.6 H251.4Z" fill="url(#gFig)"/><path d="M254.8,516.0 V557.6 M269.2,516.0 V557.6" stroke="#dcdcdc" stroke-width="0.8"/><path d="M262.0,527.9 V557.6" stroke="#d0d0d0" stroke-width="1.1"/><circle cx="262" cy="491.6" r="7.2" fill="url(#gHead)"/></g>
<g opacity="0.45"><path d="M71.4,504.5 Q71.4,498.5 77.3,498.5 H86.7 Q92.6,498.5 92.6,504.5 V558.0 H71.4Z" fill="url(#gFig)"/><path d="M74.8,516.4 V558.0 M89.2,516.4 V558.0" stroke="#dcdcdc" stroke-width="0.8"/><path d="M82.0,528.3 V558.0" stroke="#d0d0d0" stroke-width="1.1"/><circle cx="82" cy="492.0" r="7.2" fill="url(#gHead)"/></g>
<g opacity="0.45"><path d="M275.4,504.5 Q275.4,498.6 281.3,498.6 H290.7 Q296.6,498.6 296.6,504.5 V558.1 H275.4Z" fill="url(#gFig)"/><path d="M278.8,516.4 V558.1 M293.2,516.4 V558.1" stroke="#dcdcdc" stroke-width="0.8"/><path d="M286.0,528.3 V558.1" stroke="#d0d0d0" stroke-width="1.1"/><circle cx="286" cy="492.08" r="7.2" fill="url(#gHead)"/></g>
<g opacity="0.45"><path d="M47.4,504.9 Q47.4,499.0 53.3,499.0 H62.7 Q68.6,499.0 68.6,504.9 V558.5 H47.4Z" fill="url(#gFig)"/><path d="M50.8,516.8 V558.5 M65.2,516.8 V558.5" stroke="#dcdcdc" stroke-width="0.8"/><path d="M58.0,528.7 V558.5" stroke="#d0d0d0" stroke-width="1.1"/><circle cx="58" cy="492.48" r="7.2" fill="url(#gHead)"/></g>
<g opacity="0.45"><path d="M299.4,505.0 Q299.4,499.1 305.3,499.1 H314.7 Q320.6,499.1 320.6,505.0 V558.6 H299.4Z" fill="url(#gFig)"/><path d="M302.8,516.9 V558.6 M317.2,516.9 V558.6" stroke="#dcdcdc" stroke-width="0.8"/><path d="M310.0,528.8 V558.6" stroke="#d0d0d0" stroke-width="1.1"/><circle cx="310" cy="492.56" r="7.2" fill="url(#gHead)"/></g>
<g opacity="0.45"><path d="M319.4,505.4 Q319.4,499.5 325.3,499.5 H334.7 Q340.6,499.5 340.6,505.4 V559.0 H319.4Z" fill="url(#gFig)"/><path d="M322.8,517.3 V559.0 M337.2,517.3 V559.0" stroke="#dcdcdc" stroke-width="0.8"/><path d="M330.0,529.2 V559.0" stroke="#d0d0d0" stroke-width="1.1"/><circle cx="330" cy="492.96" r="7.2" fill="url(#gHead)"/></g>
<g opacity="0.95"><path d="M311.4,508.5 Q311.4,502.5 317.3,502.5 H326.7 Q332.6,502.5 332.6,508.5 V562.0 H311.4Z" fill="url(#gFig)"/><path d="M314.8,520.4 V562.0 M329.2,520.4 V562.0" stroke="#dcdcdc" stroke-width="0.8"/><path d="M322.0,532.3 V562.0" stroke="#d0d0d0" stroke-width="1.1"/><circle cx="322" cy="496" r="7.2" fill="url(#gHead)"/></g>
<g opacity="0.95"><path d="M290.8,512.2 Q290.8,505.9 297.1,505.9 H306.9 Q313.2,505.9 313.2,512.2 V568.9 H290.8Z" fill="url(#gFig)"/><path d="M294.4,524.8 V568.9 M309.6,524.8 V568.9" stroke="#dcdcdc" stroke-width="0.9"/><path d="M302.0,537.4 V568.9" stroke="#d0d0d0" stroke-width="1.2"/><circle cx="302" cy="499" r="7.7" fill="url(#gHead)"/></g>
<g opacity="0.95"><path d="M34.8,513.2 Q34.8,506.9 41.0,506.9 H51.0 Q57.2,506.9 57.2,513.2 V569.9 H34.8Z" fill="url(#gFig)"/><path d="M38.4,525.8 V569.9 M53.6,525.8 V569.9" stroke="#dcdcdc" stroke-width="0.9"/><path d="M46.0,538.4 V569.9" stroke="#d0d0d0" stroke-width="1.2"/><circle cx="46" cy="500" r="7.7" fill="url(#gHead)"/></g>
<g opacity="0.95"><path d="M268.1,516.9 Q268.1,510.3 274.8,510.3 H285.2 Q291.9,510.3 291.9,516.9 V576.8 H268.1Z" fill="url(#gFig)"/><path d="M271.9,530.2 V576.8 M288.1,530.2 V576.8" stroke="#dcdcdc" stroke-width="0.9"/><path d="M280.0,543.5 V576.8" stroke="#d0d0d0" stroke-width="1.2"/><circle cx="280" cy="503" r="8.1" fill="url(#gHead)"/></g>
<g opacity="0.95"><path d="M59.1,518.9 Q59.1,512.3 65.8,512.3 H76.2 Q82.9,512.3 82.9,518.9 V578.8 H59.1Z" fill="url(#gFig)"/><path d="M62.9,532.2 V578.8 M79.1,532.2 V578.8" stroke="#dcdcdc" stroke-width="0.9"/><path d="M71.0,545.5 V578.8" stroke="#d0d0d0" stroke-width="1.2"/><circle cx="71" cy="505" r="8.1" fill="url(#gHead)"/></g>
<g opacity="0.95"><path d="M193.5,521.6 Q193.5,514.6 200.5,514.6 H211.5 Q218.5,514.6 218.5,521.6 V584.6 H193.5Z" fill="url(#gFig)"/><path d="M197.5,535.6 V584.6 M214.5,535.6 V584.6" stroke="#dcdcdc" stroke-width="1.0"/><path d="M206.0,549.6 V584.6" stroke="#d0d0d0" stroke-width="1.3"/><circle cx="206" cy="507" r="8.5" fill="url(#gHead)"/></g>
<g opacity="0.95"><path d="M244.1,521.9 Q244.1,515.3 250.8,515.3 H261.2 Q267.9,515.3 267.9,521.9 V581.8 H244.1Z" fill="url(#gFig)"/><path d="M247.9,535.2 V581.8 M264.1,535.2 V581.8" stroke="#dcdcdc" stroke-width="0.9"/><path d="M256.0,548.5 V581.8" stroke="#d0d0d0" stroke-width="1.2"/><circle cx="256" cy="508" r="8.1" fill="url(#gHead)"/></g>
<g opacity="0.95"><path d="M82.5,525.6 Q82.5,518.6 89.5,518.6 H100.5 Q107.5,518.6 107.5,525.6 V588.6 H82.5Z" fill="url(#gFig)"/><path d="M86.5,539.6 V588.6 M103.5,539.6 V588.6" stroke="#dcdcdc" stroke-width="1.0"/><path d="M95.0,553.6 V588.6" stroke="#d0d0d0" stroke-width="1.3"/><circle cx="95" cy="511" r="8.5" fill="url(#gHead)"/></g>
<g opacity="0.95"><path d="M219.5,526.6 Q219.5,519.6 226.5,519.6 H237.5 Q244.5,519.6 244.5,526.6 V589.6 H219.5Z" fill="url(#gFig)"/><path d="M223.5,540.6 V589.6 M240.5,540.6 V589.6" stroke="#dcdcdc" stroke-width="1.0"/><path d="M232.0,554.6 V589.6" stroke="#d0d0d0" stroke-width="1.3"/><circle cx="232" cy="512" r="8.5" fill="url(#gHead)"/></g>
<g opacity="0.95"><path d="M106.5,531.6 Q106.5,524.6 113.5,524.6 H124.5 Q131.5,524.6 131.5,531.6 V594.6 H106.5Z" fill="url(#gFig)"/><path d="M110.5,545.6 V594.6 M127.5,545.6 V594.6" stroke="#dcdcdc" stroke-width="1.0"/><path d="M119.0,559.6 V594.6" stroke="#d0d0d0" stroke-width="1.3"/><circle cx="119" cy="517" r="8.5" fill="url(#gHead)"/></g>
<g opacity="0.95"><path d="M133.5,536.6 Q133.5,529.6 140.5,529.6 H151.5 Q158.5,529.6 158.5,536.6 V599.6 H133.5Z" fill="url(#gFig)"/><path d="M137.5,550.6 V599.6 M154.5,550.6 V599.6" stroke="#dcdcdc" stroke-width="1.0"/><path d="M146.0,564.6 V599.6" stroke="#d0d0d0" stroke-width="1.3"/><circle cx="146" cy="522" r="8.5" fill="url(#gHead)"/></g>
</g>
<linearGradient id="gFade" x1="0" y1="0" x2="0" y2="1"><stop offset="0" stop-color="#fff" stop-opacity="0"/><stop offset="0.55" stop-color="#fff" stop-opacity="0.65"/><stop offset="1" stop-color="#fff" stop-opacity="1"/></linearGradient>
<rect x="20" y="550" width="330" height="62" fill="url(#gFade)"/>
<g fill="#1c1c1c" stroke="#1c1c1c" stroke-linecap="round" stroke-linejoin="round">
<circle cx="181" cy="531.8" r="9.6" stroke="none"/>
<path d="M147.5,525 C153,534 160,544 169,551" stroke-width="9.5" fill="none"/>
<path d="M188,548 C197,545 206,541 213,536.5" stroke-width="8.5" fill="none"/>
<path d="M163,546 C172,541 186,541 195,545 C192,556 189,567 187,579 L169,579 C168,567 167,556 163,546Z" stroke-width="2"/>
<path d="M173.5,576 C173.5,588 173.5,598 173.5,607.5" stroke-width="10" fill="none"/>
<path d="M184,576 C186,588 189,596 192,603" stroke-width="10" fill="none"/>
</g>
<path d="M213.3,513 L213.3,540" stroke="#1c1c1c" stroke-width="2"/>
<path d="M214,513.5 L226.5,519.6 L214,525.3 Z" fill="#1c1c1c"/>
<ellipse cx="553" cy="440" rx="24" ry="7" fill="#c4c4c4" filter="url(#b3)" opacity="0.8"/>
<ellipse cx="480" cy="456" rx="70" ry="7" fill="#d6d6d6" filter="url(#b4)" opacity="0.8"/>
<path d="M410,428 C395,418 378,412 371,399 C366,386 378,372 407,360" stroke="#d9b898" stroke-width="6.5" fill="none" stroke-linecap="round"/>
<path d="M410,428 C395,418 378,412 371,399 C366,386 378,372 407,360" stroke="#ecd2b8" stroke-width="3" fill="none" stroke-linecap="round"/>
<path d="M446,444 C448,455 452,462 468,468" stroke="#dcb99a" stroke-width="7" fill="none" stroke-linecap="round"/>
<path d="M462,466 l8,5 M465,464 l9,2" stroke="#d8b090" stroke-width="2" stroke-linecap="round"/>
<path d="M524,446 C527,452 530,458 536,461" stroke="#dcb99a" stroke-width="6" fill="none" stroke-linecap="round"/>
<linearGradient id="gMouse" x1="0" y1="0" x2="0" y2="1"><stop offset="0" stop-color="#ead6c2"/><stop offset="0.5" stop-color="#e2c7ad"/><stop offset="1" stop-color="#cfae92"/></linearGradient>
<path d="M406,433 C406,420 414,410 425,404 C436,397 448,393 462,391 C480,389 500,393 518,399 C530,401 546,400 558,405 C566,408 572,412 576,416 C572,422 566,426 556,429 C545,433 535,440 526,447 C510,451 480,453 458,451 C440,450 420,447 412,443 C408,440 406,437 406,433Z" fill="url(#gMouse)"/>
<path d="M425,418 C440,405 460,400 480,400 C500,401 512,405 522,410" stroke="#f2e4d4" stroke-width="7" fill="none" opacity="0.6" filter="url(#b3)"/>
<path d="M440,420 q5,8 2,20" stroke="#c9a488" stroke-width="0.9" fill="none" opacity="0.55"/>
<path d="M449,423 q5,8 2,20" stroke="#c9a488" stroke-width="0.9" fill="none" opacity="0.55"/>
<path d="M458,426 q5,8 2,20" stroke="#c9a488" stroke-width="0.9" fill="none" opacity="0.55"/>
<path d="M467,420 q5,8 2,20" stroke="#c9a488" stroke-width="0.9" fill="none" opacity="0.55"/>
<path d="M476,423 q5,8 2,20" stroke="#c9a488" stroke-width="0.9" fill="none" opacity="0.55"/>
<path d="M485,426 q5,8 2,20" stroke="#c9a488" stroke-width="0.9" fill="none" opacity="0.55"/>
<path d="M494,420 q5,8 2,20" stroke="#c9a488" stroke-width="0.9" fill="none" opacity="0.55"/>
<path d="M503,423 q5,8 2,20" stroke="#c9a488" stroke-width="0.9" fill="none" opacity="0.55"/>
<path d="M512,426 q5,8 2,20" stroke="#c9a488" stroke-width="0.9" fill="none" opacity="0.55"/>
<ellipse cx="525" cy="390" rx="6.5" ry="11" fill="#f0e0c4" transform="rotate(-12 525 390)"/>
<ellipse cx="540" cy="417" rx="10.5" ry="10" fill="#ecd5bc"/>
<ellipse cx="542" cy="416" rx="5.5" ry="6.5" fill="#d99c94"/>
<circle cx="560.5" cy="416" r="1.8" fill="#a82828"/>
<polygon points="452,352 460,349 533,436 505,447" fill="#f05a5a" opacity="0.38"/>
<path d="M455,351 L507,444 M456,351 L515,443 M457,350 L522,440 M458,350 L528,438" stroke="#f06a6a" stroke-width="1.1" opacity="0.8"/>
<g><circle cx="516.0" cy="431.1" r="3.5" fill="#a070c8" opacity="0.85"/><circle cx="512.5" cy="436.5" r="3.0" fill="#a070c8" opacity="0.85"/><circle cx="512.3" cy="436.1" r="2.6" fill="#a070c8" opacity="0.85"/><circle cx="517.6" cy="430.0" r="2.6" fill="#a070c8" opacity="0.85"/><circle cx="517.4" cy="440.6" r="2.7" fill="#a070c8" opacity="0.85"/><circle cx="514.6" cy="437.8" r="3.9" fill="#a070c8" opacity="0.85"/><circle cx="519.6" cy="434.6" r="4.0" fill="#a070c8" opacity="0.85"/><circle cx="512.2" cy="441.0" r="2.9" fill="#a070c8" opacity="0.85"/><circle cx="513.5" cy="430.6" r="3.0" fill="#a070c8" opacity="0.85"/><circle cx="522.9" cy="431.5" r="3.4" fill="#a070c8" opacity="0.85"/><circle cx="520.4" cy="434.2" r="3.3" fill="#a070c8" opacity="0.85"/><circle cx="512.4" cy="429.8" r="2.8" fill="#a070c8" opacity="0.85"/></g>
<g transform="translate(439,328) rotate(-36)"><rect x="-4.5" y="-28" width="9" height="56" rx="2" fill="#151515"/><rect x="-5" y="-19" width="10" height="7" fill="#e8c820"/><rect x="-5.5" y="-8" width="11" height="3" fill="#c0c0c0"/><rect x="-5.5" y="-5" width="11" height="33" rx="2" fill="#101010"/></g>
<g transform="translate(356,355) rotate(-35)"><rect x="-3.5" y="-56" width="7" height="27" fill="#dedede" stroke="#c0c0c0" stroke-width="0.6"/><rect x="-6.5" y="-58" width="13" height="3" rx="1" fill="#d0d0d0"/><rect x="-12" y="-31.5" width="24" height="3" rx="1" fill="#d4d4d4"/><rect x="-5.8" y="-30" width="11.6" height="54" fill="#ececec" stroke="#b4b4b4" stroke-width="0.8"/><path d="M-5,-20 h3 M-5,-13 h3 M-5,-6 h3" stroke="#888" stroke-width="0.8"/><rect x="-5.8" y="-1" width="11.6" height="6" fill="#3a3a3a"/><rect x="-5.8" y="5" width="11.6" height="19" fill="#c8e4c8" opacity="0.95"/><rect x="-2.5" y="24" width="5" height="7" fill="#c4e2f0"/><path d="M0,31 L0,63" stroke="#8c8c8c" stroke-width="0.9"/></g>
<path d="M360,482 C400,494 440,498 490,497 C510,496.5 530,494 544,491 L541.5,480 L593,486.5 L548,511.5 L550,501 C530,504 505,505 480,505 C440,503 400,495 360,482Z" fill="url(#gArrow)"/>
<path d="M550,501 C530,504 505,505 480,505 C440,503 400,495 360,482" stroke="#c0c8d8" stroke-width="1" fill="none" opacity="0.6"/>
<path d="M650,320 C660,280 720,250 800,230 C860,200 950,190 1000,230 C1030,260 1020,330 990,380 C980,450 930,520 880,560 C820,580 780,560 760,520 C700,470 650,400 650,320Z" fill="#ede8dc" filter="url(#b12)" opacity="0.9"/>
<path d="M790,340 L880,340 L880,385 L868,420 L850,452 L815,452 L775,425 L770,370Z" fill="#4a3672" filter="url(#b4)"/>
<circle cx="868" cy="318" r="34" fill="url(#gTum)" filter="url(#tumTex)"/>
<circle cx="792" cy="332" r="53" fill="url(#gTum)" filter="url(#tumTex)"/>
<circle cx="935" cy="332" r="50" fill="url(#gTum)" filter="url(#tumTex)"/>
<circle cx="688" cy="322" r="41" fill="url(#gTum)" filter="url(#tumTex)"/>
<path d="M723.9,176.0 L724.7,176.1 L725.7,176.3 L726.8,176.4 L728.1,176.6 L729.5,176.8 L731.0,177.1 L732.5,177.3 L734.1,177.5 L735.6,177.8 L737.1,178.0 L738.4,178.3 L739.7,178.5 L740.9,178.7 L742.0,178.9 L743.1,179.1 L744.2,179.3 L745.3,179.6 L746.4,179.8 L747.5,180.0 L748.5,180.3 L749.7,180.5 L750.8,180.8 L752.0,181.1 L753.3,181.4 L754.7,181.8 L756.2,182.2 L757.6,182.6 L759.1,183.0 L760.7,183.4 L762.2,183.8 L763.7,184.2 L765.1,184.7 L766.5,185.2 L767.8,185.7 L769.0,186.2 L770.2,186.7 L771.4,187.3 L772.5,187.9 L773.7,188.5 L774.8,189.1 L775.8,189.8 L776.8,190.4 L777.7,191.0 L778.5,191.6 L779.1,192.2 L779.7,192.8 L780.1,193.2 L780.4,193.7 L780.6,194.1 L780.9,194.6 L781.2,195.1 L781.5,195.7 L781.7,196.2 L782.0,196.8 L782.2,197.4 L782.3,198.0 L782.4,198.6 L782.5,199.1 L782.5,199.6 L782.5,200.0 L782.4,200.4 L782.4,200.8 L782.3,201.2 L782.1,201.5 L782.0,201.9 L781.8,202.3 L781.5,202.8 L781.1,203.4 L780.7,204.1 L780.2,204.8 L779.5,205.7 L778.8,206.6 L778.1,207.4 L777.2,208.4 L776.2,209.5 L775.0,210.6 L773.7,211.8 L772.4,213.1 L771.0,214.4 L769.5,215.7 L768.0,217.0 L766.5,218.4 L765.0,219.7 L763.5,221.1 L762.1,222.3 L760.7,223.6 L759.3,224.9 L757.8,226.2 L756.3,227.5 L754.8,228.8 L753.3,230.2 L751.8,231.5 L750.2,232.9 L748.7,234.2 L747.1,235.6 L745.6,237.0 L744.1,238.3 L742.6,239.6 L741.1,240.9 L739.7,242.3 L738.2,243.6 L736.7,244.9 L735.2,246.2 L733.7,247.6 L732.3,248.9 L730.8,250.2 L729.4,251.6 L728.0,252.9 L726.6,254.2 L725.2,255.5 L723.8,256.8 L722.4,258.2 L720.9,259.5 L719.4,260.9 L718.0,262.4 L716.6,263.8 L715.2,265.3 L713.8,266.9 L712.5,268.5 L711.3,270.1 L710.3,271.6 L709.4,273.0 L708.4,274.5 L707.6,276.0 L706.7,277.6 L706.0,279.3 L705.3,281.1 L704.7,283.0 L704.3,285.0 L704.0,287.1 L703.9,289.4 L704.1,291.7 L704.6,293.9 L705.2,296.0 L706.1,298.0 L707.0,299.9 L708.1,301.6 L709.3,303.2 L710.6,304.8 L711.9,306.3 L713.3,307.7 L714.9,309.0 L716.5,310.2 L718.2,311.3 L720.0,312.4 L721.8,313.3 L723.7,314.1 L725.6,314.8 L727.5,315.4 L729.4,315.9 L731.3,316.4 L733.2,316.8 L735.1,317.1 L736.9,317.4 L738.8,317.7 L740.7,317.9 L742.7,318.1 L744.8,318.3 L746.9,318.4 L749.0,318.5 L751.1,318.5 L753.2,318.5 L755.3,318.5 L757.4,318.4 L759.5,318.3 L761.6,318.2 L763.6,318.1 L765.7,318.0 L767.8,317.8 L769.9,317.7 L772.0,317.5 L774.2,317.3 L776.3,317.1 L778.5,316.9 L780.7,316.6 L783.0,316.3 L785.2,316.0 L787.5,315.6 L789.8,315.2 L792.1,314.8 L794.5,314.3 L796.9,313.7 L799.2,313.1 L801.6,312.5 L804.0,311.8 L806.3,311.1 L808.6,310.4 L810.9,309.7 L813.2,309.1 L815.4,308.4 L817.6,307.7 L819.8,307.1 L821.9,306.5 L824.0,305.9 L826.1,305.4 L828.2,304.8 L830.2,304.2 L832.3,303.6 L834.3,303.1 L836.4,302.5 L838.5,301.9 L840.5,301.3 L842.7,300.7 L844.9,300.1 L847.2,299.4 L849.5,298.7 L851.9,298.0 L854.2,297.3 L856.5,296.6 L858.8,295.9 L861.0,295.2 L863.3,294.5 L865.5,293.9 L867.8,293.3 L870.0,292.8 L872.1,292.3 L874.4,291.8 L876.6,291.4 L878.8,291.1 L881.0,290.7 L883.3,290.4 L885.6,290.1 L887.9,289.8 L890.3,289.5 L892.8,289.2 L895.5,289.0 L898.2,288.7 L901.0,288.4 L904.1,288.2 L907.3,287.9 L910.6,287.6 L914.1,287.3 L917.6,287.0 L921.1,286.7 L924.6,286.5 L928.1,286.3 L931.4,286.1 L934.5,286.0 L937.5,286.0 L940.2,286.0 L942.8,286.0 L945.2,286.1 L947.5,286.2 L949.6,286.3 L951.5,286.5 L953.3,286.7 L955.0,286.9 L956.6,287.2 L958.1,287.6 L959.7,288.0 L961.2,288.5 L962.9,289.1 L964.6,289.8 L966.3,290.5 L968.0,291.4 L969.7,292.3 L971.4,293.2 L973.0,294.2 L974.6,295.2 L976.0,296.3 L977.4,297.3 L978.6,298.4 L979.7,299.4 L980.6,300.3 L981.3,301.2 L982.0,302.1 L982.7,303.1 L983.3,304.1 L984.0,305.2 L984.6,306.3 L985.2,307.5 L985.7,308.8 L986.3,310.1 L986.9,311.5 L987.5,312.9 L988.1,314.4 L988.6,315.8 L989.0,317.0 L989.3,318.1 L989.6,319.0 L989.8,320.0 L990.0,321.0 L990.2,322.2 L990.4,323.5 L990.6,325.1 L990.8,327.0 L991.1,329.2 L991.3,331.7 L991.6,334.5 L991.8,337.5 L992.0,340.9 L992.2,344.5 L992.4,348.3 L992.6,352.3 L992.7,356.3 L992.9,360.4 L993.1,364.5 L993.2,368.5 L993.4,372.5 L993.6,376.3 L993.8,379.9 L994.0,383.6 L994.2,387.4 L994.4,391.1 L994.6,394.9 L994.9,398.7 L995.1,402.5 L995.3,406.3 L995.5,410.1 L995.7,413.8 L995.9,417.6 L996.0,421.4 L996.2,424.9 L996.4,428.1 L996.5,431.1 L996.7,433.8 L996.8,436.4 L997.0,439.1 L997.1,441.9 L997.2,445.0 L997.3,448.5 L997.4,452.5 L997.5,457.1 L997.5,462.5 L997.5,469.0 L997.5,476.7 L997.5,485.3 L997.5,494.7 L997.4,504.5 L997.3,514.3 L997.3,524.1 L997.2,533.4 L997.1,542.1 L997.1,549.8 L997.0,556.3 L997.0,561.2 L1049.0,560.8 L1048.9,555.8 L1048.7,549.4 L1048.6,541.7 L1048.4,533.0 L1048.1,523.7 L1047.9,513.9 L1047.7,504.0 L1047.4,494.2 L1047.2,484.8 L1046.9,476.0 L1046.7,468.2 L1046.5,461.5 L1046.3,455.9 L1046.1,451.0 L1045.9,446.7 L1045.7,442.9 L1045.5,439.4 L1045.3,436.3 L1045.1,433.4 L1044.9,430.6 L1044.6,427.8 L1044.4,425.0 L1044.2,422.0 L1044.0,418.6 L1043.7,415.0 L1043.5,411.3 L1043.3,407.5 L1043.1,403.7 L1042.9,399.8 L1042.6,395.8 L1042.4,391.9 L1042.1,387.9 L1041.8,383.8 L1041.4,379.8 L1040.9,375.8 L1040.4,371.7 L1039.8,367.7 L1039.1,363.6 L1038.4,359.4 L1037.6,355.2 L1036.8,350.9 L1035.9,346.7 L1035.0,342.6 L1034.1,338.6 L1033.2,334.7 L1032.4,331.0 L1031.5,327.5 L1030.7,324.3 L1029.9,321.4 L1029.1,318.8 L1028.4,316.3 L1027.6,313.9 L1026.9,311.7 L1026.0,309.5 L1025.2,307.3 L1024.2,305.3 L1023.2,303.3 L1022.2,301.3 L1021.1,299.5 L1019.9,297.6 L1018.7,295.8 L1017.5,293.9 L1016.1,292.0 L1014.7,290.1 L1013.2,288.2 L1011.6,286.3 L1009.8,284.4 L1008.0,282.5 L1006.0,280.7 L1003.9,279.0 L1001.7,277.3 L999.4,275.7 L997.0,274.2 L994.6,272.9 L992.1,271.8 L989.6,270.7 L987.0,269.7 L984.5,268.8 L981.9,268.0 L979.3,267.2 L976.7,266.5 L974.2,265.9 L971.7,265.4 L969.1,264.9 L966.7,264.5 L964.2,264.1 L961.8,263.9 L959.4,263.7 L957.1,263.6 L954.7,263.6 L952.4,263.6 L950.0,263.6 L947.6,263.7 L945.1,263.8 L942.5,263.9 L939.8,264.0 L936.8,264.2 L933.5,264.4 L930.1,264.6 L926.6,264.9 L923.0,265.2 L919.4,265.5 L915.8,265.8 L912.2,266.2 L908.6,266.5 L905.2,266.9 L902.0,267.2 L899.0,267.6 L896.1,267.9 L893.3,268.1 L890.7,268.4 L888.0,268.7 L885.5,269.0 L882.9,269.3 L880.4,269.6 L878.0,270.0 L875.5,270.3 L873.0,270.8 L870.4,271.2 L867.9,271.7 L865.2,272.3 L862.6,272.9 L860.0,273.6 L857.5,274.3 L855.0,275.0 L852.6,275.8 L850.2,276.5 L847.9,277.2 L845.6,277.9 L843.4,278.6 L841.2,279.3 L839.1,279.9 L837.0,280.5 L834.8,281.1 L832.7,281.7 L830.7,282.3 L828.6,282.9 L826.6,283.5 L824.6,284.1 L822.6,284.6 L820.5,285.2 L818.5,285.7 L816.4,286.3 L814.2,286.9 L812.0,287.4 L809.8,288.0 L807.5,288.6 L805.2,289.2 L802.9,289.8 L800.7,290.4 L798.4,290.9 L796.2,291.4 L794.1,291.9 L792.0,292.4 L789.9,292.8 L787.9,293.2 L785.9,293.6 L783.9,293.9 L781.9,294.2 L779.9,294.5 L778.0,294.7 L776.0,295.0 L774.0,295.2 L772.1,295.4 L770.1,295.6 L768.2,295.7 L766.2,295.9 L764.3,296.0 L762.4,296.1 L760.4,296.2 L758.5,296.3 L756.6,296.4 L754.8,296.5 L752.9,296.5 L751.2,296.5 L749.5,296.5 L747.8,296.4 L746.2,296.3 L744.7,296.2 L743.3,296.1 L741.8,295.9 L740.3,295.7 L738.8,295.4 L737.4,295.2 L736.1,294.9 L734.9,294.6 L733.7,294.3 L732.7,294.0 L731.8,293.6 L731.0,293.3 L730.4,293.0 L729.8,292.7 L729.3,292.3 L728.8,291.9 L728.2,291.4 L727.7,290.9 L727.2,290.4 L726.8,289.9 L726.5,289.4 L726.2,288.9 L726.0,288.6 L725.9,288.3 L725.9,288.3 L725.9,288.3 L725.9,288.4 L725.8,288.5 L725.8,288.4 L725.8,288.1 L725.9,287.7 L726.0,287.2 L726.3,286.5 L726.6,285.7 L727.0,284.9 L727.5,283.9 L728.1,282.9 L728.7,281.9 L729.3,281.0 L730.0,280.0 L730.8,278.9 L731.8,277.8 L732.9,276.6 L734.1,275.3 L735.3,274.0 L736.6,272.7 L737.9,271.3 L739.3,269.9 L740.7,268.5 L742.0,267.1 L743.3,265.8 L744.6,264.4 L745.9,263.1 L747.2,261.8 L748.6,260.4 L749.9,259.1 L751.3,257.8 L752.7,256.4 L754.1,255.1 L755.5,253.7 L757.0,252.4 L758.4,251.0 L759.8,249.7 L761.3,248.4 L762.7,247.1 L764.2,245.8 L765.8,244.5 L767.3,243.2 L768.9,241.8 L770.4,240.5 L772.0,239.1 L773.5,237.7 L775.0,236.3 L776.5,234.9 L777.9,233.6 L779.3,232.2 L780.8,230.8 L782.3,229.4 L783.8,227.9 L785.3,226.4 L786.7,224.9 L788.1,223.5 L789.5,222.0 L790.8,220.5 L792.0,218.9 L793.2,217.4 L794.1,216.0 L795.0,214.7 L795.8,213.4 L796.6,212.0 L797.3,210.6 L797.9,209.2 L798.4,207.7 L798.8,206.2 L799.2,204.6 L799.4,203.1 L799.5,201.5 L799.5,200.0 L799.4,198.4 L799.2,196.8 L798.9,195.2 L798.5,193.6 L798.0,192.1 L797.4,190.5 L796.7,189.1 L795.9,187.6 L795.0,186.2 L794.0,184.8 L792.9,183.5 L791.6,182.3 L790.3,181.2 L788.8,180.2 L787.3,179.4 L785.8,178.7 L784.3,178.1 L782.8,177.5 L781.3,177.1 L779.8,176.6 L778.3,176.3 L776.8,175.9 L775.3,175.6 L773.8,175.3 L772.2,175.0 L770.6,174.7 L768.9,174.5 L767.2,174.3 L765.5,174.2 L763.8,174.1 L762.2,174.0 L760.6,173.9 L759.0,173.8 L757.5,173.7 L756.0,173.6 L754.7,173.6 L753.3,173.4 L752.1,173.3 L750.9,173.2 L749.7,173.1 L748.5,173.0 L747.4,172.9 L746.2,172.8 L745.1,172.7 L743.9,172.7 L742.8,172.6 L741.6,172.5 L740.3,172.5 L738.9,172.5 L737.5,172.5 L735.9,172.5 L734.4,172.6 L732.8,172.6 L731.2,172.7 L729.7,172.8 L728.3,172.8 L727.0,172.9 L725.9,172.9 L724.9,173.0 L724.1,173.0Z" fill="#e54f5b" stroke="#c22c3c" stroke-width="1.6"/><path d="M733.6,174.2 L735.1,174.2 L736.6,174.3 L738.0,174.3 L739.3,174.4 L740.5,174.5 L741.6,174.6 L742.8,174.7 L743.9,174.8 L745.0,175.0 L746.0,175.1 L747.1,175.2 L748.2,175.4 L749.4,175.5 L750.6,175.7 L751.8,175.9 L753.0,176.1 L754.4,176.2 L755.8,176.4 L757.2,176.6 L758.7,176.8 L760.3,177.0 L761.8,177.2 L763.4,177.4 L764.9,177.6 L766.4,177.9 L767.8,178.2 L769.2,178.5 L770.6,178.8 L771.9,179.2 L773.1,179.6 L774.4,180.0 L775.7,180.5 L776.9,180.9 L778.1,181.4 L779.3,181.9 L780.4,182.5 L781.4,183.1 L782.4,183.7 L783.3,184.4 L784.1,185.1 L784.8,185.9 L785.5,186.8 L786.1,187.7 L786.7,188.6 L787.2,189.7 L787.7,190.7 L788.1,191.7 L788.4,192.8 L788.6,193.9 L788.8,194.9 L788.9,195.9 L789.0,196.9 L788.9,197.9 L788.8,198.9 L788.6,199.8 L788.4,200.7 L788.1,201.7 L787.7,202.6 L787.3,203.6 L786.7,204.5 L786.1,205.5 L785.4,206.6 L784.7,207.6 L783.8,208.8 L782.9,209.9 L781.8,211.2 L780.6,212.4 L779.4,213.7 L778.0,215.1 L776.6,216.4 L775.1,217.8 L773.6,219.1 L772.1,220.5 L770.6,221.9 L769.2,223.2 L767.7,224.6 L766.3,225.9 L764.8,227.2 L763.3,228.6 L761.8,229.9 L760.3,231.2 L758.8,232.6 L757.3,233.9 L755.7,235.3 L754.2,236.6 L752.7,237.9 L751.2,239.3 L749.7,240.6 L748.3,241.9 L746.8,243.2 L745.3,244.5 L743.9,245.9 L742.4,247.2 L741.0,248.5 L739.5,249.8 L738.1,251.1 L736.7,252.4 L735.3,253.8 L734.0,255.1 L732.6,256.4 L731.2,257.7 L729.8,259.1 L728.4,260.4 L727.0,261.7 L725.7,263.1 L724.3,264.4 L723.0,265.8 L721.7,267.1 L720.5,268.4 L719.4,269.7 L718.4,271.0 L717.5,272.2 L716.7,273.4 L715.9,274.7 L715.2,275.9 L714.5,277.0 L713.9,278.2 L713.4,279.4 L713.0,280.5 L712.7,281.6 L712.4,282.8 L712.3,283.9 L712.3,285.0 L712.4,286.0 L712.6,287.1 L712.9,288.2 L713.4,289.3 L714.0,290.4 L714.7,291.5 L715.4,292.6 L716.3,293.6 L717.2,294.6 L718.1,295.6 L719.2,296.5 L720.2,297.3 L721.4,298.0 L722.5,298.7 L723.8,299.3 L725.1,299.9 L726.5,300.4 L728.0,300.9 L729.5,301.3 L731.0,301.7 L732.7,302.0 L734.3,302.3 L736.0,302.6 L737.7,302.8 L739.4,303.0 L741.1,303.2 L742.9,303.4 L744.7,303.5 L746.6,303.5 L748.5,303.5 L750.4,303.5 L752.4,303.5 L754.4,303.4 L756.4,303.4 L758.4,303.3 L760.4,303.2 L762.4,303.0 L764.4,302.9 L766.4,302.8 L768.4,302.6 L770.5,302.4 L772.5,302.2 L774.6,302.0 L776.7,301.7 L778.8,301.4 L780.9,301.1 L783.0,300.8 L785.2,300.4 L787.4,300.0 L789.6,299.6 L791.8,299.1 L794.0,298.6 L796.3,298.1 L798.6,297.5 L800.9,296.9 L803.2,296.3 L805.5,295.6 L807.8,295.0 L810.1,294.4 L812.3,293.8 L814.5,293.2 L816.6,292.6 L818.7,292.1 L820.8,291.5 L822.9,290.9 L824.9,290.4 L826.9,289.8 L829.0,289.2 L831.0,288.6 L833.1,288.0 L835.2,287.4 L837.3,286.8 L839.5,286.2 L841.7,285.6 L843.9,284.9 L846.2,284.2 L848.5,283.5 L850.8,282.8 L853.2,282.0 L855.5,281.3 L857.9,280.6 L860.3,280.0 L862.7,279.3 L865.1,278.7 L867.5,278.2 L869.9,277.7 L872.2,277.3 L874.6,276.9 L877.0,276.6 L879.3,276.2 L881.7,275.9 L884.2,275.6 L886.7,275.3 L889.2,275.1 L891.9,274.8 L894.6,274.5 L897.5,274.2 L900.5,273.9 L903.7,273.6 L907.1,273.3 L910.6,272.9 L914.1,272.6 L917.7,272.3 L921.3,272.0 L924.8,271.7 L928.2,271.5 L931.4,271.3 L934.5,271.1 L937.4,271.0 L940.0,271.0 L942.5,270.9 L944.8,270.9 L947.0,270.9 L949.2,270.9 L951.2,271.0 L953.2,271.1 L955.2,271.2 L957.1,271.4 L959.0,271.7 L961.0,272.1 L963.0,272.5 L965.1,273.0 L967.1,273.6 L969.2,274.2 L971.3,274.9 L973.4,275.7 L975.4,276.5 L977.4,277.3 L979.3,278.3 L981.2,279.2 L983.0,280.3 L984.7,281.3 L986.3,282.4 L987.8,283.6 L989.2,284.8 L990.5,286.1 L991.7,287.4 L992.9,288.8 L994.0,290.3 L995.1,291.7 L996.1,293.2 L997.0,294.8 L998.0,296.3 L998.8,297.9 L999.7,299.5 L1000.5,301.1 L1001.2,302.6 L1001.8,304.0 L1002.4,305.4 L1003.0,306.9 L1003.5,308.4 L1003.9,310.1 L1004.4,311.8 L1004.8,313.7 L1005.3,315.8 L1005.7,318.2 L1006.2,320.8 L1006.7,323.7 L1007.2,326.9 L1007.6,330.3 L1008.1,333.9 L1008.6,337.7 L1009.0,341.6 L1009.4,345.6 L1009.9,349.7 L1010.3,353.7 L1010.6,357.7 L1011.0,361.7 L1011.4,365.5 L1011.7,369.3 L1012.0,373.2 L1012.3,377.0 L1012.5,380.9 L1012.8,384.8 L1013.0,388.6 L1013.2,392.5 L1013.4,396.3 L1013.6,400.2 L1013.8,403.9 L1014.0,407.7 L1014.2,411.4 L1014.4,414.8 L1014.6,417.9 L1014.8,420.8 L1015.0,423.5 L1015.2,426.2 L1015.3,429.0 L1015.5,431.9 L1015.6,435.2 L1015.8,438.8 L1015.9,443.0 L1016.0,447.7 L1016.1,453.2 L1016.2,459.7 L1016.3,467.5 L1016.4,476.1 L1016.4,485.5 L1016.5,495.2 L1016.6,505.0 L1016.6,514.7 L1016.6,524.0 L1016.7,532.6 L1016.7,540.3 L1016.7,546.7 L1016.8,551.6" stroke="#f48a90" stroke-width="5" fill="none" opacity="0.55" filter="url(#b2)"/>
<path d="M1000,466 C1006,458 1040,458 1046,466 L1048,558 C1035,562 1012,561 1000,556Z" fill="#c83644"/>
<path d="M1003,472 C1015,466 1035,466 1044,472 L1046,555 L1003,552Z" fill="#e45a64" opacity="0.7" filter="url(#b2)"/>
<ellipse cx="1021" cy="488" rx="4" ry="9" fill="#d02c3c" transform="rotate(20 1021 488)"/>
<ellipse cx="1019" cy="510" rx="4" ry="9" fill="#d02c3c" transform="rotate(20 1019 510)"/>
<ellipse cx="1028" cy="540" rx="9" ry="5" fill="#d02c3c" transform="rotate(-20 1028 540)"/>
<circle cx="1031" cy="495" r="5.5" fill="#e89030" opacity="0.8"/><circle cx="1031" cy="495" r="4" fill="#304050"/><circle cx="1031" cy="495" r="2.0" fill="#5a8ac0"/>
<circle cx="1010" cy="514" r="5.0" fill="#e89030" opacity="0.8"/><circle cx="1010" cy="514" r="3.5" fill="#304050"/><circle cx="1010" cy="514" r="1.75" fill="#5a8ac0"/>
<circle cx="1030" cy="518" r="6.0" fill="#e89030" opacity="0.8"/><circle cx="1030" cy="518" r="4.5" fill="#304050"/><circle cx="1030" cy="518" r="2.25" fill="#5a8ac0"/>
<circle cx="808" cy="269" r="32" fill="url(#gTum)" filter="url(#tumTex)"/>
<circle cx="900" cy="241" r="37" fill="url(#gTum)" filter="url(#tumTex)"/>
<circle cx="975" cy="262" r="32" fill="url(#gTum)" filter="url(#tumTex)"/>
<circle cx="704" cy="393" r="40" fill="url(#gTum)" filter="url(#tumTex)"/>
<circle cx="768" cy="410" r="39" fill="url(#gTum)" filter="url(#tumTex)"/>
<circle cx="923" cy="436" r="43" fill="url(#gTum)" filter="url(#tumTex)"/>
<circle cx="842" cy="500" r="60" fill="url(#gTum)" filter="url(#tumTex)"/>
<path d="M731,340 C760,370 790,400 826,409 C850,414 865,405 880,398" stroke="#c83040" stroke-width="4.7" fill="none"/><path d="M731,340 C760,370 790,400 826,409 C850,414 865,405 880,398" stroke="#ec5a64" stroke-width="3.5" fill="none"/>
<path d="M770,454 C800,440 840,425 880,412 C910,400 935,380 955,350" stroke="#c83040" stroke-width="4.7" fill="none"/><path d="M770,454 C800,440 840,425 880,412 C910,400 935,380 955,350" stroke="#ec5a64" stroke-width="3.5" fill="none"/>
<path d="M820,298 C850,297 870,298 900,300" stroke="#c83040" stroke-width="4.2" fill="none"/><path d="M820,298 C850,297 870,298 900,300" stroke="#ec5a64" stroke-width="3" fill="none"/>
<path d="M955,300 C945,330 925,355 915,380" stroke="#c83040" stroke-width="4.2" fill="none"/><path d="M955,300 C945,330 925,355 915,380" stroke="#ec5a64" stroke-width="3" fill="none"/>
<path d="M958,300 C975,320 985,345 985,380 C985,400 975,420 965,440" stroke="#c83040" stroke-width="3.7" fill="none"/><path d="M958,300 C975,320 985,345 985,380 C985,400 975,420 965,440" stroke="#ec5a64" stroke-width="2.5" fill="none"/>
<path d="M870,300 C880,330 890,350 880,372" stroke="#c83040" stroke-width="3.7" fill="none"/><path d="M870,300 C880,330 890,350 880,372" stroke="#ec5a64" stroke-width="2.5" fill="none"/>
<ellipse cx="780" cy="250" rx="14" ry="9" fill="#f08a84" opacity="0.7" filter="url(#b3)" transform="rotate(40 780 250)"/>
<ellipse cx="960" cy="268" rx="12" ry="8" fill="#e070a0" opacity="0.5" filter="url(#b3)" transform="rotate(20 960 268)"/>
<clipPath id="pc5"><circle cx="807" cy="272" r="14"/></clipPath><circle cx="807" cy="272" r="19" fill="#f0a040" filter="url(#b3)" opacity="0.9"/><circle cx="807" cy="272" r="14" fill="url(#gCore2)"/><g clip-path="url(#pc5)"><path d="M796.2,262.1 L798.8,264.7 L800.6,266.1 L803.6,269.8 L805.2,271.5 L806.8,272.7 L809.4,276.4 L811.0,279.2 L813.6,280.3 L815.4,284.4" stroke="#3f86e0" stroke-width="3.2" fill="none" opacity="0.5" filter="url(#b2)"/><path d="M796.2,262.1 L798.8,264.7 L800.6,266.1 L803.6,269.8 L805.2,271.5 L806.8,272.7 L809.4,276.4 L811.0,279.2 L813.6,280.3 L815.4,284.4" stroke="#a8d4ff" stroke-width="0.8" fill="none"/><path d="M811.0,279.2 L810.0,281.0 L810.3,282.8" stroke="#8cc0f4" stroke-width="0.6" fill="none"/><path d="M800.6,266.1 L803.9,264.4 L804.6,265.6" stroke="#8cc0f4" stroke-width="0.6" fill="none"/><path d="M800.6,266.1 L798.5,269.1 L799.1,270.8" stroke="#8cc0f4" stroke-width="0.6" fill="none"/><path d="M806.8,272.7 L810.8,274.4 L811.1,273.0" stroke="#8cc0f4" stroke-width="0.6" fill="none"/></g><path d="M805.7,261.3 a1.6,1.6 0 1 1 3.0,0.8" stroke="#e8a040" stroke-width="0.9" fill="none"/><circle cx="807.3" cy="261.0" r="1.0" fill="#3c1a40"/><path d="M807.3,262.0 v1.6" stroke="#7cd4e0" stroke-width="0.7"/><path d="M795.9,267.0 a1.6,1.6 0 1 1 3.0,0.8" stroke="#e8a040" stroke-width="0.9" fill="none"/><circle cx="797.5" cy="266.7" r="1.0" fill="#3c1a40"/><path d="M797.5,267.7 v1.6" stroke="#7cd4e0" stroke-width="0.7"/><path d="M811.8,278.5 a1.6,1.6 0 1 1 3.0,0.8" stroke="#e8a040" stroke-width="0.9" fill="none"/><circle cx="813.4" cy="278.2" r="1.0" fill="#3c1a40"/><path d="M813.4,279.2 v1.6" stroke="#7cd4e0" stroke-width="0.7"/><path d="M808.3,266.7 a1.6,1.6 0 1 1 3.0,0.8" stroke="#e8a040" stroke-width="0.9" fill="none"/><circle cx="809.9" cy="266.4" r="1.0" fill="#3c1a40"/><path d="M809.9,267.4 v1.6" stroke="#7cd4e0" stroke-width="0.7"/><path d="M820.8,273.2 A1.9,1.9 0 0 0 824.1,274.9" stroke="#ec8a2a" stroke-width="0.9" fill="none" stroke-linecap="round"/><circle cx="823.2" cy="273.2" r="0.8" fill="#2a1220"/><path d="M820.0,273.1 l1.0,0.1" stroke="#7cd4e0" stroke-width="0.7"/><path d="M820.8,272.9 A1.4,1.4 0 0 0 823.4,273.8" stroke="#ec8a2a" stroke-width="0.9" fill="none" stroke-linecap="round"/><path d="M820.0,272.8 l1.0,0.1" stroke="#7cd4e0" stroke-width="0.7"/><path d="M820.2,276.3 A1.5,1.5 0 0 1 823.1,276.2" stroke="#f8c040" stroke-width="0.9" fill="none" stroke-linecap="round"/><path d="M819.2,278.5 A1.5,1.5 0 0 0 821.1,280.7" stroke="#f2a53a" stroke-width="0.9" fill="none" stroke-linecap="round"/><path d="M818.3,280.1 A1.9,1.9 0 0 1 821.9,280.7" stroke="#ec8a2a" stroke-width="0.9" fill="none" stroke-linecap="round"/><circle cx="820.1" cy="281.3" r="0.8" fill="#2a1220"/><path d="M817.8,280.7 A1.4,1.4 0 0 1 820.4,281.7" stroke="#f8c040" stroke-width="0.9" fill="none" stroke-linecap="round"/><path d="M815.1,283.2 A1.8,1.8 0 0 1 818.4,284.3" stroke="#f2a53a" stroke-width="0.9" fill="none" stroke-linecap="round"/><circle cx="816.4" cy="283.7" r="0.8" fill="#2a1220"/><path d="M813.2,284.4 A1.7,1.7 0 0 1 816.0,285.9" stroke="#f8c040" stroke-width="0.9" fill="none" stroke-linecap="round"/><circle cx="813.4" cy="286.4" r="0.8" fill="#2a1220"/><path d="M811.2,285.2 A1.9,1.9 0 0 0 810.2,288.7" stroke="#ec8a2a" stroke-width="0.9" fill="none" stroke-linecap="round"/><path d="M809.4,285.6 A1.7,1.7 0 0 0 808.7,288.8" stroke="#f8c040" stroke-width="0.9" fill="none" stroke-linecap="round"/><circle cx="810.0" cy="287.5" r="0.8" fill="#2a1220"/><path d="M809.3,284.8 l0.2,1.0" stroke="#7cd4e0" stroke-width="0.7"/><path d="M807.9,285.8 A1.8,1.8 0 0 0 806.4,288.9" stroke="#ec8a2a" stroke-width="0.9" fill="none" stroke-linecap="round"/><circle cx="807.6" cy="287.8" r="0.8" fill="#2a1220"/><path d="M807.5,285.8 A1.5,1.5 0 0 1 808.4,288.5" stroke="#f2a53a" stroke-width="0.9" fill="none" stroke-linecap="round"/><path d="M805.7,285.8 A1.5,1.5 0 0 1 806.9,288.3" stroke="#ec8a2a" stroke-width="0.9" fill="none" stroke-linecap="round"/><path d="M801.5,284.7 A1.9,1.9 0 0 1 801.3,288.3" stroke="#f2a53a" stroke-width="0.9" fill="none" stroke-linecap="round"/><path d="M801.8,284.8 A1.4,1.4 0 0 1 802.4,287.5" stroke="#f8c040" stroke-width="0.9" fill="none" stroke-linecap="round"/><path d="M798.8,283.2 A1.8,1.8 0 0 1 797.9,286.5" stroke="#f8c040" stroke-width="0.9" fill="none" stroke-linecap="round"/><path d="M799.3,282.5 l-0.6,0.8" stroke="#7cd4e0" stroke-width="0.7"/><path d="M798.1,282.6 A1.8,1.8 0 0 0 794.7,283.5" stroke="#f8c040" stroke-width="0.9" fill="none" stroke-linecap="round"/><path d="M798.6,282.0 l-0.7,0.8" stroke="#7cd4e0" stroke-width="0.7"/><path d="M795.9,280.2 A1.6,1.6 0 0 0 792.8,280.1" stroke="#ec8a2a" stroke-width="0.9" fill="none" stroke-linecap="round"/><path d="M795.4,279.5 A1.6,1.6 0 0 0 792.3,279.2" stroke="#f8c040" stroke-width="0.9" fill="none" stroke-linecap="round"/><path d="M793.7,276.0 A1.8,1.8 0 0 1 791.3,278.6" stroke="#f8c040" stroke-width="0.9" fill="none" stroke-linecap="round"/><circle cx="791.4" cy="276.3" r="0.8" fill="#2a1220"/><path d="M793.5,275.1 A1.4,1.4 0 0 0 791.0,274.0" stroke="#f2a53a" stroke-width="0.9" fill="none" stroke-linecap="round"/><circle cx="792.1" cy="275.9" r="0.8" fill="#2a1220"/><path d="M793.2,272.1 A1.5,1.5 0 0 0 790.5,270.8" stroke="#f8c040" stroke-width="0.9" fill="none" stroke-linecap="round"/><circle cx="791.9" cy="271.4" r="0.8" fill="#2a1220"/><path d="M793.2,272.3 A1.8,1.8 0 0 1 790.1,273.9" stroke="#f2a53a" stroke-width="0.9" fill="none" stroke-linecap="round"/><path d="M793.7,268.3 A1.9,1.9 0 0 0 790.7,266.1" stroke="#f8c040" stroke-width="0.9" fill="none" stroke-linecap="round"/><circle cx="792.2" cy="267.9" r="0.8" fill="#2a1220"/><path d="M794.5,266.0 A1.6,1.6 0 0 1 791.5,265.9" stroke="#f8c040" stroke-width="0.9" fill="none" stroke-linecap="round"/><path d="M795.3,266.4 l-0.9,-0.5" stroke="#7cd4e0" stroke-width="0.7"/><path d="M794.5,266.0 A1.6,1.6 0 0 0 792.8,263.5" stroke="#ec8a2a" stroke-width="0.9" fill="none" stroke-linecap="round"/><circle cx="793.9" cy="264.8" r="0.8" fill="#2a1220"/><path d="M795.6,264.2 A1.7,1.7 0 0 0 793.8,261.4" stroke="#f2a53a" stroke-width="0.9" fill="none" stroke-linecap="round"/><circle cx="793.4" cy="263.2" r="0.8" fill="#2a1220"/><path d="M796.3,264.7 l-0.9,-0.6" stroke="#7cd4e0" stroke-width="0.7"/><path d="M798.1,261.4 A1.7,1.7 0 0 1 794.9,260.7" stroke="#f2a53a" stroke-width="0.9" fill="none" stroke-linecap="round"/><circle cx="797.1" cy="260.5" r="0.8" fill="#2a1220"/><path d="M798.9,260.8 A1.8,1.8 0 0 0 798.3,257.4" stroke="#ec8a2a" stroke-width="0.9" fill="none" stroke-linecap="round"/><circle cx="797.7" cy="259.8" r="0.8" fill="#2a1220"/><path d="M799.4,261.5 l-0.6,-0.8" stroke="#7cd4e0" stroke-width="0.7"/><path d="M801.8,259.2 A1.7,1.7 0 0 1 799.4,256.8" stroke="#ec8a2a" stroke-width="0.9" fill="none" stroke-linecap="round"/><circle cx="801.6" cy="258.2" r="0.8" fill="#2a1220"/><path d="M802.4,258.9 A1.4,1.4 0 0 0 802.4,256.2" stroke="#ec8a2a" stroke-width="0.9" fill="none" stroke-linecap="round"/><circle cx="801.0" cy="256.9" r="0.8" fill="#2a1220"/><path d="M803.1,258.7 A1.8,1.8 0 0 1 801.1,255.8" stroke="#f8c040" stroke-width="0.9" fill="none" stroke-linecap="round"/><circle cx="802.3" cy="257.9" r="0.8" fill="#2a1220"/><path d="M806.6,258.2 A1.9,1.9 0 0 1 804.8,255.1" stroke="#ec8a2a" stroke-width="0.9" fill="none" stroke-linecap="round"/><path d="M807.2,258.2 A1.9,1.9 0 0 1 806.2,254.7" stroke="#ec8a2a" stroke-width="0.9" fill="none" stroke-linecap="round"/><path d="M809.6,258.4 A1.7,1.7 0 0 0 812.0,256.1" stroke="#ec8a2a" stroke-width="0.9" fill="none" stroke-linecap="round"/><circle cx="810.2" cy="256.6" r="0.8" fill="#2a1220"/><path d="M809.4,259.2 l0.2,-1.0" stroke="#7cd4e0" stroke-width="0.7"/><path d="M811.5,258.9 A1.7,1.7 0 0 0 813.7,256.4" stroke="#f2a53a" stroke-width="0.9" fill="none" stroke-linecap="round"/><path d="M811.2,259.7 l0.3,-1.0" stroke="#7cd4e0" stroke-width="0.7"/><path d="M813.2,259.6 A1.6,1.6 0 0 1 813.4,256.6" stroke="#f2a53a" stroke-width="0.9" fill="none" stroke-linecap="round"/><circle cx="814.3" cy="258.3" r="0.8" fill="#2a1220"/><path d="M815.1,260.8 A1.6,1.6 0 0 1 815.9,257.8" stroke="#f8c040" stroke-width="0.9" fill="none" stroke-linecap="round"/><circle cx="816.6" cy="259.5" r="0.8" fill="#2a1220"/><path d="M816.5,261.9 A1.4,1.4 0 0 1 817.6,259.4" stroke="#f8c040" stroke-width="0.9" fill="none" stroke-linecap="round"/><path d="M818.8,264.7 A1.7,1.7 0 0 1 820.1,261.8" stroke="#f2a53a" stroke-width="0.9" fill="none" stroke-linecap="round"/><path d="M818.9,264.9 A1.5,1.5 0 0 0 821.8,265.0" stroke="#ec8a2a" stroke-width="0.9" fill="none" stroke-linecap="round"/><path d="M820.5,269.1 A1.9,1.9 0 0 0 824.1,269.9" stroke="#ec8a2a" stroke-width="0.9" fill="none" stroke-linecap="round"/><path d="M819.7,269.3 l1.0,-0.2" stroke="#7cd4e0" stroke-width="0.7"/><path d="M820.6,269.6 A1.8,1.8 0 0 0 823.9,270.8" stroke="#ec8a2a" stroke-width="0.9" fill="none" stroke-linecap="round"/><path d="M819.8,269.7 l1.0,-0.2" stroke="#7cd4e0" stroke-width="0.7"/>
<clipPath id="pc6"><circle cx="982" cy="280" r="11"/></clipPath><circle cx="982" cy="280" r="15.5" fill="#f0a040" filter="url(#b3)" opacity="0.9"/><circle cx="982" cy="280" r="11" fill="url(#gCore2)"/><g clip-path="url(#pc6)"><path d="M975.3,270.6 L976.2,271.8 L979.3,274.1 L979.3,277.0 L981.3,279.4 L982.7,281.6 L984.4,282.9 L987.0,285.1 L988.6,287.2 L988.6,289.5" stroke="#3f86e0" stroke-width="3.2" fill="none" opacity="0.5" filter="url(#b2)"/><path d="M975.3,270.6 L976.2,271.8 L979.3,274.1 L979.3,277.0 L981.3,279.4 L982.7,281.6 L984.4,282.9 L987.0,285.1 L988.6,287.2 L988.6,289.5" stroke="#a8d4ff" stroke-width="0.8" fill="none"/><path d="M984.4,282.9 L987.0,283.6 L988.9,280.7" stroke="#8cc0f4" stroke-width="0.6" fill="none"/><path d="M984.4,282.9 L986.0,283.9 L984.0,286.4" stroke="#8cc0f4" stroke-width="0.6" fill="none"/><path d="M987.0,285.1 L985.6,285.6 L986.7,289.7" stroke="#8cc0f4" stroke-width="0.6" fill="none"/><path d="M984.4,282.9 L984.1,284.6 L983.6,287.0" stroke="#8cc0f4" stroke-width="0.6" fill="none"/></g><path d="M975.4,272.3 a1.6,1.6 0 1 1 3.0,0.8" stroke="#e8a040" stroke-width="0.9" fill="none"/><circle cx="977.0" cy="272.0" r="1.0" fill="#3c1a40"/><path d="M977.0,273.0 v1.6" stroke="#7cd4e0" stroke-width="0.7"/><path d="M978.2,286.2 a1.6,1.6 0 1 1 3.0,0.8" stroke="#e8a040" stroke-width="0.9" fill="none"/><circle cx="979.8" cy="285.9" r="1.0" fill="#3c1a40"/><path d="M979.8,286.9 v1.6" stroke="#7cd4e0" stroke-width="0.7"/><path d="M975.4,277.4 a1.6,1.6 0 1 1 3.0,0.8" stroke="#e8a040" stroke-width="0.9" fill="none"/><circle cx="977.0" cy="277.1" r="1.0" fill="#3c1a40"/><path d="M977.0,278.1 v1.6" stroke="#7cd4e0" stroke-width="0.7"/><path d="M992.9,280.2 A1.6,1.6 0 0 0 995.4,282.0" stroke="#f8c040" stroke-width="0.9" fill="none" stroke-linecap="round"/><circle cx="994.9" cy="280.0" r="0.8" fill="#2a1220"/><path d="M992.7,281.8 A1.4,1.4 0 0 1 995.2,281.0" stroke="#f2a53a" stroke-width="0.9" fill="none" stroke-linecap="round"/><circle cx="993.8" cy="281.3" r="0.8" fill="#2a1220"/><path d="M992.4,283.3 A1.4,1.4 0 0 0 994.1,285.2" stroke="#f2a53a" stroke-width="0.9" fill="none" stroke-linecap="round"/><circle cx="994.0" cy="284.0" r="0.8" fill="#2a1220"/><path d="M991.5,283.0 l0.8,0.3" stroke="#7cd4e0" stroke-width="0.7"/><path d="M991.0,286.1 A1.2,1.2 0 0 1 993.3,286.7" stroke="#f2a53a" stroke-width="0.9" fill="none" stroke-linecap="round"/><path d="M989.5,287.9 A1.2,1.2 0 0 0 990.0,290.2" stroke="#f8c040" stroke-width="0.9" fill="none" stroke-linecap="round"/><path d="M988.6,288.6 A1.3,1.3 0 0 1 991.0,289.6" stroke="#f2a53a" stroke-width="0.9" fill="none" stroke-linecap="round"/><path d="M986.0,290.1 A1.3,1.3 0 0 1 987.6,292.1" stroke="#f2a53a" stroke-width="0.9" fill="none" stroke-linecap="round"/><circle cx="986.1" cy="291.1" r="0.8" fill="#2a1220"/><path d="M985.5,290.3 A1.3,1.3 0 0 1 986.9,292.3" stroke="#ec8a2a" stroke-width="0.9" fill="none" stroke-linecap="round"/><circle cx="986.1" cy="291.2" r="0.8" fill="#2a1220"/><path d="M983.7,290.7 A1.4,1.4 0 0 0 982.5,293.2" stroke="#ec8a2a" stroke-width="0.9" fill="none" stroke-linecap="round"/><circle cx="983.5" cy="292.0" r="0.8" fill="#2a1220"/><path d="M980.3,290.7 A1.6,1.6 0 0 1 980.9,293.7" stroke="#ec8a2a" stroke-width="0.9" fill="none" stroke-linecap="round"/><circle cx="980.1" cy="291.7" r="0.8" fill="#2a1220"/><path d="M978.5,290.3 A1.3,1.3 0 0 0 976.7,292.0" stroke="#f2a53a" stroke-width="0.9" fill="none" stroke-linecap="round"/><circle cx="977.3" cy="291.9" r="0.8" fill="#2a1220"/><path d="M977.8,290.0 A1.4,1.4 0 0 0 976.1,292.1" stroke="#ec8a2a" stroke-width="0.9" fill="none" stroke-linecap="round"/><circle cx="976.8" cy="291.6" r="0.8" fill="#2a1220"/><path d="M978.1,289.2 l-0.3,0.8" stroke="#7cd4e0" stroke-width="0.7"/><path d="M975.0,288.3 A1.6,1.6 0 0 1 974.5,291.4" stroke="#ec8a2a" stroke-width="0.9" fill="none" stroke-linecap="round"/><circle cx="974.5" cy="289.7" r="0.8" fill="#2a1220"/><path d="M973.5,286.7 A1.4,1.4 0 0 1 972.5,289.3" stroke="#f2a53a" stroke-width="0.9" fill="none" stroke-linecap="round"/><circle cx="971.7" cy="287.3" r="0.8" fill="#2a1220"/><path d="M972.9,286.0 A1.3,1.3 0 0 0 970.5,286.6" stroke="#f2a53a" stroke-width="0.9" fill="none" stroke-linecap="round"/><circle cx="971.5" cy="286.9" r="0.8" fill="#2a1220"/><path d="M972.2,284.7 A1.3,1.3 0 0 1 970.6,286.7" stroke="#f2a53a" stroke-width="0.9" fill="none" stroke-linecap="round"/><circle cx="971.0" cy="285.7" r="0.8" fill="#2a1220"/><path d="M973.0,284.3 l-0.8,0.4" stroke="#7cd4e0" stroke-width="0.7"/><path d="M971.5,282.9 A1.2,1.2 0 0 0 969.3,282.6" stroke="#ec8a2a" stroke-width="0.9" fill="none" stroke-linecap="round"/><path d="M972.4,282.7 l-0.8,0.2" stroke="#7cd4e0" stroke-width="0.7"/><path d="M971.1,279.9 A1.5,1.5 0 0 1 968.5,281.2" stroke="#f2a53a" stroke-width="0.9" fill="none" stroke-linecap="round"/><circle cx="969.8" cy="280.5" r="0.8" fill="#2a1220"/><path d="M971.2,278.9 A1.3,1.3 0 0 1 969.1,280.3" stroke="#f8c040" stroke-width="0.9" fill="none" stroke-linecap="round"/><path d="M971.8,276.3 A1.5,1.5 0 0 0 969.7,274.3" stroke="#ec8a2a" stroke-width="0.9" fill="none" stroke-linecap="round"/><circle cx="970.8" cy="275.9" r="0.8" fill="#2a1220"/><path d="M973.0,273.9 A1.2,1.2 0 0 1 970.7,273.4" stroke="#f8c040" stroke-width="0.9" fill="none" stroke-linecap="round"/><circle cx="972.2" cy="273.7" r="0.8" fill="#2a1220"/><path d="M973.7,274.4 l-0.7,-0.5" stroke="#7cd4e0" stroke-width="0.7"/><path d="M973.9,272.8 A1.2,1.2 0 0 0 973.5,270.4" stroke="#f8c040" stroke-width="0.9" fill="none" stroke-linecap="round"/><circle cx="973.3" cy="271.6" r="0.8" fill="#2a1220"/><path d="M975.5,271.3 A1.4,1.4 0 0 0 975.6,268.6" stroke="#f8c040" stroke-width="0.9" fill="none" stroke-linecap="round"/><circle cx="974.5" cy="270.8" r="0.8" fill="#2a1220"/><path d="M976.0,272.0 l-0.5,-0.7" stroke="#7cd4e0" stroke-width="0.7"/><path d="M976.8,270.5 A1.3,1.3 0 0 1 974.8,269.0" stroke="#f2a53a" stroke-width="0.9" fill="none" stroke-linecap="round"/><path d="M977.2,271.2 l-0.4,-0.8" stroke="#7cd4e0" stroke-width="0.7"/><path d="M979.0,269.6 A1.2,1.2 0 0 1 977.4,267.9" stroke="#f8c040" stroke-width="0.9" fill="none" stroke-linecap="round"/><circle cx="979.0" cy="268.6" r="0.8" fill="#2a1220"/><path d="M980.9,269.2 A1.4,1.4 0 0 1 979.5,266.9" stroke="#ec8a2a" stroke-width="0.9" fill="none" stroke-linecap="round"/><circle cx="981.0" cy="268.2" r="0.8" fill="#2a1220"/><path d="M982.2,269.1 A1.2,1.2 0 0 0 983.5,267.2" stroke="#ec8a2a" stroke-width="0.9" fill="none" stroke-linecap="round"/><circle cx="982.4" cy="267.6" r="0.8" fill="#2a1220"/><path d="M982.2,270.0 l0.0,-0.9" stroke="#7cd4e0" stroke-width="0.7"/><path d="M985.8,269.8 A1.4,1.4 0 0 0 987.9,268.0" stroke="#f2a53a" stroke-width="0.9" fill="none" stroke-linecap="round"/><path d="M986.6,270.2 A1.5,1.5 0 0 1 986.2,267.4" stroke="#f8c040" stroke-width="0.9" fill="none" stroke-linecap="round"/><circle cx="987.1" cy="268.4" r="0.8" fill="#2a1220"/><path d="M989.0,271.7 A1.3,1.3 0 0 1 989.4,269.3" stroke="#f8c040" stroke-width="0.9" fill="none" stroke-linecap="round"/><circle cx="989.7" cy="270.3" r="0.8" fill="#2a1220"/><path d="M989.8,272.4 A1.2,1.2 0 0 0 992.2,272.3" stroke="#ec8a2a" stroke-width="0.9" fill="none" stroke-linecap="round"/><circle cx="990.3" cy="271.2" r="0.8" fill="#2a1220"/><path d="M990.7,273.5 A1.2,1.2 0 0 0 993.0,273.2" stroke="#ec8a2a" stroke-width="0.9" fill="none" stroke-linecap="round"/><circle cx="992.1" cy="272.2" r="0.8" fill="#2a1220"/><path d="M990.0,274.0 l0.7,-0.5" stroke="#7cd4e0" stroke-width="0.7"/><path d="M992.1,276.1 A1.2,1.2 0 0 0 994.5,275.8" stroke="#f8c040" stroke-width="0.9" fill="none" stroke-linecap="round"/><circle cx="993.9" cy="275.4" r="0.8" fill="#2a1220"/><path d="M991.3,276.4 l0.8,-0.3" stroke="#7cd4e0" stroke-width="0.7"/><path d="M992.5,277.2 A1.2,1.2 0 0 0 994.9,277.3" stroke="#ec8a2a" stroke-width="0.9" fill="none" stroke-linecap="round"/><circle cx="993.7" cy="276.4" r="0.8" fill="#2a1220"/>
<clipPath id="pc7"><circle cx="895" cy="435" r="10"/></clipPath><circle cx="895" cy="435" r="14.5" fill="#f0a040" filter="url(#b3)" opacity="0.9"/><circle cx="895" cy="435" r="10" fill="url(#gCore2)"/><g clip-path="url(#pc7)"><path d="M888.8,426.5 L891.0,429.0 L891.0,430.3 L893.0,432.1 L894.0,433.4 L895.9,435.3 L897.4,436.8 L898.2,439.7 L900.2,441.2 L902.1,442.8" stroke="#3f86e0" stroke-width="3.2" fill="none" opacity="0.5" filter="url(#b2)"/><path d="M888.8,426.5 L891.0,429.0 L891.0,430.3 L893.0,432.1 L894.0,433.4 L895.9,435.3 L897.4,436.8 L898.2,439.7 L900.2,441.2 L902.1,442.8" stroke="#a8d4ff" stroke-width="0.8" fill="none"/><path d="M891.0,430.3 L891.8,434.3 L891.6,434.4" stroke="#8cc0f4" stroke-width="0.6" fill="none"/><path d="M894.0,433.4 L892.1,433.5 L891.7,436.9" stroke="#8cc0f4" stroke-width="0.6" fill="none"/><path d="M895.9,435.3 L894.1,438.5 L894.9,439.3" stroke="#8cc0f4" stroke-width="0.6" fill="none"/><path d="M897.4,436.8 L897.5,435.7 L901.0,435.2" stroke="#8cc0f4" stroke-width="0.6" fill="none"/></g><path d="M885.5,431.7 a1.6,1.6 0 1 1 3.0,0.8" stroke="#e8a040" stroke-width="0.9" fill="none"/><circle cx="887.1" cy="431.4" r="1.0" fill="#3c1a40"/><path d="M887.1,432.4 v1.6" stroke="#7cd4e0" stroke-width="0.7"/><path d="M892.1,442.2 a1.6,1.6 0 1 1 3.0,0.8" stroke="#e8a040" stroke-width="0.9" fill="none"/><circle cx="893.7" cy="441.9" r="1.0" fill="#3c1a40"/><path d="M893.7,442.9 v1.6" stroke="#7cd4e0" stroke-width="0.7"/><path d="M900.0,440.7 a1.6,1.6 0 1 1 3.0,0.8" stroke="#e8a040" stroke-width="0.9" fill="none"/><circle cx="901.6" cy="440.4" r="1.0" fill="#3c1a40"/><path d="M901.6,441.4 v1.6" stroke="#7cd4e0" stroke-width="0.7"/><path d="M904.9,435.1 A1.3,1.3 0 0 0 907.0,436.3" stroke="#f2a53a" stroke-width="0.9" fill="none" stroke-linecap="round"/><path d="M904.0,435.1 l0.9,0.0" stroke="#7cd4e0" stroke-width="0.7"/><path d="M904.5,437.6 A1.4,1.4 0 0 0 906.7,439.2" stroke="#ec8a2a" stroke-width="0.9" fill="none" stroke-linecap="round"/><circle cx="906.5" cy="437.6" r="0.8" fill="#2a1220"/><path d="M904.4,438.1 A1.2,1.2 0 0 0 906.1,439.7" stroke="#f2a53a" stroke-width="0.9" fill="none" stroke-linecap="round"/><path d="M902.7,441.1 A1.6,1.6 0 0 1 905.8,441.7" stroke="#ec8a2a" stroke-width="0.9" fill="none" stroke-linecap="round"/><circle cx="903.1" cy="441.9" r="0.8" fill="#2a1220"/><path d="M902.4,441.5 A1.3,1.3 0 0 0 903.4,443.7" stroke="#f8c040" stroke-width="0.9" fill="none" stroke-linecap="round"/><path d="M901.8,440.9 l0.7,0.6" stroke="#7cd4e0" stroke-width="0.7"/><path d="M900.9,442.9 A1.4,1.4 0 0 1 903.4,443.9" stroke="#f2a53a" stroke-width="0.9" fill="none" stroke-linecap="round"/><circle cx="901.2" cy="444.3" r="0.8" fill="#2a1220"/><path d="M898.7,444.1 A1.6,1.6 0 0 0 898.0,447.1" stroke="#ec8a2a" stroke-width="0.9" fill="none" stroke-linecap="round"/><path d="M898.4,443.3 l0.3,0.8" stroke="#7cd4e0" stroke-width="0.7"/><path d="M895.6,444.9 A1.4,1.4 0 0 1 897.0,447.1" stroke="#f8c040" stroke-width="0.9" fill="none" stroke-linecap="round"/><path d="M894.4,444.9 A1.5,1.5 0 0 0 893.4,447.5" stroke="#f8c040" stroke-width="0.9" fill="none" stroke-linecap="round"/><path d="M892.7,444.6 A1.2,1.2 0 0 1 893.6,446.7" stroke="#ec8a2a" stroke-width="0.9" fill="none" stroke-linecap="round"/><path d="M892.9,443.7 l-0.2,0.9" stroke="#7cd4e0" stroke-width="0.7"/><path d="M890.0,443.5 A1.6,1.6 0 0 0 887.1,444.8" stroke="#f8c040" stroke-width="0.9" fill="none" stroke-linecap="round"/><circle cx="889.0" cy="444.4" r="0.8" fill="#2a1220"/><path d="M890.4,442.7 l-0.4,0.8" stroke="#7cd4e0" stroke-width="0.7"/><path d="M888.4,442.3 A1.2,1.2 0 0 1 888.1,444.6" stroke="#ec8a2a" stroke-width="0.9" fill="none" stroke-linecap="round"/><circle cx="888.0" cy="443.7" r="0.8" fill="#2a1220"/><path d="M887.5,441.5 A1.3,1.3 0 0 1 886.6,443.8" stroke="#f2a53a" stroke-width="0.9" fill="none" stroke-linecap="round"/><circle cx="886.6" cy="441.6" r="0.8" fill="#2a1220"/><path d="M886.9,440.6 A1.3,1.3 0 0 0 884.4,440.8" stroke="#f8c040" stroke-width="0.9" fill="none" stroke-linecap="round"/><circle cx="885.6" cy="441.9" r="0.8" fill="#2a1220"/><path d="M885.8,438.6 A1.5,1.5 0 0 1 883.8,440.7" stroke="#f8c040" stroke-width="0.9" fill="none" stroke-linecap="round"/><path d="M885.2,435.9 A1.6,1.6 0 0 1 882.5,437.4" stroke="#f2a53a" stroke-width="0.9" fill="none" stroke-linecap="round"/><circle cx="884.3" cy="436.1" r="0.8" fill="#2a1220"/><path d="M886.0,435.8 l-0.9,0.1" stroke="#7cd4e0" stroke-width="0.7"/><path d="M885.2,433.9 A1.2,1.2 0 0 0 883.1,433.0" stroke="#f2a53a" stroke-width="0.9" fill="none" stroke-linecap="round"/><circle cx="883.2" cy="433.5" r="0.8" fill="#2a1220"/><path d="M886.1,434.0 l-0.9,-0.1" stroke="#7cd4e0" stroke-width="0.7"/><path d="M885.8,431.5 A1.4,1.4 0 0 0 883.7,429.7" stroke="#ec8a2a" stroke-width="0.9" fill="none" stroke-linecap="round"/><path d="M886.6,431.8 l-0.8,-0.3" stroke="#7cd4e0" stroke-width="0.7"/><path d="M886.6,429.8 A1.3,1.3 0 0 0 885.4,427.5" stroke="#f2a53a" stroke-width="0.9" fill="none" stroke-linecap="round"/><path d="M887.6,428.4 A1.6,1.6 0 0 1 884.6,428.3" stroke="#f2a53a" stroke-width="0.9" fill="none" stroke-linecap="round"/><path d="M888.3,429.0 l-0.7,-0.6" stroke="#7cd4e0" stroke-width="0.7"/><path d="M889.2,427.0 A1.5,1.5 0 0 0 888.8,424.1" stroke="#ec8a2a" stroke-width="0.9" fill="none" stroke-linecap="round"/><path d="M889.8,427.7 l-0.5,-0.7" stroke="#7cd4e0" stroke-width="0.7"/><path d="M889.9,426.6 A1.2,1.2 0 0 1 887.9,425.2" stroke="#f2a53a" stroke-width="0.9" fill="none" stroke-linecap="round"/><circle cx="889.9" cy="425.4" r="0.8" fill="#2a1220"/><path d="M893.0,425.3 A1.6,1.6 0 0 1 891.1,423.0" stroke="#f8c040" stroke-width="0.9" fill="none" stroke-linecap="round"/><path d="M893.9,425.2 A1.5,1.5 0 0 0 894.9,422.5" stroke="#ec8a2a" stroke-width="0.9" fill="none" stroke-linecap="round"/><circle cx="894.2" cy="423.9" r="0.8" fill="#2a1220"/><path d="M895.6,425.1 A1.3,1.3 0 0 0 896.7,423.0" stroke="#ec8a2a" stroke-width="0.9" fill="none" stroke-linecap="round"/><circle cx="895.5" cy="424.1" r="0.8" fill="#2a1220"/><path d="M895.5,426.0 l0.1,-0.9" stroke="#7cd4e0" stroke-width="0.7"/><path d="M898.1,425.6 A1.2,1.2 0 0 0 899.8,423.9" stroke="#f8c040" stroke-width="0.9" fill="none" stroke-linecap="round"/><circle cx="898.1" cy="423.6" r="0.8" fill="#2a1220"/><path d="M897.8,426.5 l0.3,-0.8" stroke="#7cd4e0" stroke-width="0.7"/><path d="M900.7,427.0 A1.4,1.4 0 0 0 903.4,426.1" stroke="#f2a53a" stroke-width="0.9" fill="none" stroke-linecap="round"/><circle cx="901.6" cy="425.7" r="0.8" fill="#2a1220"/><path d="M902.4,428.4 A1.4,1.4 0 0 1 903.1,425.9" stroke="#f2a53a" stroke-width="0.9" fill="none" stroke-linecap="round"/><circle cx="903.1" cy="428.1" r="0.8" fill="#2a1220"/><path d="M901.7,429.0 l0.7,-0.6" stroke="#7cd4e0" stroke-width="0.7"/><path d="M903.4,429.7 A1.6,1.6 0 0 0 906.4,429.4" stroke="#ec8a2a" stroke-width="0.9" fill="none" stroke-linecap="round"/><path d="M904.3,431.8 A1.6,1.6 0 0 1 906.8,429.9" stroke="#ec8a2a" stroke-width="0.9" fill="none" stroke-linecap="round"/><path d="M904.8,433.5 A1.5,1.5 0 0 1 907.1,431.9" stroke="#ec8a2a" stroke-width="0.9" fill="none" stroke-linecap="round"/><path d="M903.9,433.6 l0.9,-0.1" stroke="#7cd4e0" stroke-width="0.7"/>
<clipPath id="pc8"><circle cx="845" cy="448" r="9.5"/></clipPath><circle cx="845" cy="448" r="13.5" fill="#f0a040" filter="url(#b3)" opacity="0.9"/><circle cx="845" cy="448" r="9.5" fill="url(#gCore2)"/><g clip-path="url(#pc8)"><path d="M838.7,440.3 L840.6,441.5 L842.3,443.2 L843.2,444.8 L844.7,446.6 L846.1,449.2 L847.6,450.4 L849.1,453.0 L849.4,454.0 L852.1,456.0" stroke="#3f86e0" stroke-width="3.2" fill="none" opacity="0.5" filter="url(#b2)"/><path d="M838.7,440.3 L840.6,441.5 L842.3,443.2 L843.2,444.8 L844.7,446.6 L846.1,449.2 L847.6,450.4 L849.1,453.0 L849.4,454.0 L852.1,456.0" stroke="#a8d4ff" stroke-width="0.8" fill="none"/><path d="M846.1,449.2 L847.1,449.4 L850.1,448.7" stroke="#8cc0f4" stroke-width="0.6" fill="none"/><path d="M849.1,453.0 L847.1,453.8 L848.8,456.9" stroke="#8cc0f4" stroke-width="0.6" fill="none"/><path d="M844.7,446.6 L846.6,445.3 L847.7,446.8" stroke="#8cc0f4" stroke-width="0.6" fill="none"/><path d="M846.1,449.2 L844.3,451.4 L845.8,453.7" stroke="#8cc0f4" stroke-width="0.6" fill="none"/></g><path d="M845.5,451.4 a1.6,1.6 0 1 1 3.0,0.8" stroke="#e8a040" stroke-width="0.9" fill="none"/><circle cx="847.1" cy="451.1" r="1.0" fill="#3c1a40"/><path d="M847.1,452.1 v1.6" stroke="#7cd4e0" stroke-width="0.7"/><path d="M836.4,449.2 a1.6,1.6 0 1 1 3.0,0.8" stroke="#e8a040" stroke-width="0.9" fill="none"/><circle cx="838.0" cy="448.9" r="1.0" fill="#3c1a40"/><path d="M838.0,449.9 v1.6" stroke="#7cd4e0" stroke-width="0.7"/><path d="M847.0,447.7 a1.6,1.6 0 1 1 3.0,0.8" stroke="#e8a040" stroke-width="0.9" fill="none"/><circle cx="848.6" cy="447.4" r="1.0" fill="#3c1a40"/><path d="M848.6,448.4 v1.6" stroke="#7cd4e0" stroke-width="0.7"/><path d="M854.4,448.0 A1.0,1.0 0 0 1 856.1,447.1" stroke="#ec8a2a" stroke-width="0.9" fill="none" stroke-linecap="round"/><circle cx="855.3" cy="448.1" r="0.8" fill="#2a1220"/><path d="M853.5,448.0 l0.7,0.0" stroke="#7cd4e0" stroke-width="0.7"/><path d="M854.3,449.5 A1.1,1.1 0 0 0 856.0,450.7" stroke="#f8c040" stroke-width="0.9" fill="none" stroke-linecap="round"/><circle cx="855.0" cy="449.7" r="0.8" fill="#2a1220"/><path d="M853.2,452.6 A0.9,0.9 0 0 1 855.0,452.3" stroke="#f8c040" stroke-width="0.9" fill="none" stroke-linecap="round"/><path d="M852.1,454.1 A1.3,1.3 0 0 1 854.4,455.1" stroke="#ec8a2a" stroke-width="0.9" fill="none" stroke-linecap="round"/><circle cx="852.9" cy="454.7" r="0.8" fill="#2a1220"/><path d="M850.6,455.6 A1.1,1.1 0 0 1 852.3,456.7" stroke="#f2a53a" stroke-width="0.9" fill="none" stroke-linecap="round"/><circle cx="851.1" cy="457.0" r="0.8" fill="#2a1220"/><path d="M850.2,455.8 A0.9,0.9 0 0 0 850.0,457.6" stroke="#ec8a2a" stroke-width="0.9" fill="none" stroke-linecap="round"/><circle cx="850.4" cy="457.1" r="0.8" fill="#2a1220"/><path d="M849.7,455.1 l0.4,0.6" stroke="#7cd4e0" stroke-width="0.7"/><path d="M847.7,457.0 A1.2,1.2 0 0 0 847.5,459.3" stroke="#f8c040" stroke-width="0.9" fill="none" stroke-linecap="round"/><path d="M845.0,457.4 A1.2,1.2 0 0 1 846.3,459.4" stroke="#ec8a2a" stroke-width="0.9" fill="none" stroke-linecap="round"/><path d="M842.7,457.1 A1.0,1.0 0 0 1 842.8,458.9" stroke="#f2a53a" stroke-width="0.9" fill="none" stroke-linecap="round"/><circle cx="842.2" cy="458.6" r="0.8" fill="#2a1220"/><path d="M842.3,457.0 A1.0,1.0 0 0 0 840.9,458.2" stroke="#f2a53a" stroke-width="0.9" fill="none" stroke-linecap="round"/><circle cx="841.6" cy="458.2" r="0.8" fill="#2a1220"/><path d="M839.7,455.8 A1.2,1.2 0 0 0 837.8,457.0" stroke="#f8c040" stroke-width="0.9" fill="none" stroke-linecap="round"/><circle cx="838.7" cy="456.3" r="0.8" fill="#2a1220"/><path d="M837.9,454.1 A1.0,1.0 0 0 1 837.0,455.9" stroke="#f2a53a" stroke-width="0.9" fill="none" stroke-linecap="round"/><circle cx="837.2" cy="455.0" r="0.8" fill="#2a1220"/><path d="M836.6,452.3 A1.0,1.0 0 0 1 835.3,453.8" stroke="#ec8a2a" stroke-width="0.9" fill="none" stroke-linecap="round"/><path d="M835.9,450.3 A1.0,1.0 0 0 0 834.0,449.9" stroke="#f8c040" stroke-width="0.9" fill="none" stroke-linecap="round"/><path d="M835.7,449.1 A1.1,1.1 0 0 0 833.9,447.9" stroke="#f2a53a" stroke-width="0.9" fill="none" stroke-linecap="round"/><path d="M835.6,447.6 A1.0,1.0 0 0 1 833.9,448.6" stroke="#f2a53a" stroke-width="0.9" fill="none" stroke-linecap="round"/><circle cx="834.5" cy="447.4" r="0.8" fill="#2a1220"/><path d="M836.4,444.3 A1.3,1.3 0 0 0 834.6,442.6" stroke="#ec8a2a" stroke-width="0.9" fill="none" stroke-linecap="round"/><circle cx="835.7" cy="444.2" r="0.8" fill="#2a1220"/><path d="M836.8,443.5 A1.0,1.0 0 0 1 834.8,443.3" stroke="#ec8a2a" stroke-width="0.9" fill="none" stroke-linecap="round"/><circle cx="836.1" cy="443.3" r="0.8" fill="#2a1220"/><path d="M838.1,441.6 A1.1,1.1 0 0 0 837.4,439.6" stroke="#f2a53a" stroke-width="0.9" fill="none" stroke-linecap="round"/><circle cx="837.7" cy="440.4" r="0.8" fill="#2a1220"/><path d="M839.4,440.4 A1.1,1.1 0 0 1 837.5,439.6" stroke="#f2a53a" stroke-width="0.9" fill="none" stroke-linecap="round"/><path d="M841.7,439.2 A1.0,1.0 0 0 0 841.6,437.3" stroke="#ec8a2a" stroke-width="0.9" fill="none" stroke-linecap="round"/><path d="M843.7,438.7 A1.1,1.1 0 0 0 844.1,436.6" stroke="#f8c040" stroke-width="0.9" fill="none" stroke-linecap="round"/><circle cx="843.2" cy="437.3" r="0.8" fill="#2a1220"/><path d="M845.3,438.6 A1.0,1.0 0 0 1 844.2,437.1" stroke="#f8c040" stroke-width="0.9" fill="none" stroke-linecap="round"/><path d="M845.3,439.5 l0.0,-0.7" stroke="#7cd4e0" stroke-width="0.7"/><path d="M848.0,439.1 A1.1,1.1 0 0 0 849.3,437.4" stroke="#f2a53a" stroke-width="0.9" fill="none" stroke-linecap="round"/><path d="M848.7,439.4 A1.2,1.2 0 0 1 848.7,437.1" stroke="#ec8a2a" stroke-width="0.9" fill="none" stroke-linecap="round"/><path d="M851.7,441.4 A1.2,1.2 0 0 1 852.6,439.4" stroke="#f2a53a" stroke-width="0.9" fill="none" stroke-linecap="round"/><path d="M851.1,442.1 l0.5,-0.5" stroke="#7cd4e0" stroke-width="0.7"/><path d="M852.5,442.3 A1.1,1.1 0 0 0 854.6,442.0" stroke="#f8c040" stroke-width="0.9" fill="none" stroke-linecap="round"/><circle cx="853.5" cy="441.9" r="0.8" fill="#2a1220"/><path d="M853.3,443.6 A1.2,1.2 0 0 1 854.6,441.7" stroke="#f2a53a" stroke-width="0.9" fill="none" stroke-linecap="round"/><path d="M854.0,445.3 A1.1,1.1 0 0 1 855.6,443.8" stroke="#ec8a2a" stroke-width="0.9" fill="none" stroke-linecap="round"/><circle cx="855.5" cy="444.8" r="0.8" fill="#2a1220"/>
<ellipse cx="815" cy="335" rx="30" ry="22" fill="#e890a0" opacity="0.55" filter="url(#b8)" transform="rotate(40 815 335)"/>
<circle cx="845" cy="371" r="50" fill="#f09050" opacity="0.45" filter="url(#b6)"/>
<clipPath id="pc9"><circle cx="845" cy="371" r="38.5"/></clipPath><circle cx="845" cy="371" r="47" fill="#f0a040" filter="url(#b3)" opacity="0.9"/><circle cx="845" cy="371" r="38.5" fill="url(#gCore2)"/><g clip-path="url(#pc9)"><path d="M816.7,342.1 L825.4,350.9 L827.0,357.7 L835.7,359.2 L843.6,367.2 L845.7,374.9 L853.4,379.7 L860.1,390.7 L865.0,397.1 L871.8,404.0" stroke="#3f86e0" stroke-width="6.2" fill="none" opacity="0.5" filter="url(#b2)"/><path d="M816.7,342.1 L825.4,350.9 L827.0,357.7 L835.7,359.2 L843.6,367.2 L845.7,374.9 L853.4,379.7 L860.1,390.7 L865.0,397.1 L871.8,404.0" stroke="#a8d4ff" stroke-width="1.5" fill="none"/><path d="M835.7,359.2 L845.8,358.0 L853.4,355.3" stroke="#8cc0f4" stroke-width="1.1" fill="none"/><path d="M853.4,379.7 L861.8,376.5 L869.3,376.7" stroke="#8cc0f4" stroke-width="1.1" fill="none"/><path d="M845.7,374.9 L855.7,373.3 L862.0,371.5" stroke="#8cc0f4" stroke-width="1.1" fill="none"/><path d="M827.0,357.7 L826.7,367.9 L826.7,375.6" stroke="#8cc0f4" stroke-width="1.1" fill="none"/></g><path d="M820.8,353.3 a2.6,2.6 0 1 1 4.8,1.3" stroke="#e8a040" stroke-width="1.4" fill="none"/><circle cx="823.3" cy="352.8" r="1.6" fill="#3c1a40"/><path d="M823.3,354.4 v2.6" stroke="#7cd4e0" stroke-width="1.1"/><path d="M813.1,382.6 a2.6,2.6 0 1 1 4.8,1.3" stroke="#e8a040" stroke-width="1.4" fill="none"/><circle cx="815.6" cy="382.1" r="1.6" fill="#3c1a40"/><path d="M815.6,383.7 v2.6" stroke="#7cd4e0" stroke-width="1.1"/><path d="M826.2,372.0 a2.6,2.6 0 1 1 4.8,1.3" stroke="#e8a040" stroke-width="1.4" fill="none"/><circle cx="828.8" cy="371.5" r="1.6" fill="#3c1a40"/><path d="M828.8,373.1 v2.6" stroke="#7cd4e0" stroke-width="1.1"/><path d="M873.9,368.9 a2.6,2.6 0 1 1 4.8,1.3" stroke="#e8a040" stroke-width="1.4" fill="none"/><circle cx="876.5" cy="368.5" r="1.6" fill="#3c1a40"/><path d="M876.5,370.1 v2.6" stroke="#7cd4e0" stroke-width="1.1"/><path d="M818.2,395.2 a2.6,2.6 0 1 1 4.8,1.3" stroke="#e8a040" stroke-width="1.4" fill="none"/><circle cx="820.8" cy="394.7" r="1.6" fill="#3c1a40"/><path d="M820.8,396.3 v2.6" stroke="#7cd4e0" stroke-width="1.1"/><path d="M875.6,375.3 a2.6,2.6 0 1 1 4.8,1.3" stroke="#e8a040" stroke-width="1.4" fill="none"/><circle cx="878.2" cy="374.9" r="1.6" fill="#3c1a40"/><path d="M878.2,376.5 v2.6" stroke="#7cd4e0" stroke-width="1.1"/><path d="M818.3,383.0 a2.6,2.6 0 1 1 4.8,1.3" stroke="#e8a040" stroke-width="1.4" fill="none"/><circle cx="820.9" cy="382.5" r="1.6" fill="#3c1a40"/><path d="M820.9,384.1 v2.6" stroke="#7cd4e0" stroke-width="1.1"/><path d="M872.5,361.2 a2.6,2.6 0 1 1 4.8,1.3" stroke="#e8a040" stroke-width="1.4" fill="none"/><circle cx="875.0" cy="360.8" r="1.6" fill="#3c1a40"/><path d="M875.0,362.4 v2.6" stroke="#7cd4e0" stroke-width="1.1"/><path d="M855.4,384.4 a2.6,2.6 0 1 1 4.8,1.3" stroke="#e8a040" stroke-width="1.4" fill="none"/><circle cx="858.0" cy="383.9" r="1.6" fill="#3c1a40"/><path d="M858.0,385.5 v2.6" stroke="#7cd4e0" stroke-width="1.1"/><path d="M853.1,397.3 a2.6,2.6 0 1 1 4.8,1.3" stroke="#e8a040" stroke-width="1.4" fill="none"/><circle cx="855.7" cy="396.8" r="1.6" fill="#3c1a40"/><path d="M855.7,398.4 v2.6" stroke="#7cd4e0" stroke-width="1.1"/><path d="M883.1,368.2 A3.9,3.9 0 0 1 888.8,363.2" stroke="#f2a53a" stroke-width="1.2" fill="none" stroke-linecap="round"/><circle cx="886.9" cy="368.5" r="1.2" fill="#2a1220"/><path d="M883.1,373.0 A3.6,3.6 0 0 0 889.3,376.2" stroke="#f8c040" stroke-width="1.2" fill="none" stroke-linecap="round"/><path d="M883.0,374.7 A3.4,3.4 0 0 1 888.5,371.3" stroke="#f8c040" stroke-width="1.2" fill="none" stroke-linecap="round"/><path d="M882.4,378.6 A3.3,3.3 0 0 1 888.4,376.7" stroke="#ec8a2a" stroke-width="1.2" fill="none" stroke-linecap="round"/><circle cx="884.3" cy="380.6" r="1.2" fill="#2a1220"/><path d="M882.7,377.0 A3.1,3.1 0 0 1 888.1,374.6" stroke="#f2a53a" stroke-width="1.2" fill="none" stroke-linecap="round"/><path d="M882.0,376.9 l2.2,0.4" stroke="#7cd4e0" stroke-width="1.0"/><path d="M881.5,382.1 A3.2,3.2 0 0 1 887.5,380.9" stroke="#f2a53a" stroke-width="1.2" fill="none" stroke-linecap="round"/><path d="M880.9,381.9 l2.2,0.7" stroke="#7cd4e0" stroke-width="1.0"/><path d="M880.3,385.5 A3.8,3.8 0 0 1 887.5,386.2" stroke="#f2a53a" stroke-width="1.2" fill="none" stroke-linecap="round"/><circle cx="882.0" cy="387.8" r="1.2" fill="#2a1220"/><path d="M879.7,385.2 l2.1,0.9" stroke="#7cd4e0" stroke-width="1.0"/><path d="M878.8,388.7 A3.6,3.6 0 0 1 885.7,389.4" stroke="#f8c040" stroke-width="1.2" fill="none" stroke-linecap="round"/><path d="M879.3,387.7 A3.4,3.4 0 0 1 885.7,386.5" stroke="#f8c040" stroke-width="1.2" fill="none" stroke-linecap="round"/><circle cx="881.0" cy="390.8" r="1.2" fill="#2a1220"/><path d="M878.7,387.4 l2.0,1.0" stroke="#7cd4e0" stroke-width="1.0"/><path d="M876.8,392.1 A3.6,3.6 0 0 1 883.6,393.3" stroke="#f2a53a" stroke-width="1.2" fill="none" stroke-linecap="round"/><circle cx="878.7" cy="395.3" r="1.2" fill="#2a1220"/><path d="M876.2,391.7 l1.9,1.3" stroke="#7cd4e0" stroke-width="1.0"/><path d="M876.1,393.1 A4.0,4.0 0 0 0 878.3,400.4" stroke="#f8c040" stroke-width="1.2" fill="none" stroke-linecap="round"/><circle cx="877.9" cy="395.3" r="1.2" fill="#2a1220"/><path d="M872.7,397.2 A3.2,3.2 0 0 0 874.7,403.0" stroke="#f2a53a" stroke-width="1.2" fill="none" stroke-linecap="round"/><path d="M870.7,399.3 A3.7,3.7 0 0 0 873.1,405.9" stroke="#f2a53a" stroke-width="1.2" fill="none" stroke-linecap="round"/><circle cx="871.0" cy="403.2" r="1.2" fill="#2a1220"/><path d="M870.2,398.8 l1.5,1.7" stroke="#7cd4e0" stroke-width="1.0"/><path d="M870.8,399.2 A3.8,3.8 0 0 1 877.2,402.8" stroke="#ec8a2a" stroke-width="1.2" fill="none" stroke-linecap="round"/><circle cx="872.7" cy="403.6" r="1.2" fill="#2a1220"/><path d="M871.1,398.9 A3.3,3.3 0 0 1 876.9,401.0" stroke="#f8c040" stroke-width="1.2" fill="none" stroke-linecap="round"/><path d="M865.9,402.9 A3.5,3.5 0 0 1 871.6,406.5" stroke="#f2a53a" stroke-width="1.2" fill="none" stroke-linecap="round"/><circle cx="866.2" cy="405.4" r="1.2" fill="#2a1220"/><path d="M863.4,404.5 A3.6,3.6 0 0 1 868.6,409.1" stroke="#f2a53a" stroke-width="1.2" fill="none" stroke-linecap="round"/><path d="M863.0,403.9 l1.1,2.0" stroke="#7cd4e0" stroke-width="1.0"/><path d="M862.4,405.0 A4.0,4.0 0 0 1 868.4,409.7" stroke="#f2a53a" stroke-width="1.2" fill="none" stroke-linecap="round"/><circle cx="862.0" cy="408.4" r="1.2" fill="#2a1220"/><path d="M863.3,404.5 A3.4,3.4 0 0 0 863.7,411.1" stroke="#f8c040" stroke-width="1.2" fill="none" stroke-linecap="round"/><path d="M863.0,403.9 l1.1,2.0" stroke="#7cd4e0" stroke-width="1.0"/><path d="M859.6,406.3 A4.0,4.0 0 0 1 865.1,411.6" stroke="#f2a53a" stroke-width="1.2" fill="none" stroke-linecap="round"/><path d="M857.3,407.1 A4.1,4.1 0 0 0 856.6,414.9" stroke="#f2a53a" stroke-width="1.2" fill="none" stroke-linecap="round"/><circle cx="860.6" cy="409.6" r="1.2" fill="#2a1220"/><path d="M857.1,406.5 l0.7,2.2" stroke="#7cd4e0" stroke-width="1.0"/><path d="M857.3,407.1 A4.0,4.0 0 0 0 857.0,414.8" stroke="#f2a53a" stroke-width="1.2" fill="none" stroke-linecap="round"/><path d="M848.8,409.0 A3.3,3.3 0 0 0 845.3,414.4" stroke="#f8c040" stroke-width="1.2" fill="none" stroke-linecap="round"/><path d="M848.7,408.3 l0.2,2.3" stroke="#7cd4e0" stroke-width="1.0"/><path d="M850.3,408.8 A3.7,3.7 0 0 0 848.7,415.7" stroke="#f8c040" stroke-width="1.2" fill="none" stroke-linecap="round"/><circle cx="852.9" cy="410.4" r="1.2" fill="#2a1220"/><path d="M850.7,408.8 A3.6,3.6 0 0 1 853.7,415.0" stroke="#ec8a2a" stroke-width="1.2" fill="none" stroke-linecap="round"/><circle cx="849.4" cy="413.7" r="1.2" fill="#2a1220"/><path d="M842.7,409.1 A3.7,3.7 0 0 0 837.9,414.3" stroke="#f8c040" stroke-width="1.2" fill="none" stroke-linecap="round"/><circle cx="841.2" cy="412.6" r="1.2" fill="#2a1220"/><path d="M845.2,409.2 A3.5,3.5 0 0 1 847.7,415.4" stroke="#f8c040" stroke-width="1.2" fill="none" stroke-linecap="round"/><circle cx="844.1" cy="412.8" r="1.2" fill="#2a1220"/><path d="M837.2,408.4 A4.2,4.2 0 0 1 839.3,416.2" stroke="#f2a53a" stroke-width="1.2" fill="none" stroke-linecap="round"/><circle cx="836.2" cy="412.0" r="1.2" fill="#2a1220"/><path d="M839.0,408.7 A3.7,3.7 0 0 0 833.6,413.5" stroke="#f2a53a" stroke-width="1.2" fill="none" stroke-linecap="round"/><circle cx="836.0" cy="412.0" r="1.2" fill="#2a1220"/><path d="M839.1,408.0 l-0.4,2.2" stroke="#7cd4e0" stroke-width="1.0"/><path d="M837.6,408.4 A3.7,3.7 0 0 0 832.5,413.4" stroke="#f2a53a" stroke-width="1.2" fill="none" stroke-linecap="round"/><circle cx="836.7" cy="410.7" r="1.2" fill="#2a1220"/><path d="M834.8,407.8 A3.2,3.2 0 0 0 830.4,412.0" stroke="#f8c040" stroke-width="1.2" fill="none" stroke-linecap="round"/><circle cx="835.2" cy="412.0" r="1.2" fill="#2a1220"/><path d="M829.6,405.9 A3.5,3.5 0 0 1 829.0,412.7" stroke="#f2a53a" stroke-width="1.2" fill="none" stroke-linecap="round"/><circle cx="826.8" cy="409.6" r="1.2" fill="#2a1220"/><path d="M829.8,406.0 A3.9,3.9 0 0 0 823.2,409.4" stroke="#ec8a2a" stroke-width="1.2" fill="none" stroke-linecap="round"/><path d="M824.7,403.3 A4.1,4.1 0 0 1 822.5,410.8" stroke="#f8c040" stroke-width="1.2" fill="none" stroke-linecap="round"/><circle cx="820.8" cy="405.3" r="1.2" fill="#2a1220"/><path d="M822.1,401.5 A4.1,4.1 0 0 1 821.0,409.4" stroke="#f2a53a" stroke-width="1.2" fill="none" stroke-linecap="round"/><circle cx="819.6" cy="404.3" r="1.2" fill="#2a1220"/><path d="M823.4,402.5 A3.1,3.1 0 0 1 823.9,408.4" stroke="#f2a53a" stroke-width="1.2" fill="none" stroke-linecap="round"/><path d="M818.5,398.5 A3.7,3.7 0 0 0 811.7,400.7" stroke="#f2a53a" stroke-width="1.2" fill="none" stroke-linecap="round"/><circle cx="817.1" cy="401.7" r="1.2" fill="#2a1220"/><path d="M820.1,399.9 A3.8,3.8 0 0 0 813.6,403.5" stroke="#f8c040" stroke-width="1.2" fill="none" stroke-linecap="round"/><circle cx="816.6" cy="400.5" r="1.2" fill="#2a1220"/><path d="M817.7,397.7 A3.8,3.8 0 0 1 816.9,404.9" stroke="#f2a53a" stroke-width="1.2" fill="none" stroke-linecap="round"/><path d="M818.2,397.2 l-1.6,1.6" stroke="#7cd4e0" stroke-width="1.0"/><path d="M817.6,397.6 A3.8,3.8 0 0 1 816.1,404.7" stroke="#ec8a2a" stroke-width="1.2" fill="none" stroke-linecap="round"/><circle cx="813.5" cy="398.4" r="1.2" fill="#2a1220"/><path d="M812.7,391.3 A3.4,3.4 0 0 0 806.2,391.0" stroke="#f2a53a" stroke-width="1.2" fill="none" stroke-linecap="round"/><path d="M814.3,393.8 A3.3,3.3 0 0 1 812.8,399.9" stroke="#f8c040" stroke-width="1.2" fill="none" stroke-linecap="round"/><circle cx="811.5" cy="394.3" r="1.2" fill="#2a1220"/><path d="M810.6,387.6 A4.2,4.2 0 0 0 802.6,388.7" stroke="#f8c040" stroke-width="1.2" fill="none" stroke-linecap="round"/><path d="M810.5,387.3 A4.0,4.0 0 0 1 806.2,393.8" stroke="#f8c040" stroke-width="1.2" fill="none" stroke-linecap="round"/><path d="M810.3,386.8 A3.1,3.1 0 0 1 807.0,391.8" stroke="#f8c040" stroke-width="1.2" fill="none" stroke-linecap="round"/><path d="M810.9,386.5 l-2.1,0.9" stroke="#7cd4e0" stroke-width="1.0"/><path d="M808.2,381.3 A3.8,3.8 0 0 0 801.0,380.0" stroke="#ec8a2a" stroke-width="1.2" fill="none" stroke-linecap="round"/><path d="M808.2,381.3 A3.3,3.3 0 0 1 803.0,384.8" stroke="#f8c040" stroke-width="1.2" fill="none" stroke-linecap="round"/><path d="M808.9,381.1 l-2.2,0.6" stroke="#7cd4e0" stroke-width="1.0"/><path d="M808.2,381.3 A3.1,3.1 0 0 1 804.1,385.7" stroke="#f8c040" stroke-width="1.2" fill="none" stroke-linecap="round"/><path d="M808.9,381.1 l-2.2,0.6" stroke="#7cd4e0" stroke-width="1.0"/><path d="M807.1,375.3 A3.4,3.4 0 0 1 801.4,378.6" stroke="#ec8a2a" stroke-width="1.2" fill="none" stroke-linecap="round"/><circle cx="804.7" cy="375.8" r="1.2" fill="#2a1220"/><path d="M806.8,369.8 A3.8,3.8 0 0 1 800.9,374.1" stroke="#f2a53a" stroke-width="1.2" fill="none" stroke-linecap="round"/><circle cx="804.2" cy="370.6" r="1.2" fill="#2a1220"/><path d="M806.9,373.3 A3.3,3.3 0 0 0 800.9,371.2" stroke="#f2a53a" stroke-width="1.2" fill="none" stroke-linecap="round"/><circle cx="804.2" cy="374.2" r="1.2" fill="#2a1220"/><path d="M806.8,372.2 A3.8,3.8 0 0 1 799.8,374.4" stroke="#ec8a2a" stroke-width="1.2" fill="none" stroke-linecap="round"/><circle cx="803.3" cy="374.6" r="1.2" fill="#2a1220"/><path d="M807.6,363.3 A3.3,3.3 0 0 1 801.2,363.8" stroke="#f8c040" stroke-width="1.2" fill="none" stroke-linecap="round"/><path d="M808.3,363.4 l-2.2,-0.5" stroke="#7cd4e0" stroke-width="1.0"/><path d="M808.0,361.7 A3.8,3.8 0 0 0 801.7,358.1" stroke="#ec8a2a" stroke-width="1.2" fill="none" stroke-linecap="round"/><path d="M808.6,361.9 l-2.2,-0.6" stroke="#7cd4e0" stroke-width="1.0"/><path d="M808.9,358.5 A3.7,3.7 0 0 1 801.8,358.9" stroke="#f2a53a" stroke-width="1.2" fill="none" stroke-linecap="round"/><path d="M808.9,358.5 A4.0,4.0 0 0 0 803.1,353.6" stroke="#f2a53a" stroke-width="1.2" fill="none" stroke-linecap="round"/><circle cx="806.2" cy="357.0" r="1.2" fill="#2a1220"/><path d="M810.1,355.5 A3.7,3.7 0 0 1 803.0,355.6" stroke="#f8c040" stroke-width="1.2" fill="none" stroke-linecap="round"/><circle cx="806.5" cy="356.0" r="1.2" fill="#2a1220"/><path d="M810.7,355.7 l-2.1,-0.9" stroke="#7cd4e0" stroke-width="1.0"/><path d="M810.8,354.0 A3.3,3.3 0 0 0 808.0,348.3" stroke="#f2a53a" stroke-width="1.2" fill="none" stroke-linecap="round"/><path d="M812.7,350.7 A3.3,3.3 0 0 1 806.5,348.9" stroke="#f8c040" stroke-width="1.2" fill="none" stroke-linecap="round"/><path d="M813.2,351.1 l-1.9,-1.2" stroke="#7cd4e0" stroke-width="1.0"/><path d="M814.4,348.2 A3.1,3.1 0 0 1 808.8,346.0" stroke="#f8c040" stroke-width="1.2" fill="none" stroke-linecap="round"/><path d="M814.9,348.6 l-1.8,-1.4" stroke="#7cd4e0" stroke-width="1.0"/><path d="M814.9,347.5 A3.7,3.7 0 0 0 810.7,341.9" stroke="#f8c040" stroke-width="1.2" fill="none" stroke-linecap="round"/><circle cx="810.1" cy="345.8" r="1.2" fill="#2a1220"/><path d="M814.5,348.0 A3.3,3.3 0 0 0 810.8,342.8" stroke="#ec8a2a" stroke-width="1.2" fill="none" stroke-linecap="round"/><path d="M817.6,344.4 A3.4,3.4 0 0 1 811.0,343.9" stroke="#f8c040" stroke-width="1.2" fill="none" stroke-linecap="round"/><circle cx="812.2" cy="342.7" r="1.2" fill="#2a1220"/><path d="M818.1,344.9 l-1.6,-1.6" stroke="#7cd4e0" stroke-width="1.0"/><path d="M818.7,343.3 A3.8,3.8 0 0 1 811.5,341.6" stroke="#ec8a2a" stroke-width="1.2" fill="none" stroke-linecap="round"/><path d="M821.7,340.7 A3.3,3.3 0 0 0 821.0,334.5" stroke="#f8c040" stroke-width="1.2" fill="none" stroke-linecap="round"/><circle cx="819.4" cy="339.8" r="1.2" fill="#2a1220"/><path d="M823.5,339.4 A3.6,3.6 0 0 1 818.0,335.3" stroke="#f8c040" stroke-width="1.2" fill="none" stroke-linecap="round"/><circle cx="819.9" cy="338.4" r="1.2" fill="#2a1220"/><path d="M823.9,340.0 l-1.3,-1.9" stroke="#7cd4e0" stroke-width="1.0"/><path d="M823.8,339.2 A3.9,3.9 0 0 1 816.6,337.1" stroke="#f2a53a" stroke-width="1.2" fill="none" stroke-linecap="round"/><path d="M827.8,336.9 A3.8,3.8 0 0 1 821.3,333.3" stroke="#ec8a2a" stroke-width="1.2" fill="none" stroke-linecap="round"/><circle cx="827.3" cy="333.8" r="1.2" fill="#2a1220"/><path d="M828.8,336.5 A3.6,3.6 0 0 0 829.2,329.6" stroke="#f2a53a" stroke-width="1.2" fill="none" stroke-linecap="round"/><path d="M831.2,335.4 A3.7,3.7 0 0 0 830.9,328.2" stroke="#ec8a2a" stroke-width="1.2" fill="none" stroke-linecap="round"/><path d="M831.5,336.0 l-0.8,-2.1" stroke="#7cd4e0" stroke-width="1.0"/><path d="M832.7,334.9 A4.0,4.0 0 0 1 826.8,329.8" stroke="#ec8a2a" stroke-width="1.2" fill="none" stroke-linecap="round"/><circle cx="833.3" cy="329.7" r="1.2" fill="#2a1220"/><path d="M832.9,335.5 l-0.7,-2.2" stroke="#7cd4e0" stroke-width="1.0"/><path d="M837.7,333.5 A4.0,4.0 0 0 0 838.3,325.8" stroke="#ec8a2a" stroke-width="1.2" fill="none" stroke-linecap="round"/><circle cx="838.0" cy="329.5" r="1.2" fill="#2a1220"/><path d="M837.9,334.2 l-0.4,-2.2" stroke="#7cd4e0" stroke-width="1.0"/><path d="M836.3,333.8 A4.1,4.1 0 0 0 837.4,326.1" stroke="#f8c040" stroke-width="1.2" fill="none" stroke-linecap="round"/><circle cx="838.1" cy="331.2" r="1.2" fill="#2a1220"/><path d="M836.5,333.8 A3.9,3.9 0 0 1 832.6,327.5" stroke="#ec8a2a" stroke-width="1.2" fill="none" stroke-linecap="round"/><circle cx="833.9" cy="331.3" r="1.2" fill="#2a1220"/><path d="M841.0,333.0 A4.0,4.0 0 0 1 837.6,326.1" stroke="#f2a53a" stroke-width="1.2" fill="none" stroke-linecap="round"/><circle cx="842.0" cy="328.0" r="1.2" fill="#2a1220"/><path d="M841.1,333.7 l-0.2,-2.3" stroke="#7cd4e0" stroke-width="1.0"/><path d="M847.2,332.9 A3.2,3.2 0 0 1 844.5,327.3" stroke="#f2a53a" stroke-width="1.2" fill="none" stroke-linecap="round"/><circle cx="846.3" cy="328.0" r="1.2" fill="#2a1220"/><path d="M850.8,333.3 A3.5,3.5 0 0 0 854.8,327.8" stroke="#f8c040" stroke-width="1.2" fill="none" stroke-linecap="round"/><circle cx="853.0" cy="331.2" r="1.2" fill="#2a1220"/><path d="M847.7,332.9 A3.3,3.3 0 0 1 845.5,326.9" stroke="#ec8a2a" stroke-width="1.2" fill="none" stroke-linecap="round"/><path d="M850.7,333.3 A3.6,3.6 0 0 1 847.5,327.1" stroke="#f8c040" stroke-width="1.2" fill="none" stroke-linecap="round"/><path d="M855.6,334.3 A3.2,3.2 0 0 0 859.0,329.2" stroke="#ec8a2a" stroke-width="1.2" fill="none" stroke-linecap="round"/><path d="M855.4,335.0 l0.6,-2.2" stroke="#7cd4e0" stroke-width="1.0"/><path d="M854.7,334.1 A3.9,3.9 0 0 1 854.3,326.5" stroke="#ec8a2a" stroke-width="1.2" fill="none" stroke-linecap="round"/><circle cx="854.7" cy="330.9" r="1.2" fill="#2a1220"/><path d="M854.5,334.7 l0.6,-2.2" stroke="#7cd4e0" stroke-width="1.0"/><path d="M858.8,335.4 A3.4,3.4 0 0 0 864.2,331.6" stroke="#ec8a2a" stroke-width="1.2" fill="none" stroke-linecap="round"/><circle cx="858.6" cy="330.7" r="1.2" fill="#2a1220"/><path d="M862.2,336.9 A3.9,3.9 0 0 0 868.5,332.9" stroke="#f2a53a" stroke-width="1.2" fill="none" stroke-linecap="round"/><path d="M861.9,337.5 l1.0,-2.0" stroke="#7cd4e0" stroke-width="1.0"/><path d="M861.8,336.7 A3.2,3.2 0 0 1 860.5,330.7" stroke="#f8c040" stroke-width="1.2" fill="none" stroke-linecap="round"/><circle cx="862.2" cy="332.6" r="1.2" fill="#2a1220"/><path d="M861.5,337.3 l1.0,-2.0" stroke="#7cd4e0" stroke-width="1.0"/><path d="M868.3,340.7 A3.6,3.6 0 0 1 870.2,334.0" stroke="#f2a53a" stroke-width="1.2" fill="none" stroke-linecap="round"/><circle cx="871.0" cy="337.5" r="1.2" fill="#2a1220"/><path d="M867.5,340.1 A3.7,3.7 0 0 1 867.5,333.1" stroke="#f8c040" stroke-width="1.2" fill="none" stroke-linecap="round"/><path d="M867.1,340.7 l1.3,-1.8" stroke="#7cd4e0" stroke-width="1.0"/><path d="M866.9,339.7 A3.7,3.7 0 0 0 873.1,336.2" stroke="#ec8a2a" stroke-width="1.2" fill="none" stroke-linecap="round"/><circle cx="870.2" cy="336.3" r="1.2" fill="#2a1220"/><path d="M866.5,340.3 l1.3,-1.9" stroke="#7cd4e0" stroke-width="1.0"/><path d="M869.2,341.5 A3.2,3.2 0 0 1 870.8,335.6" stroke="#ec8a2a" stroke-width="1.2" fill="none" stroke-linecap="round"/><circle cx="871.9" cy="339.0" r="1.2" fill="#2a1220"/><path d="M870.1,342.3 A3.1,3.1 0 0 1 870.8,336.4" stroke="#f2a53a" stroke-width="1.2" fill="none" stroke-linecap="round"/><circle cx="871.5" cy="339.4" r="1.2" fill="#2a1220"/><path d="M874.2,346.5 A4.2,4.2 0 0 1 877.8,339.2" stroke="#ec8a2a" stroke-width="1.2" fill="none" stroke-linecap="round"/><circle cx="877.0" cy="343.6" r="1.2" fill="#2a1220"/><path d="M873.7,346.9 l1.7,-1.5" stroke="#7cd4e0" stroke-width="1.0"/><path d="M877.1,350.3 A3.1,3.1 0 0 0 883.1,350.7" stroke="#ec8a2a" stroke-width="1.2" fill="none" stroke-linecap="round"/><circle cx="881.1" cy="347.0" r="1.2" fill="#2a1220"/><path d="M877.3,350.6 A3.6,3.6 0 0 0 884.3,350.6" stroke="#f2a53a" stroke-width="1.2" fill="none" stroke-linecap="round"/><path d="M876.7,350.9 l1.9,-1.2" stroke="#7cd4e0" stroke-width="1.0"/><path d="M879.1,353.8 A3.2,3.2 0 0 0 885.0,355.2" stroke="#f2a53a" stroke-width="1.2" fill="none" stroke-linecap="round"/><circle cx="883.5" cy="351.6" r="1.2" fill="#2a1220"/><path d="M878.5,354.1 l2.0,-1.0" stroke="#7cd4e0" stroke-width="1.0"/><path d="M880.7,357.4 A4.0,4.0 0 0 0 888.3,357.6" stroke="#ec8a2a" stroke-width="1.2" fill="none" stroke-linecap="round"/><circle cx="883.1" cy="358.1" r="1.2" fill="#2a1220"/><path d="M881.7,360.4 A4.0,4.0 0 0 0 888.7,363.4" stroke="#ec8a2a" stroke-width="1.2" fill="none" stroke-linecap="round"/><circle cx="884.3" cy="357.2" r="1.2" fill="#2a1220"/><path d="M881.6,360.1 A3.2,3.2 0 0 0 887.5,361.9" stroke="#f8c040" stroke-width="1.2" fill="none" stroke-linecap="round"/><path d="M880.9,360.3 l2.2,-0.6" stroke="#7cd4e0" stroke-width="1.0"/><path d="M881.3,359.3 A3.2,3.2 0 0 0 887.5,360.0" stroke="#ec8a2a" stroke-width="1.2" fill="none" stroke-linecap="round"/><circle cx="886.1" cy="360.1" r="1.2" fill="#2a1220"/><path d="M882.7,365.1 A3.2,3.2 0 0 1 887.9,361.8" stroke="#f2a53a" stroke-width="1.2" fill="none" stroke-linecap="round"/><path d="M882.9,366.6 A3.2,3.2 0 0 1 887.7,362.7" stroke="#f8c040" stroke-width="1.2" fill="none" stroke-linecap="round"/><path d="M882.2,366.6 l2.3,-0.3" stroke="#7cd4e0" stroke-width="1.0"/><path d="M883.2,370.4 A4.2,4.2 0 0 1 889.6,365.7" stroke="#f8c040" stroke-width="1.2" fill="none" stroke-linecap="round"/><circle cx="885.5" cy="371.8" r="1.2" fill="#2a1220"/>
<ellipse cx="818" cy="343" rx="34" ry="24" fill="#a07ccc" opacity="0.5" filter="url(#b4)" transform="rotate(40 818 343)"/>
<ellipse cx="812" cy="336" rx="20" ry="12" fill="#e890a8" opacity="0.35" filter="url(#b4)" transform="rotate(40 812 336)"/>
<path d="M700,307 c2,-2 5,-1 5,2" stroke="#88dde6" stroke-width="2.4" fill="none" stroke-linecap="round"/>
<path d="M706,309 c2,-2 5,-1 5,2" stroke="#88dde6" stroke-width="2.4" fill="none" stroke-linecap="round"/>
<path d="M705,336 c2,-2 5,-1 5,2" stroke="#88dde6" stroke-width="2.4" fill="none" stroke-linecap="round"/>
<path d="M770,283 c2,-2 5,-1 5,2" stroke="#88dde6" stroke-width="2.4" fill="none" stroke-linecap="round"/>
<path d="M815,253 c2,-2 5,-1 5,2" stroke="#88dde6" stroke-width="2.4" fill="none" stroke-linecap="round"/>
<path d="M897,205 c2,-2 5,-1 5,2" stroke="#88dde6" stroke-width="2.4" fill="none" stroke-linecap="round"/>
<path d="M910,218 c2,-2 5,-1 5,2" stroke="#88dde6" stroke-width="2.4" fill="none" stroke-linecap="round"/>
<path d="M965,240 c2,-2 5,-1 5,2" stroke="#88dde6" stroke-width="2.4" fill="none" stroke-linecap="round"/>
<path d="M972,248 c2,-2 5,-1 5,2" stroke="#88dde6" stroke-width="2.4" fill="none" stroke-linecap="round"/>
<path d="M874,310 c2,-2 5,-1 5,2" stroke="#88dde6" stroke-width="2.4" fill="none" stroke-linecap="round"/>
<path d="M880,322 c2,-2 5,-1 5,2" stroke="#88dde6" stroke-width="2.4" fill="none" stroke-linecap="round"/>
<path d="M898,336 c2,-2 5,-1 5,2" stroke="#88dde6" stroke-width="2.4" fill="none" stroke-linecap="round"/>
<path d="M920,322 c2,-2 5,-1 5,2" stroke="#88dde6" stroke-width="2.4" fill="none" stroke-linecap="round"/>
<path d="M960,365 c2,-2 5,-1 5,2" stroke="#88dde6" stroke-width="2.4" fill="none" stroke-linecap="round"/>
<path d="M990,330 c2,-2 5,-1 5,2" stroke="#88dde6" stroke-width="2.4" fill="none" stroke-linecap="round"/>
<path d="M986,395 c2,-2 5,-1 5,2" stroke="#88dde6" stroke-width="2.4" fill="none" stroke-linecap="round"/>
<path d="M722,412 c2,-2 5,-1 5,2" stroke="#88dde6" stroke-width="2.4" fill="none" stroke-linecap="round"/>
<path d="M802,345 c2,-2 5,-1 5,2" stroke="#88dde6" stroke-width="2.4" fill="none" stroke-linecap="round"/>
<path d="M812,355 c2,-2 5,-1 5,2" stroke="#88dde6" stroke-width="2.4" fill="none" stroke-linecap="round"/>
<path d="M760,383 c2,-2 5,-1 5,2" stroke="#88dde6" stroke-width="2.4" fill="none" stroke-linecap="round"/>
<path d="M915,468 c2,-2 5,-1 5,2" stroke="#88dde6" stroke-width="2.4" fill="none" stroke-linecap="round"/>
<path d="M965,395 c2,-2 5,-1 5,2" stroke="#88dde6" stroke-width="2.4" fill="none" stroke-linecap="round"/>
<path d="M763,420 c2,-2 5,-1 5,2" stroke="#88dde6" stroke-width="2.4" fill="none" stroke-linecap="round"/>
<path d="M690,165 C683,160 676,156 679,150 C681,147 685,149 688,148" stroke="#c8a888" stroke-width="1.6" fill="none"/>
<path d="M687,166 C690,158 702,156 716,157 C726,157 734,160 740,166 C743,169 742,172 738,174 C730,177 722,180 712,181 C700,182 690,178 687,166Z" fill="#ccab8c"/>
<path d="M692,163 C700,159 712,159 722,160" stroke="#e2caa8" stroke-width="3" fill="none" opacity="0.8" filter="url(#b1)"/>
<ellipse cx="728" cy="160" rx="2.8" ry="4" fill="#e4cfb0"/>
<ellipse cx="733" cy="162" rx="2.5" ry="3.5" fill="#dcc0a0"/>
<path d="M699,178 L697,185 M706,179 L708,185 M724,177 L728,184" stroke="#c4a080" stroke-width="2.2" stroke-linecap="round"/>
<circle cx="720" cy="170" r="4" fill="#a080c0" opacity="0.8"/>
<polygon points="781,451 838,459 800,519 781,523" fill="#ffffff" opacity="0.3"/>
<polygon points="770,452 838,459 790,470 770,470" fill="#d8c8ec" opacity="0.5"/>
<ellipse cx="648" cy="428" rx="20" ry="11" fill="#f39a8a" opacity="0.75" filter="url(#b4)" transform="rotate(40 648 428)"/>
<circle cx="711.3" cy="506" r="76.5" fill="#e5e3e7"/>
<g clip-path="url(#cCirc)">
<linearGradient id="gCellL" x1="0" y1="0" x2="1" y2="1"><stop offset="0" stop-color="#6c4ca6"/><stop offset="1" stop-color="#4e3282"/></linearGradient>
<linearGradient id="gCellR" x1="0" y1="0" x2="0" y2="1"><stop offset="0" stop-color="#c2aee2"/><stop offset="0.5" stop-color="#a88ad6"/><stop offset="1" stop-color="#8e6cc4"/></linearGradient>
<path d="M633,468 C646,456 660,458 667,474 C672,490 676,505 690,515 C698,521 701,532 696,546 C690,554 680,558 668,558 L633,558 Z" fill="url(#gCellL)"/>
<path d="M645,478 C655,470 662,482 664,496 C667,512 672,525 682,535" stroke="#8466bc" stroke-width="5" fill="none" opacity="0.6" filter="url(#b2)"/>
<path d="M698,548 C704,526 714,510 732,501 C752,494 770,493 790,490 L792,590 L690,590 Z" fill="url(#gCellR)"/>
<path d="M712,530 C722,518 740,508 770,504" stroke="#d8c8f0" stroke-width="4" fill="none" opacity="0.7" filter="url(#b2)"/>
<ellipse cx="670" cy="450" rx="18" ry="12" fill="#f8c050" opacity="0.8" filter="url(#b4)"/>
<ellipse cx="650" cy="432" rx="16" ry="10" fill="#f3a090" opacity="0.7" filter="url(#b4)" transform="rotate(40 650 432)"/>
</g>
<clipPath id="pc10"><circle cx="702.7" cy="486" r="33"/></clipPath><circle cx="702.7" cy="486" r="40" fill="#f0a040" filter="url(#b3)" opacity="0.9"/><circle cx="702.7" cy="486" r="33" fill="url(#gCore2)"/><g clip-path="url(#pc10)"><path d="M676.2,463.6 L679.6,468.5 L688.0,472.6 L690.4,478.5 L699.3,483.5 L704.6,491.7 L706.8,496.4 L713.9,501.2 L722.2,505.0 L722.4,514.9" stroke="#3f86e0" stroke-width="5.3" fill="none" opacity="0.5" filter="url(#b2)"/><path d="M676.2,463.6 L679.6,468.5 L688.0,472.6 L690.4,478.5 L699.3,483.5 L704.6,491.7 L706.8,496.4 L713.9,501.2 L722.2,505.0 L722.4,514.9" stroke="#a8d4ff" stroke-width="1.3" fill="none"/><path d="M704.6,491.7 L706.4,496.1 L704.5,502.9" stroke="#8cc0f4" stroke-width="0.9" fill="none"/><path d="M690.4,478.5 L699.4,475.3 L705.7,473.2" stroke="#8cc0f4" stroke-width="0.9" fill="none"/><path d="M690.4,478.5 L689.3,483.7 L686.2,485.9" stroke="#8cc0f4" stroke-width="0.9" fill="none"/><path d="M713.9,501.2 L712.6,508.9 L713.8,515.5" stroke="#8cc0f4" stroke-width="0.9" fill="none"/></g><path d="M702.3,495.6 a2.2,2.2 0 1 1 4.1,1.1" stroke="#e8a040" stroke-width="1.2" fill="none"/><circle cx="704.5" cy="495.2" r="1.4" fill="#3c1a40"/><path d="M704.5,496.6 v2.2" stroke="#7cd4e0" stroke-width="1.0"/><path d="M691.2,501.9 a2.2,2.2 0 1 1 4.1,1.1" stroke="#e8a040" stroke-width="1.2" fill="none"/><circle cx="693.4" cy="501.5" r="1.4" fill="#3c1a40"/><path d="M693.4,502.9 v2.2" stroke="#7cd4e0" stroke-width="1.0"/><path d="M681.3,501.1 a2.2,2.2 0 1 1 4.1,1.1" stroke="#e8a040" stroke-width="1.2" fill="none"/><circle cx="683.5" cy="500.7" r="1.4" fill="#3c1a40"/><path d="M683.5,502.0 v2.2" stroke="#7cd4e0" stroke-width="1.0"/><path d="M715.4,461.6 a2.2,2.2 0 1 1 4.1,1.1" stroke="#e8a040" stroke-width="1.2" fill="none"/><circle cx="717.6" cy="461.2" r="1.4" fill="#3c1a40"/><path d="M717.6,462.5 v2.2" stroke="#7cd4e0" stroke-width="1.0"/><path d="M729.6,482.1 a2.2,2.2 0 1 1 4.1,1.1" stroke="#e8a040" stroke-width="1.2" fill="none"/><circle cx="731.8" cy="481.7" r="1.4" fill="#3c1a40"/><path d="M731.8,483.0 v2.2" stroke="#7cd4e0" stroke-width="1.0"/><path d="M704.8,469.5 a2.2,2.2 0 1 1 4.1,1.1" stroke="#e8a040" stroke-width="1.2" fill="none"/><circle cx="707.0" cy="469.1" r="1.4" fill="#3c1a40"/><path d="M707.0,470.5 v2.2" stroke="#7cd4e0" stroke-width="1.0"/><path d="M711.1,507.7 a2.2,2.2 0 1 1 4.1,1.1" stroke="#e8a040" stroke-width="1.2" fill="none"/><circle cx="713.3" cy="507.2" r="1.4" fill="#3c1a40"/><path d="M713.3,508.6 v2.2" stroke="#7cd4e0" stroke-width="1.0"/><path d="M676.9,479.4 a2.2,2.2 0 1 1 4.1,1.1" stroke="#e8a040" stroke-width="1.2" fill="none"/><circle cx="679.1" cy="479.0" r="1.4" fill="#3c1a40"/><path d="M679.1,480.4 v2.2" stroke="#7cd4e0" stroke-width="1.0"/><path d="M712.6,494.5 a2.2,2.2 0 1 1 4.1,1.1" stroke="#e8a040" stroke-width="1.2" fill="none"/><circle cx="714.8" cy="494.1" r="1.4" fill="#3c1a40"/><path d="M714.8,495.4 v2.2" stroke="#7cd4e0" stroke-width="1.0"/><path d="M735.3,488.8 A2.4,2.4 0 0 0 739.1,491.6" stroke="#f8c040" stroke-width="0.9" fill="none" stroke-linecap="round"/><circle cx="737.4" cy="490.4" r="0.9" fill="#2a1220"/><path d="M735.4,485.9 A2.7,2.7 0 0 1 739.8,482.8" stroke="#f2a53a" stroke-width="0.9" fill="none" stroke-linecap="round"/><circle cx="737.2" cy="484.2" r="0.9" fill="#2a1220"/><path d="M735.4,488.3 A2.5,2.5 0 0 1 740.0,487.0" stroke="#f2a53a" stroke-width="0.9" fill="none" stroke-linecap="round"/><circle cx="738.0" cy="489.7" r="0.9" fill="#2a1220"/><path d="M734.6,488.2 l1.7,0.1" stroke="#7cd4e0" stroke-width="0.8"/><path d="M734.8,492.3 A2.4,2.4 0 0 0 738.2,495.4" stroke="#f2a53a" stroke-width="0.9" fill="none" stroke-linecap="round"/><circle cx="738.2" cy="493.4" r="0.9" fill="#2a1220"/><path d="M733.4,497.5 A3.0,3.0 0 0 1 739.2,497.4" stroke="#f8c040" stroke-width="0.9" fill="none" stroke-linecap="round"/><circle cx="735.0" cy="497.5" r="0.9" fill="#2a1220"/><path d="M732.7,497.2 l1.6,0.6" stroke="#7cd4e0" stroke-width="0.8"/><path d="M734.0,495.7 A2.9,2.9 0 0 1 739.5,495.6" stroke="#ec8a2a" stroke-width="0.9" fill="none" stroke-linecap="round"/><circle cx="737.2" cy="495.4" r="0.9" fill="#2a1220"/><path d="M733.3,495.5 l1.7,0.5" stroke="#7cd4e0" stroke-width="0.8"/><path d="M731.4,501.8 A2.8,2.8 0 0 0 734.1,506.6" stroke="#ec8a2a" stroke-width="0.9" fill="none" stroke-linecap="round"/><path d="M730.0,504.0 A2.5,2.5 0 0 0 732.9,508.0" stroke="#ec8a2a" stroke-width="0.9" fill="none" stroke-linecap="round"/><circle cx="732.9" cy="505.7" r="0.9" fill="#2a1220"/><path d="M729.4,503.6 l1.5,1.0" stroke="#7cd4e0" stroke-width="0.8"/><path d="M731.3,502.0 A3.2,3.2 0 0 0 734.1,507.4" stroke="#ec8a2a" stroke-width="0.9" fill="none" stroke-linecap="round"/><circle cx="735.2" cy="501.9" r="0.9" fill="#2a1220"/><path d="M727.7,507.2 A2.7,2.7 0 0 1 732.5,509.1" stroke="#f8c040" stroke-width="0.9" fill="none" stroke-linecap="round"/><circle cx="731.0" cy="509.0" r="0.9" fill="#2a1220"/><path d="M725.2,509.8 A3.1,3.1 0 0 0 726.2,515.7" stroke="#f2a53a" stroke-width="0.9" fill="none" stroke-linecap="round"/><circle cx="728.3" cy="511.7" r="0.9" fill="#2a1220"/><path d="M725.7,509.3 A2.4,2.4 0 0 0 727.6,513.4" stroke="#f8c040" stroke-width="0.9" fill="none" stroke-linecap="round"/><circle cx="728.0" cy="509.8" r="0.9" fill="#2a1220"/><path d="M722.6,512.0 A2.5,2.5 0 0 0 724.3,516.6" stroke="#f2a53a" stroke-width="0.9" fill="none" stroke-linecap="round"/><path d="M719.6,514.0 A2.6,2.6 0 0 0 719.0,519.0" stroke="#f2a53a" stroke-width="0.9" fill="none" stroke-linecap="round"/><circle cx="721.7" cy="514.7" r="0.9" fill="#2a1220"/><path d="M717.9,515.0 A2.6,2.6 0 0 1 721.7,518.3" stroke="#f8c040" stroke-width="0.9" fill="none" stroke-linecap="round"/><circle cx="719.3" cy="518.5" r="0.9" fill="#2a1220"/><path d="M716.0,515.9 A2.5,2.5 0 0 1 719.4,519.3" stroke="#ec8a2a" stroke-width="0.9" fill="none" stroke-linecap="round"/><circle cx="718.5" cy="517.3" r="0.9" fill="#2a1220"/><path d="M717.4,515.3 A2.8,2.8 0 0 0 716.3,520.5" stroke="#f8c040" stroke-width="0.9" fill="none" stroke-linecap="round"/><path d="M711.0,517.7 A2.7,2.7 0 0 0 709.2,522.6" stroke="#f2a53a" stroke-width="0.9" fill="none" stroke-linecap="round"/><circle cx="711.9" cy="519.6" r="0.9" fill="#2a1220"/><path d="M712.6,517.2 A3.2,3.2 0 0 1 716.0,522.3" stroke="#ec8a2a" stroke-width="0.9" fill="none" stroke-linecap="round"/><path d="M712.4,516.5 l0.5,1.7" stroke="#7cd4e0" stroke-width="0.8"/><path d="M711.2,517.6 A3.0,3.0 0 0 1 714.7,522.2" stroke="#f8c040" stroke-width="0.9" fill="none" stroke-linecap="round"/><circle cx="712.3" cy="519.0" r="0.9" fill="#2a1220"/><path d="M711.0,516.9 l0.5,1.7" stroke="#7cd4e0" stroke-width="0.8"/><path d="M706.9,518.5 A2.4,2.4 0 0 0 705.2,522.8" stroke="#f8c040" stroke-width="0.9" fill="none" stroke-linecap="round"/><path d="M704.0,518.7 A2.3,2.3 0 0 0 701.8,522.7" stroke="#ec8a2a" stroke-width="0.9" fill="none" stroke-linecap="round"/><path d="M702.6,518.7 A2.8,2.8 0 0 1 705.9,522.8" stroke="#f8c040" stroke-width="0.9" fill="none" stroke-linecap="round"/><circle cx="700.8" cy="521.6" r="0.9" fill="#2a1220"/><path d="M699.8,518.6 A2.4,2.4 0 0 0 697.9,522.8" stroke="#f8c040" stroke-width="0.9" fill="none" stroke-linecap="round"/><circle cx="699.8" cy="522.0" r="0.9" fill="#2a1220"/><path d="M694.7,517.8 A2.8,2.8 0 0 0 691.2,522.0" stroke="#f2a53a" stroke-width="0.9" fill="none" stroke-linecap="round"/><circle cx="693.9" cy="519.5" r="0.9" fill="#2a1220"/><path d="M692.1,517.0 A2.8,2.8 0 0 1 693.2,522.2" stroke="#f8c040" stroke-width="0.9" fill="none" stroke-linecap="round"/><circle cx="691.2" cy="520.8" r="0.9" fill="#2a1220"/><path d="M693.5,517.4 A2.7,2.7 0 0 0 689.4,520.7" stroke="#f2a53a" stroke-width="0.9" fill="none" stroke-linecap="round"/><circle cx="693.9" cy="519.7" r="0.9" fill="#2a1220"/><path d="M691.9,516.9 A2.6,2.6 0 0 1 693.1,521.8" stroke="#ec8a2a" stroke-width="0.9" fill="none" stroke-linecap="round"/><path d="M690.2,516.3 A3.2,3.2 0 0 1 690.3,522.4" stroke="#f8c040" stroke-width="0.9" fill="none" stroke-linecap="round"/><circle cx="689.8" cy="518.1" r="0.9" fill="#2a1220"/><path d="M690.5,515.6 l-0.7,1.6" stroke="#7cd4e0" stroke-width="0.8"/><path d="M687.0,514.8 A3.1,3.1 0 0 0 682.3,518.5" stroke="#ec8a2a" stroke-width="0.9" fill="none" stroke-linecap="round"/><circle cx="685.2" cy="516.4" r="0.9" fill="#2a1220"/><path d="M682.0,511.4 A2.9,2.9 0 0 1 681.0,516.8" stroke="#f2a53a" stroke-width="0.9" fill="none" stroke-linecap="round"/><circle cx="679.2" cy="512.8" r="0.9" fill="#2a1220"/><path d="M681.5,511.0 A2.9,2.9 0 0 0 676.1,512.5" stroke="#f2a53a" stroke-width="0.9" fill="none" stroke-linecap="round"/><circle cx="679.1" cy="514.1" r="0.9" fill="#2a1220"/><path d="M678.5,508.1 A3.2,3.2 0 0 1 676.2,513.8" stroke="#f2a53a" stroke-width="0.9" fill="none" stroke-linecap="round"/><circle cx="676.1" cy="508.1" r="0.9" fill="#2a1220"/><path d="M678.8,508.4 A2.6,2.6 0 0 1 677.8,513.4" stroke="#f8c040" stroke-width="0.9" fill="none" stroke-linecap="round"/><circle cx="675.7" cy="510.0" r="0.9" fill="#2a1220"/><path d="M677.6,507.0 A3.0,3.0 0 0 1 675.8,512.5" stroke="#ec8a2a" stroke-width="0.9" fill="none" stroke-linecap="round"/><circle cx="675.7" cy="510.7" r="0.9" fill="#2a1220"/><path d="M674.5,502.7 A2.4,2.4 0 0 0 669.9,502.3" stroke="#f2a53a" stroke-width="0.9" fill="none" stroke-linecap="round"/><path d="M674.6,502.9 A2.7,2.7 0 0 1 671.5,506.9" stroke="#f8c040" stroke-width="0.9" fill="none" stroke-linecap="round"/><circle cx="673.7" cy="504.4" r="0.9" fill="#2a1220"/><path d="M674.4,502.4 A2.6,2.6 0 0 0 669.4,503.4" stroke="#ec8a2a" stroke-width="0.9" fill="none" stroke-linecap="round"/><circle cx="673.7" cy="504.5" r="0.9" fill="#2a1220"/><path d="M671.3,495.5 A2.6,2.6 0 0 1 667.6,498.6" stroke="#ec8a2a" stroke-width="0.9" fill="none" stroke-linecap="round"/><circle cx="668.0" cy="496.4" r="0.9" fill="#2a1220"/><path d="M670.6,492.3 A3.0,3.0 0 0 1 666.9,496.7" stroke="#ec8a2a" stroke-width="0.9" fill="none" stroke-linecap="round"/><circle cx="666.8" cy="492.7" r="0.9" fill="#2a1220"/><path d="M671.3,492.2 l-1.7,0.3" stroke="#7cd4e0" stroke-width="0.8"/><path d="M670.5,491.9 A2.6,2.6 0 0 1 667.1,495.6" stroke="#f2a53a" stroke-width="0.9" fill="none" stroke-linecap="round"/><circle cx="668.4" cy="493.7" r="0.9" fill="#2a1220"/><path d="M670.4,491.6 A2.7,2.7 0 0 1 666.1,494.3" stroke="#f8c040" stroke-width="0.9" fill="none" stroke-linecap="round"/><path d="M670.0,487.0 A2.7,2.7 0 0 0 665.0,485.3" stroke="#ec8a2a" stroke-width="0.9" fill="none" stroke-linecap="round"/><path d="M670.7,487.0 l-1.7,0.1" stroke="#7cd4e0" stroke-width="0.8"/><path d="M670.0,486.2 A2.9,2.9 0 0 0 665.1,483.7" stroke="#f8c040" stroke-width="0.9" fill="none" stroke-linecap="round"/><circle cx="667.2" cy="485.4" r="0.9" fill="#2a1220"/><path d="M670.3,481.3 A2.8,2.8 0 0 0 665.9,478.1" stroke="#ec8a2a" stroke-width="0.9" fill="none" stroke-linecap="round"/><circle cx="668.3" cy="480.2" r="0.9" fill="#2a1220"/><path d="M670.8,478.4 A2.7,2.7 0 0 0 667.3,474.6" stroke="#f2a53a" stroke-width="0.9" fill="none" stroke-linecap="round"/><circle cx="669.1" cy="477.5" r="0.9" fill="#2a1220"/><path d="M671.0,477.7 A2.9,2.9 0 0 1 665.4,478.0" stroke="#ec8a2a" stroke-width="0.9" fill="none" stroke-linecap="round"/><circle cx="668.5" cy="478.1" r="0.9" fill="#2a1220"/><path d="M671.7,477.9 l-1.7,-0.4" stroke="#7cd4e0" stroke-width="0.8"/><path d="M672.4,473.6 A2.7,2.7 0 0 1 667.2,473.0" stroke="#f2a53a" stroke-width="0.9" fill="none" stroke-linecap="round"/><circle cx="669.6" cy="472.7" r="0.9" fill="#2a1220"/><path d="M672.0,474.5 A3.2,3.2 0 0 0 668.5,469.5" stroke="#f2a53a" stroke-width="0.9" fill="none" stroke-linecap="round"/><circle cx="669.3" cy="475.0" r="0.9" fill="#2a1220"/><path d="M672.7,474.8 l-1.6,-0.6" stroke="#7cd4e0" stroke-width="0.8"/><path d="M672.4,473.5 A2.6,2.6 0 0 1 667.5,473.1" stroke="#f2a53a" stroke-width="0.9" fill="none" stroke-linecap="round"/><circle cx="669.9" cy="474.5" r="0.9" fill="#2a1220"/><path d="M673.3,471.6 A3.0,3.0 0 0 1 667.5,472.3" stroke="#f8c040" stroke-width="0.9" fill="none" stroke-linecap="round"/><circle cx="671.0" cy="472.6" r="0.9" fill="#2a1220"/><path d="M674.0,471.9 l-1.6,-0.8" stroke="#7cd4e0" stroke-width="0.8"/><path d="M674.5,469.3 A2.4,2.4 0 0 0 672.2,465.3" stroke="#f2a53a" stroke-width="0.9" fill="none" stroke-linecap="round"/><path d="M677.9,464.6 A3.1,3.1 0 0 0 675.3,459.2" stroke="#f8c040" stroke-width="0.9" fill="none" stroke-linecap="round"/><path d="M676.4,466.4 A3.1,3.1 0 0 1 670.5,466.5" stroke="#ec8a2a" stroke-width="0.9" fill="none" stroke-linecap="round"/><path d="M680.7,461.7 A2.9,2.9 0 0 1 675.4,459.9" stroke="#f2a53a" stroke-width="0.9" fill="none" stroke-linecap="round"/><path d="M683.5,459.5 A2.5,2.5 0 0 1 679.1,457.6" stroke="#f8c040" stroke-width="0.9" fill="none" stroke-linecap="round"/><path d="M684.2,459.0 A2.7,2.7 0 0 1 679.4,456.9" stroke="#ec8a2a" stroke-width="0.9" fill="none" stroke-linecap="round"/><circle cx="682.2" cy="456.2" r="0.9" fill="#2a1220"/><path d="M684.5,458.8 A2.4,2.4 0 0 0 684.0,454.1" stroke="#ec8a2a" stroke-width="0.9" fill="none" stroke-linecap="round"/><circle cx="684.6" cy="455.9" r="0.9" fill="#2a1220"/><path d="M686.3,457.7 A3.0,3.0 0 0 0 685.1,451.9" stroke="#ec8a2a" stroke-width="0.9" fill="none" stroke-linecap="round"/><circle cx="683.7" cy="455.8" r="0.9" fill="#2a1220"/><path d="M687.1,457.2 A2.7,2.7 0 0 0 687.3,452.0" stroke="#f8c040" stroke-width="0.9" fill="none" stroke-linecap="round"/><path d="M691.3,455.3 A3.0,3.0 0 0 0 691.3,449.6" stroke="#ec8a2a" stroke-width="0.9" fill="none" stroke-linecap="round"/><circle cx="691.3" cy="452.8" r="0.9" fill="#2a1220"/><path d="M691.6,456.0 l-0.6,-1.6" stroke="#7cd4e0" stroke-width="0.8"/><path d="M692.2,455.0 A3.0,3.0 0 0 1 687.9,451.1" stroke="#ec8a2a" stroke-width="0.9" fill="none" stroke-linecap="round"/><circle cx="690.9" cy="453.1" r="0.9" fill="#2a1220"/><path d="M695.7,454.0 A3.2,3.2 0 0 0 696.7,447.9" stroke="#f8c040" stroke-width="0.9" fill="none" stroke-linecap="round"/><circle cx="695.8" cy="452.4" r="0.9" fill="#2a1220"/><path d="M702.2,453.3 A2.6,2.6 0 0 0 705.2,449.2" stroke="#ec8a2a" stroke-width="0.9" fill="none" stroke-linecap="round"/><path d="M704.3,453.3 A2.3,2.3 0 0 0 706.4,449.3" stroke="#f8c040" stroke-width="0.9" fill="none" stroke-linecap="round"/><circle cx="706.5" cy="450.4" r="0.9" fill="#2a1220"/><path d="M705.5,453.4 A3.0,3.0 0 0 1 703.5,448.0" stroke="#f8c040" stroke-width="0.9" fill="none" stroke-linecap="round"/><circle cx="706.7" cy="451.2" r="0.9" fill="#2a1220"/><path d="M705.4,454.1 l0.2,-1.7" stroke="#7cd4e0" stroke-width="0.8"/><path d="M707.0,453.5 A2.4,2.4 0 0 1 705.9,449.0" stroke="#f2a53a" stroke-width="0.9" fill="none" stroke-linecap="round"/><circle cx="707.4" cy="451.0" r="0.9" fill="#2a1220"/><path d="M709.8,454.0 A2.4,2.4 0 0 1 708.2,449.6" stroke="#ec8a2a" stroke-width="0.9" fill="none" stroke-linecap="round"/><circle cx="710.3" cy="450.3" r="0.9" fill="#2a1220"/><path d="M711.1,454.3 A3.1,3.1 0 0 0 715.7,450.5" stroke="#ec8a2a" stroke-width="0.9" fill="none" stroke-linecap="round"/><path d="M714.7,455.5 A2.8,2.8 0 0 0 718.6,451.8" stroke="#ec8a2a" stroke-width="0.9" fill="none" stroke-linecap="round"/><circle cx="716.3" cy="452.9" r="0.9" fill="#2a1220"/><path d="M716.4,456.2 A3.0,3.0 0 0 0 721.2,452.9" stroke="#f8c040" stroke-width="0.9" fill="none" stroke-linecap="round"/><circle cx="718.5" cy="455.2" r="0.9" fill="#2a1220"/><path d="M720.3,458.4 A2.4,2.4 0 0 0 723.9,455.5" stroke="#f2a53a" stroke-width="0.9" fill="none" stroke-linecap="round"/><path d="M722.0,459.6 A2.6,2.6 0 0 1 722.0,454.6" stroke="#f8c040" stroke-width="0.9" fill="none" stroke-linecap="round"/><circle cx="721.5" cy="457.0" r="0.9" fill="#2a1220"/><path d="M721.6,460.2 l1.0,-1.4" stroke="#7cd4e0" stroke-width="0.8"/><path d="M723.2,460.5 A2.7,2.7 0 0 0 727.4,457.4" stroke="#f2a53a" stroke-width="0.9" fill="none" stroke-linecap="round"/><path d="M722.6,460.0 A2.4,2.4 0 0 0 726.5,457.4" stroke="#ec8a2a" stroke-width="0.9" fill="none" stroke-linecap="round"/><circle cx="725.2" cy="459.0" r="0.9" fill="#2a1220"/><path d="M724.2,461.3 A3.2,3.2 0 0 0 730.2,459.9" stroke="#f8c040" stroke-width="0.9" fill="none" stroke-linecap="round"/><circle cx="724.8" cy="459.4" r="0.9" fill="#2a1220"/><path d="M726.4,463.4 A2.5,2.5 0 0 0 731.2,462.8" stroke="#f8c040" stroke-width="0.9" fill="none" stroke-linecap="round"/><path d="M729.0,466.5 A3.0,3.0 0 0 0 734.8,466.3" stroke="#ec8a2a" stroke-width="0.9" fill="none" stroke-linecap="round"/><path d="M730.1,468.1 A2.5,2.5 0 0 1 732.9,464.1" stroke="#ec8a2a" stroke-width="0.9" fill="none" stroke-linecap="round"/><circle cx="732.3" cy="467.1" r="0.9" fill="#2a1220"/><path d="M729.7,467.5 A3.0,3.0 0 0 1 733.2,462.9" stroke="#f2a53a" stroke-width="0.9" fill="none" stroke-linecap="round"/><path d="M732.2,471.7 A3.1,3.1 0 0 1 735.4,466.6" stroke="#f8c040" stroke-width="0.9" fill="none" stroke-linecap="round"/><circle cx="734.1" cy="469.7" r="0.9" fill="#2a1220"/><path d="M731.5,472.0 l1.6,-0.8" stroke="#7cd4e0" stroke-width="0.8"/><path d="M733.3,474.2 A3.1,3.1 0 0 1 736.6,469.3" stroke="#ec8a2a" stroke-width="0.9" fill="none" stroke-linecap="round"/><path d="M733.3,474.3 A2.6,2.6 0 0 1 736.3,470.4" stroke="#f8c040" stroke-width="0.9" fill="none" stroke-linecap="round"/><circle cx="736.7" cy="472.4" r="0.9" fill="#2a1220"/><path d="M732.6,474.6 l1.6,-0.6" stroke="#7cd4e0" stroke-width="0.8"/><path d="M734.8,479.7 A2.8,2.8 0 0 1 739.3,476.7" stroke="#f2a53a" stroke-width="0.9" fill="none" stroke-linecap="round"/><circle cx="737.5" cy="477.4" r="0.9" fill="#2a1220"/><path d="M735.3,482.8 A2.8,2.8 0 0 0 740.0,485.3" stroke="#f2a53a" stroke-width="0.9" fill="none" stroke-linecap="round"/><path d="M735.4,486.7 A3.1,3.1 0 0 0 741.2,488.4" stroke="#ec8a2a" stroke-width="0.9" fill="none" stroke-linecap="round"/><circle cx="737.0" cy="487.4" r="0.9" fill="#2a1220"/>
<path d="M745,502 C748,515 746,527 737,532 C729,535 722,533 716,528" stroke="#5cb4c8" stroke-width="9.5" fill="none" stroke-linecap="round"/>
<path d="M745,502 C748,515 746,527 737,532 C729,535 722,533 716,528" stroke="#8ad8e6" stroke-width="6" fill="none" stroke-linecap="round"/>
<circle cx="711.3" cy="506" r="76.5" fill="none" stroke="#1a1a1a" stroke-width="1.3"/>
<text x="711.5" y="557.3" font-size="12" fill="#111" text-anchor="middle">PSMA</text>
<text x="711.5" y="571.8" font-size="12.2" fill="#111" text-anchor="middle">targeting</text>
<linearGradient id="ga1" gradientUnits="userSpaceOnUse" x1="980" y1="220" x2="950" y2="165"><stop offset="0" stop-color="#aac0e4" stop-opacity="0.6"/><stop offset="1" stop-color="#2a55a8"/></linearGradient><path d="M980.3,219.9 L979.6,217.2 L978.7,213.7 L977.8,210.7 L976.9,207.8 L975.9,204.9 L975.0,202.1 L973.9,199.4 L972.9,196.7 L971.8,194.1 L970.7,191.6 L969.5,189.2 L968.3,186.8 L967.1,184.5 L965.8,182.3 L964.5,180.1 L963.2,178.0 L961.8,176.0 L960.4,174.0 L958.9,172.1 L957.4,170.3 L955.9,168.6 L954.3,166.9 L952.5,165.1 L951.1,163.8 L948.9,166.2 L950.4,167.4 L952.2,169.1 L953.8,170.6 L955.4,172.2 L956.9,173.8 L958.4,175.6 L959.8,177.4 L961.3,179.3 L962.7,181.3 L964.0,183.4 L965.4,185.5 L966.7,187.7 L967.9,190.0 L969.2,192.3 L970.4,194.8 L971.5,197.3 L972.7,199.9 L973.8,202.5 L974.9,205.3 L975.9,208.1 L976.9,211.0 L977.9,213.9 L978.9,217.4 L979.7,220.1Z" fill="url(#ga1)"/><polygon points="943.9,159.8 955.8,162.8 949.2,164.4 948.7,171.1" fill="#2a55a8"/>
<linearGradient id="ga2" gradientUnits="userSpaceOnUse" x1="1012" y1="238" x2="1060" y2="202"><stop offset="0" stop-color="#aac0e4" stop-opacity="0.6"/><stop offset="1" stop-color="#2a55a8"/></linearGradient><path d="M1012.1,238.3 L1014.1,237.6 L1016.8,236.6 L1019.1,235.7 L1021.3,234.7 L1023.6,233.6 L1025.8,232.6 L1028.0,231.4 L1030.2,230.2 L1032.3,228.9 L1034.4,227.6 L1036.5,226.2 L1038.6,224.8 L1040.6,223.3 L1042.6,221.7 L1044.6,220.1 L1046.6,218.4 L1048.5,216.7 L1050.4,214.9 L1052.3,213.1 L1054.1,211.2 L1056.0,209.2 L1057.8,207.2 L1059.7,204.8 L1061.3,203.0 L1058.7,201.0 L1057.3,202.9 L1055.5,205.3 L1053.8,207.3 L1052.1,209.3 L1050.4,211.2 L1048.6,213.1 L1046.8,214.9 L1045.0,216.7 L1043.1,218.4 L1041.3,220.1 L1039.4,221.7 L1037.4,223.2 L1035.5,224.7 L1033.5,226.2 L1031.5,227.6 L1029.4,228.9 L1027.3,230.2 L1025.2,231.4 L1023.1,232.6 L1020.9,233.8 L1018.7,234.8 L1016.5,235.8 L1013.9,236.9 L1011.9,237.7Z" fill="url(#ga2)"/><polygon points="1064.9,195.7 1062.5,207.7 1060.6,201.2 1053.8,201.0" fill="#2a55a8"/>
<linearGradient id="ga3" gradientUnits="userSpaceOnUse" x1="1024" y1="272" x2="1070" y2="306"><stop offset="0" stop-color="#aac0e4" stop-opacity="0.6"/><stop offset="1" stop-color="#2a55a8"/></linearGradient><path d="M1023.8,272.2 L1025.1,273.7 L1026.8,275.6 L1028.3,277.2 L1029.9,278.9 L1031.5,280.5 L1033.2,282.1 L1034.9,283.7 L1036.6,285.2 L1038.4,286.8 L1040.2,288.3 L1042.1,289.8 L1043.9,291.3 L1045.8,292.7 L1047.8,294.2 L1049.8,295.6 L1051.8,297.0 L1053.9,298.4 L1056.0,299.7 L1058.1,301.1 L1060.3,302.4 L1062.5,303.7 L1064.7,304.9 L1067.3,306.3 L1069.3,307.4 L1070.7,304.6 L1068.7,303.6 L1066.1,302.3 L1063.9,301.1 L1061.6,300.0 L1059.4,298.8 L1057.3,297.5 L1055.2,296.3 L1053.1,295.0 L1051.0,293.7 L1049.0,292.4 L1047.0,291.1 L1045.1,289.7 L1043.1,288.4 L1041.3,287.0 L1039.4,285.5 L1037.6,284.1 L1035.8,282.6 L1034.0,281.2 L1032.3,279.7 L1030.6,278.1 L1029.0,276.6 L1027.4,275.0 L1025.6,273.2 L1024.2,271.8Z" fill="url(#ga3)"/><polygon points="1077.2,309.6 1064.9,309.6 1070.9,306.4 1069.8,299.7" fill="#2a55a8"/>
<text x="39.6" y="176.9" font-size="15.57" fill="#111" textLength="71.5" lengthAdjust="spacingAndGlyphs">PSMA-SH</text>
<text x="225.8" y="177.0" font-size="15.08" fill="#111" textLength="46.9" lengthAdjust="spacingAndGlyphs">MNs-II</text>
<text x="212.6" y="195.3" font-size="14.80" fill="#8a8684" textLength="74.4" lengthAdjust="spacingAndGlyphs">PAI &amp; PTT</text>
<text x="405.3" y="195.8" font-size="14.39" fill="#8a8684" textLength="29.4" lengthAdjust="spacingAndGlyphs">PET</text>
<text x="553.2" y="195.8" font-size="14.39" fill="#8a8684" textLength="24.3" lengthAdjust="spacingAndGlyphs">RIT</text>
<text x="530.9" y="54.2" font-size="14.66" fill="#111" textLength="21.8" lengthAdjust="spacingAndGlyphs">Mn</text>
<text x="530.9" y="72.5" font-size="13.27" fill="#8a8684" textLength="27.1" lengthAdjust="spacingAndGlyphs">MRI</text>
<text x="122.3" y="277.5" font-size="18.44" fill="#111" textLength="101.1" lengthAdjust="spacingAndGlyphs">PMNs-II-813</text>
<text x="221.3" y="488.4" font-size="24.44" fill="#111" textLength="107.9" lengthAdjust="spacingAndGlyphs" font-style="italic">ATTACK !</text>
<text x="489.3" y="365.6" font-size="13.69" fill="#111" textLength="41.2" lengthAdjust="spacingAndGlyphs">Laser</text>
<text x="827.9" y="149.3" font-size="14.94" fill="#111" textLength="24.4" lengthAdjust="spacingAndGlyphs">PAI</text>
<text x="1118.6" y="283.4" font-size="14.53" fill="#111" textLength="29.1" lengthAdjust="spacingAndGlyphs">MRI</text>
<text x="1118.4" y="574.0" font-size="15.36" fill="#111" textLength="30.3" lengthAdjust="spacingAndGlyphs">PET</text>
<text x="916.4" y="531.5" font-size="17.60" fill="#6c4c9c" textLength="55.6" lengthAdjust="spacingAndGlyphs">Tumor</text>
<text x="758.1" y="633.8" font-size="18.16" fill="#111" textLength="316.2" lengthAdjust="spacingAndGlyphs" xml:space="preserve">Dual Therapy  &amp;  Multimodal Imaging</text>
<text x="692.3" y="557.2" font-size="12.29" fill="#111" textLength="37.4" lengthAdjust="spacingAndGlyphs">PSMA</text>
<text x="412.9" y="128.4" font-size="19.69" fill="#7a5a22" textLength="25.5" lengthAdjust="spacingAndGlyphs">Zr</text>
<text x="684.7" y="571.5" font-size="11.6" fill="#111" textLength="53" lengthAdjust="spacingAndGlyphs">targeting</text>
<text x="552.5" y="49" font-size="9.5" fill="#111">2+</text>
<text x="399" y="121.5" font-size="12" fill="#7a5a22">89</text>
<text x="545.9" y="121.8" font-size="14" fill="#c85a2a" textLength="24" lengthAdjust="spacingAndGlyphs">131</text>
<rect x="572" y="112.5" width="3.8" height="16" fill="#c85a2a"/>
</svg>
</body></html>
